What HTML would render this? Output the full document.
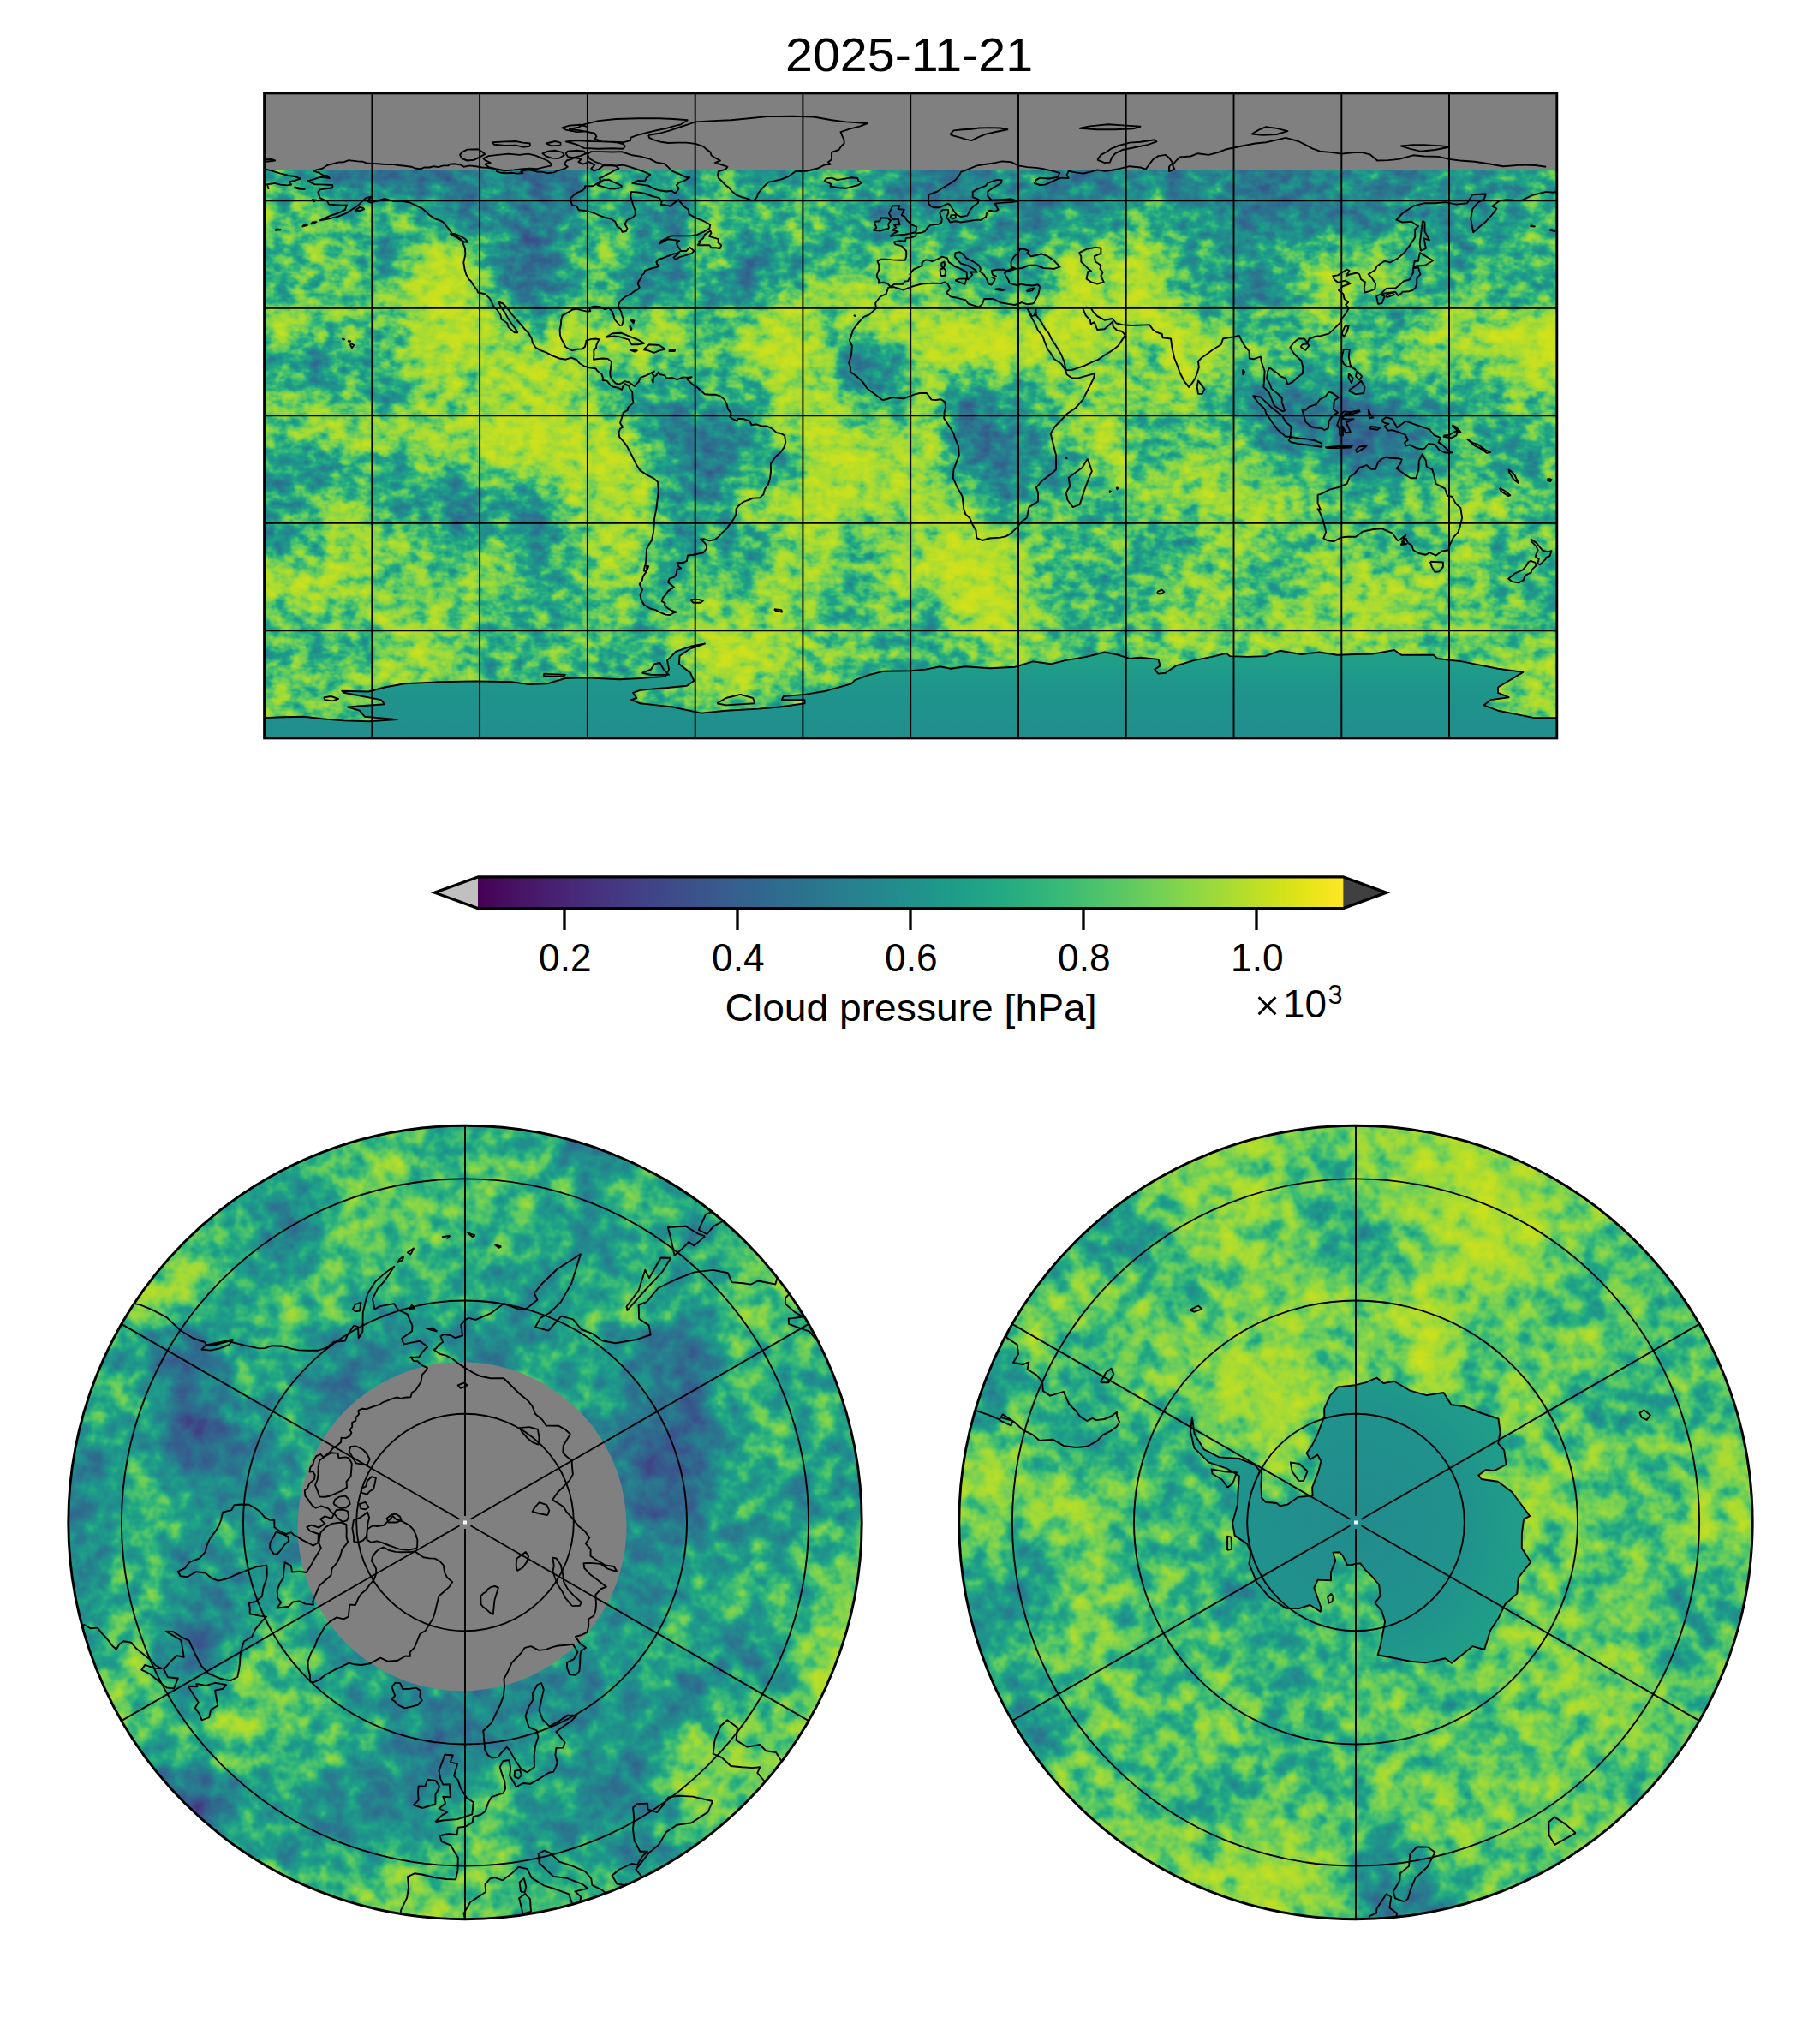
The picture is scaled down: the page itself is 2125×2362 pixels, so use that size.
<!DOCTYPE html>
<html><head><meta charset="utf-8"><title>Cloud pressure 2025-11-21</title>
<style>
html,body{margin:0;padding:0;background:#fff;}
body{width:2125px;height:2362px;overflow:hidden;}
svg{display:block;}
text{font-family:"Liberation Sans",sans-serif;fill:#000;}
</style></head><body>
<svg xmlns="http://www.w3.org/2000/svg" width="2125" height="2362" viewBox="0 0 2125 2362">
<defs><filter id="fr" x="-5%" y="-5%" width="110%" height="110%" color-interpolation-filters="sRGB">
<feGaussianBlur in="SourceGraphic" stdDeviation="6" result="b"/>
<feTurbulence type="fractalNoise" baseFrequency="0.05 0.07" numOctaves="3" seed="3" result="t"/>
<feColorMatrix in="t" type="matrix" values="1 0 0 0 0 1 0 0 0 0 1 0 0 0 0 0 0 0 0 1" result="t2"/>
<feComposite in="b" in2="t2" operator="arithmetic" k1="0" k2="1" k3="0.45" k4="-0.225" result="c"/>
<feColorMatrix in="c" type="matrix" values="1 0 0 0 0 1 0 0 0 0 1 0 0 0 0 0 0 0 0 1" result="g"/>
<feComponentTransfer in="g"><feFuncR type="table" tableValues="0.2803 0.2814 0.2819 0.2823 0.2829 0.2831 0.2832 0.2832 0.2831 0.2829 0.2823 0.2819 0.2814 0.2803 0.2796 0.2780 0.2771 0.2762 0.2741 0.2730 0.2706 0.2666 0.2637 0.2606 0.2556 0.2522 0.2486 0.2431 0.2393 0.2355 0.2297 0.2259 0.2220 0.2162 0.2124 0.2068 0.2031 0.1976 0.1941 0.1889 0.1856 0.1806 0.1774 0.1727 0.1696 0.1651 0.1621 0.1577 0.1534 0.1490 0.1433 0.1391 0.1337 0.1299 0.1254 0.1226 0.1201 0.1194 0.1214 0.1281 0.1402 0.1579 0.1807 0.2080 0.2394 0.2741 0.3119 0.3524 0.3952 0.4219 0.4494 0.4870 0.5160 0.5455 0.5756 0.6060 0.6369 0.6473 0.6576 0.6785 0.6889 0.6994 0.7204 0.7309 0.7414 0.7624 0.7729 0.7729 0.7833 0.7833 0.7938 0.7938 0.8042 0.8146 0.8146 0.8249"/><feFuncG type="table" tableValues="0.0734 0.0843 0.0897 0.0950 0.1054 0.1106 0.1157 0.1258 0.1309 0.1359 0.1459 0.1509 0.1558 0.1657 0.1706 0.1804 0.1852 0.1901 0.1997 0.2045 0.2141 0.2283 0.2376 0.2469 0.2607 0.2698 0.2788 0.2921 0.3009 0.3095 0.3224 0.3308 0.3392 0.3515 0.3597 0.3718 0.3797 0.3915 0.3993 0.4109 0.4186 0.4300 0.4375 0.4488 0.4563 0.4674 0.4748 0.4859 0.4970 0.5081 0.5228 0.5338 0.5485 0.5596 0.5743 0.5854 0.6001 0.6111 0.6295 0.6477 0.6659 0.6838 0.7014 0.7187 0.7356 0.7520 0.7678 0.7830 0.7975 0.8058 0.8138 0.8239 0.8312 0.8380 0.8446 0.8507 0.8565 0.8584 0.8602 0.8637 0.8654 0.8671 0.8703 0.8719 0.8734 0.8764 0.8779 0.8779 0.8793 0.8793 0.8807 0.8807 0.8820 0.8834 0.8834 0.8847"/><feFuncB type="table" tableValues="0.3972 0.4074 0.4124 0.4173 0.4269 0.4316 0.4361 0.4450 0.4492 0.4534 0.4615 0.4654 0.4692 0.4765 0.4800 0.4867 0.4899 0.4930 0.4989 0.5017 0.5071 0.5143 0.5188 0.5228 0.5283 0.5316 0.5346 0.5385 0.5408 0.5429 0.5457 0.5473 0.5488 0.5506 0.5517 0.5531 0.5539 0.5550 0.5556 0.5563 0.5568 0.5573 0.5576 0.5579 0.5580 0.5581 0.5581 0.5580 0.5577 0.5573 0.5563 0.5553 0.5535 0.5519 0.5491 0.5466 0.5425 0.5390 0.5320 0.5235 0.5134 0.5017 0.4882 0.4729 0.4557 0.4366 0.4156 0.3926 0.3678 0.3519 0.3354 0.3123 0.2943 0.2756 0.2564 0.2367 0.2166 0.2099 0.2031 0.1895 0.1827 0.1760 0.1626 0.1560 0.1496 0.1371 0.1311 0.1311 0.1254 0.1254 0.1200 0.1200 0.1150 0.1103 0.1103 0.1062"/></feComponentTransfer>
</filter>
<filter id="fp" x="-5%" y="-5%" width="110%" height="110%" color-interpolation-filters="sRGB">
<feGaussianBlur in="SourceGraphic" stdDeviation="6" result="b"/>
<feTurbulence type="fractalNoise" baseFrequency="0.04" numOctaves="3" seed="7" result="t"/>
<feColorMatrix in="t" type="matrix" values="1 0 0 0 0 1 0 0 0 0 1 0 0 0 0 0 0 0 0 1" result="t2"/>
<feComposite in="b" in2="t2" operator="arithmetic" k1="0" k2="1" k3="0.4" k4="-0.2" result="c"/>
<feColorMatrix in="c" type="matrix" values="1 0 0 0 0 1 0 0 0 0 1 0 0 0 0 0 0 0 0 1" result="g"/>
<feComponentTransfer in="g"><feFuncR type="table" tableValues="0.2803 0.2814 0.2819 0.2823 0.2829 0.2831 0.2832 0.2832 0.2831 0.2829 0.2823 0.2819 0.2814 0.2803 0.2796 0.2780 0.2771 0.2762 0.2741 0.2730 0.2706 0.2666 0.2637 0.2606 0.2556 0.2522 0.2486 0.2431 0.2393 0.2355 0.2297 0.2259 0.2220 0.2162 0.2124 0.2068 0.2031 0.1976 0.1941 0.1889 0.1856 0.1806 0.1774 0.1727 0.1696 0.1651 0.1621 0.1577 0.1534 0.1490 0.1433 0.1391 0.1337 0.1299 0.1254 0.1226 0.1201 0.1194 0.1214 0.1281 0.1402 0.1579 0.1807 0.2080 0.2394 0.2741 0.3119 0.3524 0.3952 0.4219 0.4494 0.4870 0.5160 0.5455 0.5756 0.6060 0.6369 0.6473 0.6576 0.6785 0.6889 0.6994 0.7204 0.7309 0.7414 0.7624 0.7729 0.7729 0.7833 0.7833 0.7938 0.7938 0.8042 0.8146 0.8146 0.8249"/><feFuncG type="table" tableValues="0.0734 0.0843 0.0897 0.0950 0.1054 0.1106 0.1157 0.1258 0.1309 0.1359 0.1459 0.1509 0.1558 0.1657 0.1706 0.1804 0.1852 0.1901 0.1997 0.2045 0.2141 0.2283 0.2376 0.2469 0.2607 0.2698 0.2788 0.2921 0.3009 0.3095 0.3224 0.3308 0.3392 0.3515 0.3597 0.3718 0.3797 0.3915 0.3993 0.4109 0.4186 0.4300 0.4375 0.4488 0.4563 0.4674 0.4748 0.4859 0.4970 0.5081 0.5228 0.5338 0.5485 0.5596 0.5743 0.5854 0.6001 0.6111 0.6295 0.6477 0.6659 0.6838 0.7014 0.7187 0.7356 0.7520 0.7678 0.7830 0.7975 0.8058 0.8138 0.8239 0.8312 0.8380 0.8446 0.8507 0.8565 0.8584 0.8602 0.8637 0.8654 0.8671 0.8703 0.8719 0.8734 0.8764 0.8779 0.8779 0.8793 0.8793 0.8807 0.8807 0.8820 0.8834 0.8834 0.8847"/><feFuncB type="table" tableValues="0.3972 0.4074 0.4124 0.4173 0.4269 0.4316 0.4361 0.4450 0.4492 0.4534 0.4615 0.4654 0.4692 0.4765 0.4800 0.4867 0.4899 0.4930 0.4989 0.5017 0.5071 0.5143 0.5188 0.5228 0.5283 0.5316 0.5346 0.5385 0.5408 0.5429 0.5457 0.5473 0.5488 0.5506 0.5517 0.5531 0.5539 0.5550 0.5556 0.5563 0.5568 0.5573 0.5576 0.5579 0.5580 0.5581 0.5581 0.5580 0.5577 0.5573 0.5563 0.5553 0.5535 0.5519 0.5491 0.5466 0.5425 0.5390 0.5320 0.5235 0.5134 0.5017 0.4882 0.4729 0.4557 0.4366 0.4156 0.3926 0.3678 0.3519 0.3354 0.3123 0.2943 0.2756 0.2564 0.2367 0.2166 0.2099 0.2031 0.1895 0.1827 0.1760 0.1626 0.1560 0.1496 0.1371 0.1311 0.1311 0.1254 0.1254 0.1200 0.1200 0.1150 0.1103 0.1103 0.1062"/></feComponentTransfer>
</filter>
<clipPath id="crect"><rect x="308.6" y="108.9" width="1509.2" height="753"/></clipPath>
<clipPath id="cnp"><circle cx="543.0" cy="1777.5" r="463.2"/></clipPath>
<clipPath id="csp"><circle cx="1583.0" cy="1777.5" r="463.2"/></clipPath></defs>
<text x="1061.6" y="83" font-size="55.5" text-anchor="middle" textLength="289" lengthAdjust="spacingAndGlyphs">2025-11-21</text>
<g clip-path="url(#crect)"><g filter="url(#fr)"><rect x="278.6" y="78.9" width="1569.2" height="51.4" fill="url(#r0)"/><rect x="278.6" y="129.8" width="1569.2" height="21.4" fill="url(#r1)"/><rect x="278.6" y="150.7" width="1569.2" height="21.4" fill="url(#r2)"/><rect x="278.6" y="171.7" width="1569.2" height="21.4" fill="url(#r3)"/><rect x="278.6" y="192.6" width="1569.2" height="21.4" fill="url(#r4)"/><rect x="278.6" y="213.5" width="1569.2" height="21.4" fill="url(#r5)"/><rect x="278.6" y="234.4" width="1569.2" height="21.4" fill="url(#r6)"/><rect x="278.6" y="255.3" width="1569.2" height="21.4" fill="url(#r7)"/><rect x="278.6" y="276.2" width="1569.2" height="21.4" fill="url(#r8)"/><rect x="278.6" y="297.1" width="1569.2" height="21.4" fill="url(#r9)"/><rect x="278.6" y="318.1" width="1569.2" height="21.4" fill="url(#r10)"/><rect x="278.6" y="339" width="1569.2" height="21.4" fill="url(#r11)"/><rect x="278.6" y="359.9" width="1569.2" height="21.4" fill="url(#r12)"/><rect x="278.6" y="380.8" width="1569.2" height="21.4" fill="url(#r13)"/><rect x="278.6" y="401.7" width="1569.2" height="21.4" fill="url(#r14)"/><rect x="278.6" y="422.6" width="1569.2" height="21.4" fill="url(#r15)"/><rect x="278.6" y="443.6" width="1569.2" height="21.4" fill="url(#r16)"/><rect x="278.6" y="464.5" width="1569.2" height="21.4" fill="url(#r17)"/><rect x="278.6" y="485.4" width="1569.2" height="21.4" fill="url(#r18)"/><rect x="278.6" y="506.3" width="1569.2" height="21.4" fill="url(#r19)"/><rect x="278.6" y="527.2" width="1569.2" height="21.4" fill="url(#r20)"/><rect x="278.6" y="548.1" width="1569.2" height="21.4" fill="url(#r21)"/><rect x="278.6" y="569.1" width="1569.2" height="21.4" fill="url(#r22)"/><rect x="278.6" y="590" width="1569.2" height="21.4" fill="url(#r23)"/><rect x="278.6" y="610.9" width="1569.2" height="21.4" fill="url(#r24)"/><rect x="278.6" y="631.8" width="1569.2" height="21.4" fill="url(#r25)"/><rect x="278.6" y="652.7" width="1569.2" height="21.4" fill="url(#r26)"/><rect x="278.6" y="673.6" width="1569.2" height="21.4" fill="url(#r27)"/><rect x="278.6" y="694.6" width="1569.2" height="21.4" fill="url(#r28)"/><rect x="278.6" y="715.5" width="1569.2" height="21.4" fill="url(#r29)"/><rect x="278.6" y="736.4" width="1569.2" height="21.4" fill="url(#r30)"/><rect x="278.6" y="757.3" width="1569.2" height="21.4" fill="url(#r31)"/><rect x="278.6" y="778.2" width="1569.2" height="21.4" fill="url(#r32)"/><rect x="278.6" y="799.1" width="1569.2" height="21.4" fill="url(#r33)"/><rect x="278.6" y="820.1" width="1569.2" height="21.4" fill="url(#r34)"/><rect x="278.6" y="841" width="1569.2" height="51.4" fill="url(#r35)"/></g>
<rect x="308.6" y="108.9" width="1509.2" height="89.8" fill="#808080"/></g>
<g clip-path="url(#cnp)"><g filter="url(#fp)"><rect x="59.8" y="1284.3" width="966.4" height="59.5" fill="url(#n0)"/><rect x="59.8" y="1343.2" width="966.4" height="29.5" fill="url(#n1)"/><rect x="59.8" y="1372.2" width="966.4" height="29.5" fill="url(#n2)"/><rect x="59.8" y="1401.1" width="966.4" height="29.5" fill="url(#n3)"/><rect x="59.8" y="1430.1" width="966.4" height="29.5" fill="url(#n4)"/><rect x="59.8" y="1459" width="966.4" height="29.5" fill="url(#n5)"/><rect x="59.8" y="1488" width="966.4" height="29.5" fill="url(#n6)"/><rect x="59.8" y="1516.9" width="966.4" height="29.5" fill="url(#n7)"/><rect x="59.8" y="1545.9" width="966.4" height="29.5" fill="url(#n8)"/><rect x="59.8" y="1574.8" width="966.4" height="29.5" fill="url(#n9)"/><rect x="59.8" y="1603.8" width="966.4" height="29.5" fill="url(#n10)"/><rect x="59.8" y="1632.8" width="966.4" height="29.5" fill="url(#n11)"/><rect x="59.8" y="1661.7" width="966.4" height="29.5" fill="url(#n12)"/><rect x="59.8" y="1690.6" width="966.4" height="29.5" fill="url(#n13)"/><rect x="59.8" y="1719.6" width="966.4" height="29.5" fill="url(#n14)"/><rect x="59.8" y="1748.5" width="966.4" height="29.5" fill="url(#n15)"/><rect x="59.8" y="1777.5" width="966.4" height="29.5" fill="url(#n16)"/><rect x="59.8" y="1806.4" width="966.4" height="29.5" fill="url(#n17)"/><rect x="59.8" y="1835.4" width="966.4" height="29.5" fill="url(#n18)"/><rect x="59.8" y="1864.3" width="966.4" height="29.5" fill="url(#n19)"/><rect x="59.8" y="1893.3" width="966.4" height="29.5" fill="url(#n20)"/><rect x="59.8" y="1922.2" width="966.4" height="29.5" fill="url(#n21)"/><rect x="59.8" y="1951.2" width="966.4" height="29.5" fill="url(#n22)"/><rect x="59.8" y="1980.1" width="966.4" height="29.5" fill="url(#n23)"/><rect x="59.8" y="2009.1" width="966.4" height="29.5" fill="url(#n24)"/><rect x="59.8" y="2038" width="966.4" height="29.4" fill="url(#n25)"/><rect x="59.8" y="2067" width="966.4" height="29.4" fill="url(#n26)"/><rect x="59.8" y="2095.9" width="966.4" height="29.4" fill="url(#n27)"/><rect x="59.8" y="2124.9" width="966.4" height="29.4" fill="url(#n28)"/><rect x="59.8" y="2153.8" width="966.4" height="29.4" fill="url(#n29)"/><rect x="59.8" y="2182.8" width="966.4" height="29.4" fill="url(#n30)"/><rect x="59.8" y="2211.8" width="966.4" height="59.4" fill="url(#n31)"/></g><circle cx="539.5" cy="1782.3" r="192" fill="#808080"/></g>
<g clip-path="url(#csp)"><g filter="url(#fp)"><rect x="1099.8" y="1284.3" width="966.4" height="59.5" fill="url(#s0)"/><rect x="1099.8" y="1343.2" width="966.4" height="29.5" fill="url(#s1)"/><rect x="1099.8" y="1372.2" width="966.4" height="29.5" fill="url(#s2)"/><rect x="1099.8" y="1401.1" width="966.4" height="29.5" fill="url(#s3)"/><rect x="1099.8" y="1430.1" width="966.4" height="29.5" fill="url(#s4)"/><rect x="1099.8" y="1459" width="966.4" height="29.5" fill="url(#s5)"/><rect x="1099.8" y="1488" width="966.4" height="29.5" fill="url(#s6)"/><rect x="1099.8" y="1516.9" width="966.4" height="29.5" fill="url(#s7)"/><rect x="1099.8" y="1545.9" width="966.4" height="29.5" fill="url(#s8)"/><rect x="1099.8" y="1574.8" width="966.4" height="29.5" fill="url(#s9)"/><rect x="1099.8" y="1603.8" width="966.4" height="29.5" fill="url(#s10)"/><rect x="1099.8" y="1632.8" width="966.4" height="29.5" fill="url(#s11)"/><rect x="1099.8" y="1661.7" width="966.4" height="29.5" fill="url(#s12)"/><rect x="1099.8" y="1690.6" width="966.4" height="29.5" fill="url(#s13)"/><rect x="1099.8" y="1719.6" width="966.4" height="29.5" fill="url(#s14)"/><rect x="1099.8" y="1748.5" width="966.4" height="29.5" fill="url(#s15)"/><rect x="1099.8" y="1777.5" width="966.4" height="29.5" fill="url(#s16)"/><rect x="1099.8" y="1806.4" width="966.4" height="29.5" fill="url(#s17)"/><rect x="1099.8" y="1835.4" width="966.4" height="29.5" fill="url(#s18)"/><rect x="1099.8" y="1864.3" width="966.4" height="29.5" fill="url(#s19)"/><rect x="1099.8" y="1893.3" width="966.4" height="29.5" fill="url(#s20)"/><rect x="1099.8" y="1922.2" width="966.4" height="29.5" fill="url(#s21)"/><rect x="1099.8" y="1951.2" width="966.4" height="29.5" fill="url(#s22)"/><rect x="1099.8" y="1980.1" width="966.4" height="29.5" fill="url(#s23)"/><rect x="1099.8" y="2009.1" width="966.4" height="29.5" fill="url(#s24)"/><rect x="1099.8" y="2038" width="966.4" height="29.4" fill="url(#s25)"/><rect x="1099.8" y="2067" width="966.4" height="29.4" fill="url(#s26)"/><rect x="1099.8" y="2095.9" width="966.4" height="29.4" fill="url(#s27)"/><rect x="1099.8" y="2124.9" width="966.4" height="29.4" fill="url(#s28)"/><rect x="1099.8" y="2153.8" width="966.4" height="29.4" fill="url(#s29)"/><rect x="1099.8" y="2182.8" width="966.4" height="29.4" fill="url(#s30)"/><rect x="1099.8" y="2211.8" width="966.4" height="59.4" fill="url(#s31)"/></g></g>
<g clip-path="url(#crect)"><path d="M308.6 838.1L330 837.2L355.1 836.8L376.1 839.3L401.2 841.4L430.2 842.2L463.7 840.1L426 836.8L419.7 829.7L405.9 825.5L449 822.2L444.8 817.1L401.2 808.8L399.2 806.7L430.2 807.5L449 802.5L472.1 798.3L513.6 796.2L555.5 795.4L597.4 796.2L618 799.1L638.9 798.3L659.9 792L685.1 791.2L722.8 793.3L747.5 792L776.9 789.9L781.1 781.6L779 771.1L789.4 760.7L806.2 754.8L823 751.5L806.2 757.3L793.6 765.7L792.8 775.3L806.2 785.8L810.4 795L802 800.8L776.9 803.3L747.5 805.8L739.1 808.8L743.3 815L737 817.1L747.5 821.3L785.3 825.5L818.8 832.6L847.7 829.7L885.4 827.6L910.6 825.5L939.5 821.3L939.5 817.1L912.7 817.1L914.8 813L939.5 810.9L964.7 806.7L994 798.3L998.2 794.1L1015 787.9L1031.8 783.7L1062.4 783.3L1080.8 781.6L1097.6 778.2L1110.2 780.7L1126.9 778.2L1155.8 780.3L1185.2 778.7L1206.2 772.4L1227.1 775.3L1243.9 771.1L1268.6 766.9L1289.6 761.5L1306.3 764.8L1318.9 769L1331.5 767.8L1352.5 769.9L1354.6 777.4L1348.3 781.6L1352.5 786.6L1360.8 785.8L1373 777.4L1394 771.1L1414.9 766.9L1431.7 762.8L1435.9 766.1L1456.8 766.9L1477.4 766.1L1494.2 759.8L1519.3 764L1540.3 761.5L1561.2 764.8L1581.8 764L1602.7 763.6L1627.9 759L1636.3 764.8L1674 764.8L1678.2 769L1707.1 772.4L1728.1 776.6L1749 780.7L1778.4 784.9L1770 789.9L1749 802.5L1749 808.8L1761.6 814.2L1740.7 817.1L1732.3 823.4L1749 829.7L1770 833.9L1791 838.1L1817.8 838.1L1822.8 866.9L303.6 866.9Z" fill="url(#antg)"/></g><g clip-path="url(#csp)"><path d="M1583 1825.7L1578.6 1827.2L1573.2 1827.3L1570.3 1821.4L1567.4 1815.9L1563.7 1812.3L1556.5 1812.6L1559.2 1822.3L1553.9 1835.8L1554 1845.2L1538.6 1844.6L1534.3 1854L1542.5 1877.3L1541.8 1881.7L1529.5 1874L1516.4 1878.1L1501.7 1877.9L1482.4 1865.3L1467.2 1847.4L1458.4 1825.6L1460.6 1813.1L1456.2 1802.6L1441.7 1792.9L1439.1 1778L1445.1 1756.2L1445.5 1741.4L1446.9 1723.3L1431.9 1714.3L1411.2 1707.4L1394.4 1690.7L1390 1671.8L1391.9 1654.8L1394.7 1674.4L1405.5 1692.1L1423.4 1701.4L1446.9 1703L1464.8 1710.1L1473.2 1719.8L1472.5 1733.5L1473 1748.6L1477.9 1753.8L1490.7 1755L1494.4 1758.3L1503.5 1756.6L1515.5 1747.9L1532.6 1746.4L1532.1 1736.8L1536.2 1726.2L1539.3 1718.2L1542.5 1706L1538.3 1698.6L1529.8 1704L1525.5 1696.6L1532 1687.4L1538.3 1674.7L1546.3 1653.6L1546.2 1644.7L1552.9 1629.7L1562.2 1619.4L1582.4 1617.2L1595 1614.1L1607.4 1608.5L1615.2 1615.1L1627.8 1612.7L1645.6 1623.3L1665.6 1629.1L1685.6 1626L1694.5 1640.2L1709.8 1642L1729.7 1650L1749.5 1656.5L1751.6 1672.2L1749.2 1685.4L1756.1 1693.1L1758.7 1710L1744.6 1717.1L1734.9 1716.1L1726.2 1722.5L1729.7 1727L1748.7 1729.7L1765.1 1741.8L1776.3 1756.8L1786.1 1770.1L1779.1 1773.7L1776.9 1790.7L1776.8 1807.5L1787.2 1823.9L1772.8 1842.1L1771.3 1860.6L1757.2 1873.3L1749.8 1888.8L1740.2 1903.4L1733.1 1926L1719.3 1922.2L1695 1941.7L1687.3 1936.3L1664.4 1941.4L1646.6 1939.7L1629.7 1936.3L1608.6 1932.2L1611.9 1921.1L1617.1 1893.2L1613.4 1880.9L1605.4 1871.5L1611.6 1863.6L1610.2 1850.5L1601.4 1840L1594.2 1833.1L1588.4 1825.4L1583 1825.7Z" fill="url(#antr)"/></g><g clip-path="url(#crect)"><path d="M358.9 211L367.3 215.2L379.9 215.6L388.3 216L388.3 219.3L373.6 221.4L371.5 224.4L373.6 231.1L382 234.8L384.1 238.6L398.7 239.8L405 239.4L402.9 244.9L394.5 249L386.2 251.6L377.8 255.3L373.6 257.4L384.1 255.3L394.5 252.8L405 248.6L411.3 244.4L417.6 240.3L421.8 236.1L426.8 231.5L434.4 229.4L428.9 234.8L432.3 236.5L442.8 234L449 231.9L459.5 234.8L470 234.8L478.4 236.5L486.8 240.3L493.1 243.6L497.2 246.9L501.4 251.1L507.7 255.3L514 257.4L517.4 259.5L520.3 262.8L524.5 267.9L527.4 272.1L528.7 274.1L537.1 278.3L541.3 282.5L540.4 283.8L542.9 289.6L543.4 297.1L541.3 306.4L542.5 313.9L544.2 320.2L547.6 326.4L549.7 328.1L552.2 332.3L557.2 339L558 341.5L566.4 343.2L571.9 348.6L574.4 353.6L576.9 358.6L580.3 361.6L584.4 367.8L585.3 372.5L592.4 377.5L593.7 382.1L600.8 388.3L604.2 388.3L602.1 384.2L597.9 378.7L592.4 370.4L589.5 364.9L585.3 359.1L581.9 352.4L587.4 354.5L592.4 359.9L597.9 367.4L604.2 374.5L608.3 379.1L612.5 384.2L616.7 388.3L620.9 395.5L621.8 400.1L625.5 405.9L630.6 408.8L637.3 411.4L644.4 415.1L653.2 418.5L660.7 419.7L667 417.6L673.3 420.1L676.7 424.3L681.7 427.3L688 429.3L695.5 430.2L697.2 432.7L702.7 437.3L703.9 441.1L703.5 444L707.3 444.4L709 445.2L712.7 449.8L715.7 451.5L721.5 452.8L726.1 454.9L727 451.9L729.5 448.2L734.1 450.7L735.4 454L738.3 457.8L738.7 466.6L739.6 470.3L733.7 475.4L732.4 479.1L727.8 481.6L726.1 487.5L724 493.8L727 498.8L724 500.5L722.4 505.1L723.2 510.1L729.1 516.8L732.9 522.6L737.9 532.3L743.3 543.1L747.5 549.4L755.1 554.4L763.5 558.6L768.1 562.8L768.9 573.2L767.6 583.7L766.4 593.3L763.9 606.7L763.5 615.1L762.6 623.4L760.9 631L758 635.2L755.1 641L754.7 648.5L754.2 654.8L753.4 660.3L757.2 661.1L754.7 667.4L750.9 672.8L749.6 677.8L746.7 682L750 688.3L747.5 694.6L748.8 700.8L752.1 706.3L759.3 710.5L765.6 712.1L771.8 715.5L777.3 717.6L782.3 718L786.5 715.5L789.9 714.6L784.4 713L779.4 710L776 706.3L776.5 704.2L772.7 702.1L773.9 697.9L776.9 695L779.8 690.4L786.9 685.4L780.2 679.9L781.5 675.7L787.4 673.6L789.9 669.5L790.7 664.4L795.3 663.6L792.4 661.5L790.7 656.9L797 657.3L802 654.8L802.9 648.5L809.6 647.7L821.3 645.2L825.1 640.2L825.1 637.3L822.6 633.5L818 629.7L822.1 629.3L828.4 631.4L834.7 630.1L839.3 626.4L843.9 621.4L848.6 617.2L852.8 610.9L856.9 605.5L859.5 600.4L859.5 594.2L862 590.8L868.3 585.8L874.5 583.7L878.7 581.6L887.1 581.2L891.3 577.4L893 571.2L896.8 565.7L898.9 559.4L900.1 550.2L899.7 541.9L901.8 538.5L906 532.7L911 528.5L915.6 522.2L917.3 515.9L916.1 508.4L912.3 506.3L906.8 505.1L901.4 500.5L895.5 497.5L889.2 497.5L882.9 495.4L877.5 496.3L875.4 491.7L868.3 489.2L862 488.7L859.9 491.3L855.7 489.2L852.3 486.7L853.6 482.1L850.2 477.9L848.1 470.8L846 466.6L841 462.4L834.7 460.7L828.4 460.7L823 460.3L818.8 456.5L813.8 451.9L809.2 449.4L805.4 445.7L802 442.3L803.3 440.6L797 440.6L790.7 443.1L785.3 441.1L778.1 441.5L776 438.1L770.6 437.3L768.9 434.4L766.4 438.1L763 440.2L762.6 446.9L761.4 444L763.9 439.4L761.8 436.5L763.9 433.5L760.1 435.6L755.1 438.1L751.7 439.4L747.5 441.1L745.8 445.7L743.3 448.2L740.8 451.1L738.7 449.4L734.9 446.5L729.5 445.2L725.7 447.3L722 448.6L718.6 447.3L715.7 444.4L712.7 439.8L712.3 435.2L713.1 428.9L714 422.6L709.8 418.9L703.5 418.5L696.4 419.3L693 419.7L693.4 415.1L693.4 408.8L696 406.3L696.4 402.6L699.3 396.3L695.5 395.5L690.5 395.9L684.6 397.6L683.8 401.3L683 404.7L679.6 407.6L674.2 407.6L668.3 409.3L663.7 407.2L659.9 404.7L658.2 400.5L655.3 395.5L654 391.3L653.6 385L654.9 378.7L655.3 373.3L656.6 368.3L662.8 364.9L668.3 361.6L673.3 360.7L679.6 362.4L685.1 363.7L689.3 363.2L688 359.1L694.3 357.8L700.6 358.2L706 361.2L711.1 359.9L714.4 363.2L716.5 368.3L717.3 372.5L720.3 376.2L723.6 380L726.1 379.6L727.4 375.8L727.8 372.5L725.7 367L725.3 364.1L722.8 359.9L722 355.7L724.5 351.1L729.9 346.5L736.2 343.6L740.4 340.2L744.6 338.1L746.7 335.6L744.6 331L745.8 328.1L748.4 325.2L749.2 321.4L752.1 319.3L753 316L757.2 314.7L761.8 313L766.8 311.8L769.7 310.5L767.2 308.4L766.4 305.9L768.9 302.6L773.9 301.3L778.1 299.7L782.3 298L785.7 296.7L789.9 295.9L793.6 293.8L791.5 296.7L786.5 300.5L788.6 303L793.6 300.1L797.8 298.8L803.3 297.1L807.5 295.9L810.4 293L807.5 290.5L805.4 288.8L801.2 293L794.9 293L791.5 287.5L789.9 284.2L793.2 281.3L786.5 280L780.2 279.2L776 281.3L769.7 284.6L771.8 281.3L778.1 278.3L783.2 275.4L794.9 275.4L805.4 275.4L813.8 274.1L822.1 270.4L828.4 266.6L829.3 262.4L824.2 259.5L820.1 257.4L814.6 255.3L809.6 252.8L804.5 249.9L804.1 244.9L799.1 241.5L794.5 236.1L792.4 233.1L788.6 236.1L782.3 240.7L776.9 239.4L771.8 239L772.7 235.2L769.7 231.1L761.4 229L753 226L746.7 224.8L737 223.9L736.2 229.4L737.9 234.8L739.6 240.7L741.7 246.1L741.7 251.1L738.3 254.1L732 257L729.5 261.6L732.4 266.6L730.8 270L726.6 270.8L724.9 267L720.3 264.1L718.2 258.7L713.1 255.3L706.9 254.1L700.6 252L694.3 249L689.3 247.4L683.8 246.1L675.8 245.3L673.3 240.7L667.9 239.4L666.6 235.2L666.2 231.5L669.6 228.1L673.3 225.2L679.6 222.7L683 219.8L683 217.2L692.2 217.2L697.2 214.3L701.4 211L699.7 208L703.5 206.8L707.3 204.3L711.9 202.2L717.8 198.8L722.4 196.8L719 193.8L713.1 193.4L704.8 193L699.3 197.6L693 199.3L690.1 196.8L694.3 192.6L688 189.2L680.5 191.7L675.4 189.2L678.8 185.5L671.2 184.2L667 185.9L661.6 187.5L658.7 191.7L662.8 194.7L659.5 196.8L654.5 198.4L650.3 199.7L646.5 201.4L638.9 202.2L633.9 200.9L627.2 200.5L618.8 198.4L612.5 198.8L608.3 200.5L610.4 202.2L604.2 202.6L597.9 201.8L591.6 202.2L585.3 201.8L579.8 200.1L582.4 198L575.2 196.8L569.8 195.9L563.1 195.5L555.9 194.2L548.4 193.4L541.7 194.7L538.3 192.6L530.8 191.3L525.3 191.7L523.2 193.4L517.4 193.4L511.9 195.1L506.1 194.2L501.9 195.5L495.2 195.5L491.8 197.2L485.9 196.8L480.1 194.7L472.5 193.8L465.8 193L459.5 192.1L452.8 192.1L446.9 191.7L441.1 191.3L434.4 190.9L428.1 190.5L423.9 188.8L417.6 188.4L407.1 187.1L401.7 189.2L394.5 189.6L388.3 191.3L382 193L376.5 196.8L369.4 198.4L366 199.7L373.6 202.2L377.4 204.7L382.8 205.5L384.9 208L379.9 207.2L373.6 206.8L367.7 208.9L361.8 210.6L358.9 211M757.2 157.8L769.7 155.8L782.3 152.4L790.7 149.5L803.3 145.3L811.7 142.4L832.6 141.1L853.6 140.3L874.5 138.2L895.5 136.1L924.9 135.7L950 136.5L971 140.3L987.7 142.4L1012.9 144L1004.5 147.4L991.9 150.7L981.5 154.1L983.5 159.1L985.6 163.3L985.6 167.5L981.5 171.7L979.4 175L971 177.9L971 182.1L971 186.3L966.8 189.6L969.7 191.7L962.6 192.6L954.2 196.8L941.6 199.7L929 200.1L920.7 206L912.3 209.3L903.9 211.4L897.2 212.6L893.4 216.4L889.2 220.6L885 226L883.8 230.2L880.8 233.6L877.9 234.4L872.5 231.9L866.2 230.2L859.9 227.7L854.8 223.5L851.5 219.3L847.3 216.4L843.1 211.8L838.9 208L838.1 204.3L838.9 200.1L847.3 197.6L849.4 194.7L843.1 192.6L834.7 190.1L841 187.5L834.7 184.2L830.5 181.3L829.3 177.5L825.1 174.6L820.9 170.8L811.7 167.9L801.2 166.6L790.7 166.6L780.2 167L771.8 165.8L763.5 163.3L758 160.8L757.2 157.8M788.6 226L784.4 222.7L778.1 223.5L769.7 222.3L762.6 219.8L757.2 216.8L748.8 215.6L738.3 213.9L744.6 211L753 211.4L755.1 207.2L759.3 203.9L753 200.9L744.6 198L736.2 195.1L727.8 192.6L719.4 193.4L711.1 192.6L702.7 191.7L694.3 188.8L688 185L685.9 180L690.1 177.1L702.7 177.1L715.2 177.5L725.7 177.1L738.3 181.3L748.8 182.9L759.3 185.9L766.4 189.6L776 191.3L780.2 195.1L784.4 199.7L792.8 203L801.2 206.8L805.4 207.2L799.1 211L792.8 213.1L789.9 216.4L792.8 219.8L788.6 226M803.3 140.3L786.5 139L769.7 138.2L744.6 138.2L719.4 139L698.5 141.1L681.7 145.3L675.4 148.6L664.9 150.7L677.5 152.4L694.3 155.8L696.4 159.5L694.3 162L702.7 165.4L715.2 165.8L727.8 166.2L736.2 164.1L736.2 160.8L742.5 158.3L748.8 156.6L757.2 154.5L767.6 152L778.1 149.9L786.5 147.4L794.9 145.3L803.3 140.3M685.9 153.2L673.3 154.1L660.7 151.6L656.6 149.1L664.9 146.6L677.5 145.7L685.9 148.2L685.9 153.2M727.8 173.7L715.2 173.3L698.5 173.7L681.7 172.9L675.4 169.6L669.1 167.5L660.7 165.4L673.3 164.1L690.1 165L706.9 165.4L719.4 166.2L727.8 168.3L729.9 170.8L727.8 173.7M644 193.4L635.6 195.1L627.2 197.2L618.8 196.8L610.4 197.2L600 198.4L589.5 199.3L579 197.2L570.6 195.1L566.4 191.7L572.7 190.1L566.4 187.1L564.3 185L570.6 182.1L581.1 180.9L593.7 179.6L606.2 180.9L616.7 179.6L625.1 181.7L633.5 185L639.8 188L642.7 190.5L644 193.4M539.2 185L545.5 187.5L553.8 186.7L560.1 183.4L566.4 180L562.2 176.7L558 174.2L545.5 174.6L539.2 177.9L537.1 180.9L539.2 185M652.4 185L644 184.6L637.7 182.5L633.5 179.2L639.8 176.7L648.2 175.8L656.6 177.9L658.7 181.3L652.4 185M669.1 184.2L662.8 182.9L660.7 179.2L662.8 176.7L673.3 175.8L681.7 176.7L684.6 179.2L677.5 182.1L669.1 184.2M618.8 170.8L610.4 171.7L602.1 169.6L589.5 170L576.9 168.7L574.8 166.2L589.5 165.4L602.1 165L610.4 166.6L618.8 167.5L618.8 170.8M654.5 169.6L644 170.4L637.7 167.5L648.2 165L654.5 166.6L654.5 169.6M725.7 218.9L717.3 220.6L711.1 220.2L702.7 217.7L697.6 216.4L700.6 213.5L704.8 210.1L711.1 209.7L715.2 212.2L721.5 214.7L725.7 216.8L725.7 218.9M968.9 217.7L971 215.2L962.6 211.4L964.7 208.5L971 207.6L977.3 210.1L985.6 208.9L994 207.2L1001.2 208L1002.4 211.4L1006.2 213.1L1002.4 216L996.1 217.7L987.7 219.8L979.4 219.3L973.1 218.1L968.9 217.7M1109.3 157L1113.5 152.4L1124 151.2L1134.5 150.7L1142.9 149.5L1155.4 149.1L1168 149.5L1176.4 151.2L1163.8 153.7L1151.2 156.6L1142.9 159.9L1134.5 164.1L1128.2 162.9L1121.9 160.8L1113.5 158.7L1109.3 157M1281.2 186.7L1285.4 180.9L1291.7 177.5L1298 173.3L1306.3 170L1318.9 166.6L1331.5 165.8L1348.3 163.3L1350.4 165.4L1339.9 169.1L1323.1 172.5L1310.5 175L1302.2 179.2L1298 184.2L1295.9 189.6L1289.6 190.1L1281.2 186.7M1461.5 156.6L1469.8 151.6L1478.2 148.2L1490.8 149.9L1503.4 153.2L1490.8 157L1474 157.8L1461.5 156.6M1635.4 170.4L1650.1 169.1L1662.7 169.1L1683.6 170.4L1692 171.7L1675.3 175L1658.5 176.7L1645.9 173.7L1635.4 170.4M310.7 186.3L317 185.9L321.2 187.5L310.7 188.8M351.8 208.9L344.2 206L335.8 204.7L327.5 202.6L317 199.3L308.6 197.2M1805.2 194.7L1792.6 193L1775.9 192.6L1754.9 194.2L1738.1 191.3L1721.4 188.8L1704.6 187.5L1692 185.9L1679.5 182.9L1662.7 182.5L1650.1 181.3L1633.3 185.9L1620.8 187.1L1608.2 187.5L1599.8 180.4L1589.3 177.9L1578.8 178.3L1566.3 179.6L1553.7 177.9L1541.1 176.7L1532.7 173.7L1524.3 169.1L1516 165L1501.3 160.8L1490.8 163.3L1478.2 166.2L1465.7 167.5L1448.9 170.8L1432.1 174.2L1423.7 177.5L1411.2 180.9L1398.6 179.2L1390.2 182.5L1377.6 183.4L1373.4 187.5L1369.2 192.6L1371.3 197.6L1365 200.1L1365 194.7L1369.2 190.1L1365 184.2L1360.8 180.9L1352.5 182.1L1346.2 186.3L1342 191.7L1337.8 197.6L1331.5 195.5L1318.9 194.2L1306.3 197.2L1298 198.8L1289.6 199.7L1281.2 198.4L1272.8 200.9L1264.4 202.6L1256 201.4L1247.7 199.7L1245.6 204.3L1247.7 208L1239.3 207.6L1235.1 208.9L1228.8 211.8L1220.4 215.6L1214.1 216L1207.8 213.9L1209.9 210.1L1214.1 207.6L1224.6 208.5L1235.1 206.8L1237.2 201.8L1228.8 199.7L1218.3 197.2L1209.9 195.9L1199.4 195.1L1189 193.4L1180.6 189.2L1170.1 188.4L1161.7 190.1L1151.2 191.7L1140.8 193.4L1130.3 197.6L1121.9 200.9L1119.8 205.1L1115.6 210.1L1109.3 214.3L1100.9 219.3L1094.6 223.5L1084.2 227.3L1084.2 232.3L1084.2 237.7L1086.7 240.7L1090.4 242.3L1096.7 242.3L1100.9 240.3L1107.2 237.7L1109.3 239.4L1111.4 242.8L1113.5 246.1L1116.9 250.7L1121.9 253.2L1129.4 251.6L1132.4 245.7L1136.6 240.7L1142 236.9L1142.9 233.1L1135.7 230.2L1135.7 223.9L1142.9 219.8L1151.2 216.8L1153.3 213.5L1163.8 210.1L1169.7 210.1L1168.8 213.9L1159.6 219.3L1153.3 223.5L1153.3 229L1157.5 233.6L1168 233.1L1180.6 232.3L1189 234.8L1180.6 236.1L1168 236.9L1161.7 237.7L1163.8 241.5L1165.5 244.9L1161.7 246.9L1155.4 245.7L1152.1 249L1151.2 253.2L1147.9 255.3L1144.9 257L1140.8 256.6L1130.3 258.2L1121.9 259.5L1115.6 258.2L1109.3 259.5L1107.2 256.2L1105.1 253.2L1107.2 249L1107.2 244.9L1100.9 244.9L1097.2 247.8L1098.4 252.4L1099.7 255.3L1099.3 259.5L1096.7 261.6L1092.5 262L1086.3 262.8L1082.9 265.8L1080 270L1075.8 271.6L1069.9 272.5L1069.1 275.4L1063.2 277.5L1057.8 277.9L1056.9 281.7L1050.6 281.3L1043.9 282.5L1045.6 285.4L1052.7 287.1L1055.7 290.5L1058.2 293L1058.2 299.2L1056.9 303.8L1050.6 303.8L1042.2 303.4L1033.9 302.6L1028.8 302.6L1024.6 304.7L1026.3 309.7L1026.3 314.7L1023.8 321L1024.2 324.3L1026.3 327.3L1025.9 330.6L1031.8 329.8L1036.8 331.5L1039.7 334.8L1044.3 331.9L1054 331.9L1056.5 328.5L1060.3 328.1L1061.9 324.3L1063.2 322.7L1062.4 320.2L1066.6 314.7L1076.6 310.1L1076.6 306.4L1080 303.8L1083.3 303.4L1088.4 305.1L1095.5 302.2L1100.1 299.7L1106 301.3L1107.6 305.9L1114.8 311L1119.8 313L1128.6 317.6L1129 323.9L1130.3 326.4L1132.8 323.9L1135.3 320.6L1132.8 317.2L1140.8 317.6L1138.7 315.1L1130.3 310.1L1121.9 307.6L1114.8 299.7L1115.6 295.1L1120.2 294.2L1124 296.3L1128.2 301.3L1136.6 305.5L1142.9 309.7L1144.9 313.9L1144.1 316.8L1149.1 321L1151.7 325.2L1154.2 331.5L1157.5 332.7L1160.5 328.5L1161.7 325.6L1158.4 323.9L1163 322.7L1158.8 320.6L1157.9 316L1163.8 314.7L1172.2 314.7L1175.1 316.4L1180.6 313.9L1184.8 313L1180.6 311.4L1180.6 305.5L1183.5 300.1L1187.7 295.9L1191.1 290.9L1195.3 290.5L1201.5 293L1199.4 295.5L1203.6 299.2L1209.9 298L1216.2 296.3L1222.5 298.8L1229.6 303.4L1237.6 311.4L1230.9 313.9L1218.3 313L1209.9 309.7L1201.5 309.7L1193.2 313L1185.6 313.9L1173 318.1L1174.3 322.2L1177.6 327.3L1178.5 330.6L1182.7 331.9L1189 333.5L1191.5 331.5L1197.4 332.7L1205.7 333.5L1212 332.3L1214.1 334.8L1213.3 339.8L1212 344.4L1209.9 348.2L1207.8 353.2L1205.7 354.5L1199.4 355.3L1193.2 353.2L1189 354.5L1184.8 356.1L1168 353.2L1159.6 349L1149.1 349L1147 354.9L1142.9 358.6L1130.3 354.5L1127.3 350.3L1117.7 347.8L1110.2 346.5L1105.1 341.9L1109.3 336.9L1106.4 331.5L1103 329.4L1098.8 331L1088.4 330.6L1075.8 331.5L1063.2 335.2L1054.8 338.6L1043.5 335.2L1037.2 335.6L1034.7 343.2L1027.6 346.5L1022.1 354L1023 359.9L1015 367.4L1008.7 369.9L1002.4 376.6L996.1 385L991.9 397.6L994.9 403.8L994 414.3L991.1 423.9L993.2 428.9L992.8 433.9L1000.3 439.4L1007.4 446.1L1012.9 454L1017.1 457L1029.7 466.6L1031.8 467L1042.2 464.1L1054.8 465.3L1067.4 460.7L1073.7 459L1082.1 459L1087.5 466.6L1092.5 467L1098.8 466.2L1103 469.1L1104.3 474.9L1102.6 481.2L1102.2 488.3L1109.3 499.2L1113.5 506.3L1114.8 510.9L1119 521L1119.8 531.4L1113.5 548.1L1112.7 557.8L1117.7 569.1L1123.6 579.5L1125.2 594.2L1127.3 600.4L1132.4 605L1135.7 613L1139.5 619.3L1140.3 628.1L1144.9 630.1L1147 631L1155.4 628.5L1168 627.6L1174.3 626.4L1180.6 622.6L1186.9 616.3L1193.2 608.8L1199 604.6L1201.1 594.2L1201.5 592.1L1212 585.4L1212 575.3L1209.9 569.1L1217.5 560.7L1228.8 552.3L1233 548.1L1233 531.4L1228.8 514.7L1226.7 506.3L1231.7 498L1237.2 492.5L1245.6 483.3L1256 476.2L1264.4 466.6L1270.7 454L1277 441.5L1278.3 436L1270.7 438.1L1260.2 441.1L1251.8 441.5L1245.6 437.3L1244.3 432.7L1239.3 424.7L1230.9 419.3L1226.7 412.2L1223.3 408L1219.2 397.6L1217.5 392.5L1212 385.8L1207.8 376.6L1203.6 369.1L1199.9 360.3L1204.9 369.1L1207.4 368.3L1209.5 362L1209.9 368.3L1216.2 376.6L1220.4 384.2L1224.6 389.2L1227.5 395.5L1233 403.8L1239.3 414.3L1242.6 422.6L1244.7 432.3L1251.8 431.9L1266.5 426.8L1277 421.8L1282 420.1L1289.6 414.7L1295.9 410.9L1301.3 407.2L1305.5 403.8L1308.4 399.6L1313.9 391.3L1309.7 386.7L1304.3 385.8L1299.6 381.2L1299.2 375.4L1295.9 378.7L1289.6 384.2L1281.2 385L1279.1 379.6L1277.8 376.2L1273.6 378.3L1272.8 373.7L1267.8 368.3L1264.4 360.3L1268.6 358.6L1273.6 359.5L1277 364.9L1281.2 369.1L1289.6 373.7L1298.8 372L1303.4 377.5L1310.5 379.1L1321 380L1331.5 379.6L1342 379.1L1346.2 385L1350.4 387.9L1356.7 390L1357.5 394.2L1367.1 395.5L1368.4 405.9L1371.3 418.5L1375.5 428.9L1377.6 435.2L1383.1 445.7L1388.1 451.9L1391 448.6L1395.2 442.3L1397.7 436L1399.8 428.9L1399 421.8L1403.6 417.2L1408.2 414.3L1415.3 408.8L1425.8 402.2L1427.9 395.5L1434.2 394.2L1440.5 393.4L1446.8 391.7L1449.7 397.6L1453.1 403.8L1458.5 410.1L1458.9 418.5L1463.6 419.3L1471.9 416.4L1472.8 422.6L1476.6 433.1L1476.1 443.6L1475.3 451.9L1481.6 458.2L1484.1 464.5L1487.9 473.7L1497.1 480L1500 479.5L1496.7 469.5L1496.7 464.5L1491.6 459.5L1484.5 454L1482.4 447.8L1479.1 442.3L1480.3 433.1L1482.4 428.9L1486.2 432.3L1490.8 435.2L1495 439.4L1501.3 441.9L1503.4 449L1509.7 445.7L1513.9 441.5L1521 436L1521.4 428.9L1519.3 421L1510.9 413L1506.3 405.9L1510.1 400.5L1516 395.5L1523.1 395.5L1526.4 400.5L1528.5 395.5L1536.9 392.5L1542 392.1L1551.6 389.6L1558.7 382.9L1564.2 377.5L1566.3 372.5L1571.3 366.2L1574.7 359.9L1571.3 355.7L1574.2 352.8L1569.6 349L1568.4 343.2L1562.9 339L1567.5 334.4L1576.7 331L1570.5 327.7L1562.1 329.8L1557.9 326.4L1556.2 322.2L1562.1 321.4L1568.4 317.2L1572.6 314.7L1575.5 316L1571.7 322.2L1576.7 320.2L1584.3 318.5L1587.2 320.2L1588.9 326L1593.9 329.4L1592.7 336.9L1593.5 341.5L1599 340.2L1605.3 337.7L1606.1 331.5L1602.3 325.2L1597.7 320.2L1606.1 314.7L1607.4 311L1611.1 308.4L1616.6 304.7L1622.9 306.4L1631.2 302.2L1639.6 295.1L1645.9 286.7L1652.2 277.1L1652.2 267.9L1656 264.1L1648 258.7L1637.5 259.5L1630.4 256.6L1637.5 249L1650.1 240.7L1662.7 237.3L1675.3 237.3L1687.8 236.1L1700.4 238.6L1713 237.3L1719.3 227.3L1734.8 226.5L1733.1 231.9L1725.6 236.5L1719.3 244L1717.2 255.3L1720.1 271.2L1727.7 264.5L1734 259.5L1742.3 250.3L1747.4 243.6L1742.3 240.7L1750.7 234.4L1759.1 233.1L1775.9 234.4L1788.5 228.1L1805.2 223.9L1813.6 224.8L1817.8 223.5M313.6 221L312 215.2L321.2 213.9L327.5 215.6L335.8 216.4L340 215.6L337.9 212.2L344.2 211L348.4 209.3L351.8 208.9M1039.3 275.8L1046.4 274.6L1056.9 273.7L1069.1 271.2L1070.3 264.9L1064.5 262.4L1063.2 261.2L1059 257.4L1056.5 253.2L1052.7 251.1L1055.7 244.9L1048.5 244L1050.6 240.3L1042.2 240.3L1040.1 244.9L1038 249L1040.1 253.2L1043.1 256.2L1048.9 255.7L1049.8 259.5L1050.6 262.4L1043.9 262.4L1046.4 265.8L1041.4 268.7L1048.5 270.4L1044.3 272.1L1039.3 275.8M1038 267L1037.2 261.6L1040.1 257.4L1036 254.5L1028.4 254.5L1027.1 258.2L1021.3 258.7L1021.7 262L1023.4 265.8L1020 268.7L1027.6 269.5L1036.4 267L1038 267M1606.9 345.3L1609 354.9L1613.6 354L1616.6 346.1L1612.4 343.6L1606.9 345.3M1612 343.2L1618.7 336.9L1630 336.1L1633.3 333.5L1638.8 328.5L1645.9 326.4L1650.1 318.1L1650.1 313L1656 312.2L1658.5 320.2L1654.3 325.2L1654.3 331.5L1652.6 336.1L1649.3 339L1645.1 340.2L1637.5 340.7L1636.7 341.9L1632.5 345.3L1629.1 340.7L1620.8 341.9L1612.4 343.2L1612 343.2M1618.7 347.4L1627.9 344L1625.8 341.9L1619.5 343.2L1618.7 347.4M1650.1 311.8L1654.3 310.5L1663.9 309.7L1673.2 304.3L1666.9 300.5L1658.1 295.1L1656.8 299.2L1656 304.7L1651.8 304.7L1650.1 311.8M1658.9 293L1664.8 290L1662.7 278.3L1669 280.4L1663.5 270L1663.5 259.5L1661 258.2L1659.3 272.1L1657.7 284.6L1658.9 293M1566.7 389.2L1569.2 393.4L1572.6 387.1L1574.7 380.8L1570.5 380.8L1566.7 389.2M1518.5 405.1L1524.3 408.8L1528.5 403.4L1526.4 401.3L1520.6 402.2L1518.5 405.1M1397.7 451.9L1399 444.4L1406.5 454.4L1403.6 459.9L1399 459.9L1397.7 451.9M1566.3 418.5L1568.8 408L1575.9 408L1574.7 416.4L1576.7 426.8L1583 431.9L1578.8 428.9L1572.6 427.7L1568.8 424.7L1566.3 418.5M1574.7 456.1L1583 460.3L1592.3 459L1593.5 451.9L1589.3 444.8L1582.2 450.7L1574.7 456.1M1584.3 433.1L1590.2 439.4L1587.2 443.6L1583 439.4L1584.3 433.1M1574.7 436L1579.7 441.5L1578 447.3L1574.7 441.5L1574.7 436M1520.2 477.9L1524.3 478.7L1528.5 474.9L1536.9 472L1541.1 466.2L1547.4 463.2L1551.6 457.4L1555.8 459L1562.9 464.1L1557.9 467.4L1557 477.9L1562.1 481.6L1555.8 485.4L1551.6 491.7L1550.8 500L1546.1 502.1L1543.2 500L1534.8 499.2L1530.6 498L1524.3 492.5L1522.2 484.6L1520.2 477.9M1462.7 462L1471.9 463.6L1483.7 474.9L1497.1 485.4L1501.3 492.9L1507.6 498L1506.7 509.7L1501.3 509.7L1492.1 502.1L1485.8 493.8L1478.2 482.5L1477 477.9L1469.8 470.8L1462.7 462M1504.2 513.8L1507.6 510.1L1517.2 511.8L1526.4 512.6L1535.2 514.3L1543.2 517.6L1543.2 521.8L1528.5 519.7L1516 518L1507.6 516.4L1504.2 513.8M1547.4 522.2L1562.1 521L1570.5 520.5L1578.8 520.1L1576.7 522.6L1562.1 523.1L1549.5 523.1L1547.4 522.2M1583 525.1L1587.2 521.4L1595.6 520.5L1591.4 523.9L1584.3 528.1L1583 525.1M1564.2 508.4L1563.8 500L1561.2 496.3L1565.4 484.1L1569.2 480.4L1576.7 481.2L1586.8 479.1L1587.6 480.4L1578.8 483.3L1570.5 483.3L1567.1 488.7L1573 489.6L1580.5 489.2L1571.7 493.3L1576.7 504.2L1571.3 505.5L1567.9 498L1567.9 508.4L1564.2 508.4M1597.7 477.9L1599.8 483.3L1603.2 487.5L1599 488.3L1597.7 477.9M1599.8 498L1611.5 499.2L1608.2 501.7L1599.8 500.5L1599.8 498M1612.4 491.3L1618.7 487.1L1625.4 489.2L1631.2 499.2L1641.3 491.7L1654.3 496.3L1669 501.3L1674.4 508L1682 510.9L1679.5 516.4L1683.6 518.9L1690.8 525.6L1695.4 528.5L1687.8 528.5L1680.7 525.6L1675.3 518.9L1667.7 518L1663.5 523.5L1660.6 524.3L1654.3 523.5L1645.9 519.3L1641.7 520.5L1640 516.8L1643.8 513.8L1640.9 507.6L1631.2 503.8L1625 502.1L1620.8 502.6L1616.6 497.5L1621.6 494.6L1616.6 493.8L1612.4 491.3M1685.7 508.4L1692 508L1698.3 504.2L1701.7 503L1700.4 508.4L1694.1 511.3L1685.7 509.7L1685.7 508.4M1713 512.6L1719.3 516.8L1725.6 518.9L1734 525.1L1740.2 528.1L1736.1 528.9L1729.8 524.3L1721.4 520.1L1713 512.6M1761.2 548.1L1764.1 550.2L1768.3 554.4L1772.9 564L1767.5 559.9L1762.5 552.3L1761.2 548.1M1750.7 569.9L1757 573.2L1763.3 578.3L1761.2 579.1L1752.8 573.7L1750.7 569.9M1807.3 558.6L1811.5 559.9L1810.3 562L1806.9 561.1L1807.3 558.6M1538.6 577.4L1541.1 577.4L1552.4 571.6L1562.1 569.1L1572.6 564.9L1575.9 556.5L1581.4 553.2L1587.2 546.1L1595.6 543.1L1601.1 547.7L1606.1 547.7L1609 539.8L1612.4 536.4L1618.7 533.5L1622.9 534.8L1632.9 535.2L1636.7 536.4L1635.4 541L1630.8 546.9L1639.6 553.6L1647.2 558.2L1653.5 558.2L1656.4 548.1L1656.8 538.1L1660.6 530.2L1664.8 537.7L1665.6 544.8L1672.3 548.1L1675.3 558.6L1676.5 564.9L1687 570.3L1689.9 578.7L1695.4 579.9L1699.6 587.9L1705.4 593.3L1707.1 604.6L1704.6 615.1L1702.5 621.4L1697.1 627.2L1692 638.1L1691.6 642.3L1683.6 643.5L1676.5 648.5L1669 645.2L1664.8 647.7L1656.4 646L1650.1 642.3L1648.4 636.8L1643.8 633.9L1641.7 628.9L1639.6 633.1L1637.1 632.7L1641.3 624.7L1633.3 631L1631.7 631L1625.8 622.6L1613.2 617.2L1603.6 618L1591.4 620.5L1583 626.8L1572.6 626.8L1565.4 627.6L1557.5 632.2L1549.5 631L1545.3 628.5L1548.2 621.4L1545.3 608.8L1541.1 598.4L1538.6 594.2L1542 595.4L1538.6 587.9L1538.6 577.4M1669.8 655.7L1684.9 656.5L1684.9 661.9L1680.3 667.4L1675.3 667.8L1671.9 661.9L1669.8 655.7M1787.2 629.3L1793.9 633.9L1798.9 640.2L1801 642.7L1807.3 644.4L1811.5 643.1L1809.4 649.4L1805.2 650.6L1804.8 652.7L1798.1 659.4L1795.2 657.8L1796.8 652.7L1792.6 649.8L1795.6 642.3L1793.9 638.1L1788.5 632.7L1787.2 629.3M1787.2 654.8L1792.6 656.9L1793.5 660.3L1788.5 665.3L1787.6 668.6L1780.9 671.6L1778.8 677.4L1772.9 680.3L1765.4 679.1L1761.2 675.7L1768.8 669.5L1778 665.3L1782.2 660.3L1784.7 656.1L1787.2 654.8M1269.9 535.6L1274.9 550.2L1272 556.5L1266.5 571.2L1260.7 589.1L1252.7 592.1L1246.4 583.7L1244.7 575.3L1249.3 567.8L1247.7 557.8L1256 551.5L1263.6 546.1L1269.9 535.6M707.3 393.8L715.2 389.2L725.7 388.8L738.3 394.2L745.8 397.1L752.1 400.9L744.6 402.2L737.5 402.2L734.1 396.7L723.6 393.4L717.3 392.5L707.3 393.8M751.3 408.4L758 402.2L769.7 403L776.5 407.6L769.7 409.3L763.5 411.8L757.2 409.3L751.3 408.4M734.9 408.4L743.8 409.3L741.2 410.5L734.9 408.4M781.5 408.4L788.2 408.4L787.8 410.1L781.5 410.1L781.5 408.4M409.6 400.9L413.4 403L410.9 406.3L409.2 403L409.6 400.9M406.3 397.6L409.2 398.4L407.5 399.2L406.3 397.6M399.6 395L402.1 396.3L400.4 396.3L399.6 395M806.2 700L815.9 700L820.9 701.3L818 703.8L809.6 703.8L806.2 700M903.9 711.3L912.3 712.1L913.1 714.6L906 713.4L903.9 711.3M1268.6 290.9L1279.1 288.8L1285.4 289.6L1285.4 295.9L1277.8 299.2L1279.1 305.5L1285.4 309.7L1284.5 313.9L1287.5 318.1L1285.4 322.2L1288.7 329.4L1281.2 331.5L1274.1 329.4L1268.6 325.6L1270.3 317.2L1274.1 316.4L1270.7 313.9L1266.5 309.7L1262.3 305.5L1262.3 299.2L1260.2 295.1L1268.6 290.9M308.6 838.1L330 837.2L355.1 836.8L376.1 839.3L401.2 841.4L430.2 842.2L463.7 840.1L426 836.8L419.7 829.7L405.9 825.5L449 822.2L444.8 817.1L401.2 808.8L399.2 806.7L430.2 807.5L449 802.5L472.1 798.3L513.6 796.2L555.5 795.4L597.4 796.2L618 799.1L638.9 798.3L659.9 792L685.1 791.2L722.8 793.3L747.5 792L776.9 789.9L781.1 781.6L779 771.1L789.4 760.7L806.2 754.8L823 751.5L806.2 757.3L793.6 765.7L792.8 775.3L806.2 785.8L810.4 795L802 800.8L776.9 803.3L747.5 805.8L739.1 808.8L743.3 815L737 817.1L747.5 821.3L785.3 825.5L818.8 832.6L847.7 829.7L885.4 827.6L910.6 825.5L939.5 821.3L939.5 817.1L912.7 817.1L914.8 813L939.5 810.9L964.7 806.7L994 798.3L998.2 794.1L1015 787.9L1031.8 783.7L1062.4 783.3L1080.8 781.6L1097.6 778.2L1110.2 780.7L1126.9 778.2L1155.8 780.3L1185.2 778.7L1206.2 772.4L1227.1 775.3L1243.9 771.1L1268.6 766.9L1289.6 761.5L1306.3 764.8L1318.9 769L1331.5 767.8L1352.5 769.9L1354.6 777.4L1348.3 781.6L1352.5 786.6L1360.8 785.8L1373 777.4L1394 771.1L1414.9 766.9L1431.7 762.8L1435.9 766.1L1456.8 766.9L1477.4 766.1L1494.2 759.8L1519.3 764L1540.3 761.5L1561.2 764.8L1581.8 764L1602.7 763.6L1627.9 759L1636.3 764.8L1674 764.8L1678.2 769L1707.1 772.4L1728.1 776.6L1749 780.7L1778.4 784.9L1770 789.9L1749 802.5L1749 808.8L1761.6 814.2L1740.7 817.1L1732.3 823.4L1749 829.7L1770 833.9L1791 838.1L1817.8 838.1M378.2 814.2L386.6 813L395 815.9L388.7 818.4L379.4 817.1L378.2 814.2M749.6 785.8L760.1 781.6L764.3 775.3L770.6 774L774.8 781.6L781.1 787.9L760.1 787.9L749.6 785.8M837.2 821.3L847.7 815L864.5 810.9L879.2 815L881.3 821.3L847.7 823.4L837.2 821.3M634.8 786.6L659.9 787.9L657.8 789.9L634.8 789.1L634.8 786.6M814.2 286.3L818 282.5L815.9 282.1L820.9 278.3L823 273.7L829.3 269.5L830.5 272.1L828 275.8L830.5 276.7L834.7 277.9L838.9 279.2L838.5 283.3L842.3 286.3L840.6 290L836 289.2L830.5 289.2L828.4 286.3L818 286.3L814.2 286.3M525.3 272.9L530.8 275.8L537.1 279.6L542.1 282.5L546.3 282.9L543.4 279.2L537.9 275.8L530.8 272.9L525.3 272.9M414.7 245.7L420.5 246.1L425.1 244.4L423.9 242.8L419.7 241.9L414.7 245.7M363.1 261.6L367.3 260.3L369.4 259.1L364.8 259.5L363.1 261.6M352.6 264.5L358.9 262.8L356.8 261.6L352.6 264.5M321.2 268.7L327.5 268.3L323.3 267.4L321.2 268.7M1809.4 268.7L1815.7 270L1811.5 267.9L1809.4 268.7M1786.4 264.1L1791.8 264.5L1788.5 263.3L1786.4 264.1M343.4 218.5L350.5 219.8L355.6 221L348.4 220.6L343.4 218.5M363.9 233.1L369.4 233.6L366.5 235.2L363.9 233.1M1115.2 327.3L1119.8 325.6L1128.6 325.2L1126.5 331.9L1121.9 330.2L1115.2 327.3M1098.4 322.2L1097.6 314.7L1101.8 313L1104.3 316L1103.4 321.8L1098.4 322.2M1099.3 311.8L1099.3 307.2L1102.6 305.5L1103 309.7L1101.8 312.2L1099.3 311.8M1161.7 337.7L1165.9 337.3L1173.5 338.1L1170.1 339L1163.8 338.1L1161.7 337.7M1198.6 340.2L1201.5 337.7L1207.8 336.5L1205.3 339.4L1198.6 340.2M1109.3 254.1L1110.6 251.1L1115.6 251.1L1116 254.1L1112.7 255.3L1109.3 254.1M1260.2 149.9L1272.8 147.4L1293.8 145.3L1314.7 146.6L1331.5 147.8L1323.1 150.3L1302.2 151.2L1281.2 151.2L1260.2 149.9M1351.2 690.8L1356.7 688.7L1359.2 691.2L1355.8 693.3L1352 693.3L1351.2 690.8M803.7 443.1L807.5 440.2L803.7 440.6L803.7 443.1M736.2 373.3L740.4 374.5L739.6 377.5L736.2 373.3M735.4 380L737.5 384.2L736.2 385.8L735.4 380M753 660.3L755.1 660.7L755.1 666.5L751.7 666.5L753 660.3M1635.9 634.7L1640 634.3L1642.1 635.2L1635.9 636L1635.9 634.7M1695.4 496.3L1700.4 498.8L1705.4 504.6L1702.9 504.2L1695.4 496.3M1565.4 520.5L1572.6 520.5L1578.8 519.7L1578 521.8L1565.4 522.2L1565.4 520.5M998.2 367.8L998.6 369.1L997.4 368.7L998.2 367.8M1303.4 569.1L1305.5 569.9L1304.3 571.2L1303.4 569.1M1295 573.2L1297.1 573.7L1295.9 574.9L1295 573.2M1244.7 533.1L1245.6 535.2L1244.3 534.8L1244.7 533.1M1451.8 431.4L1453.1 435.2L1451.4 437.3L1451 433.1L1451.8 431.4" fill="none" stroke="#000" stroke-width="1.9" stroke-linejoin="round"/></g>
<g clip-path="url(#cnp)"><path d="M499.5 1572.7L490.2 1565.7L478.9 1567.9L471.4 1569.5L469.1 1562.7L481.1 1554.3L481.4 1547.7L475.6 1534.4L464.7 1529.2L460 1522.1L443.6 1525.1L437.4 1528.6L435 1516.7L440.9 1504.5L448.8 1495.9L456.3 1484.7L460.2 1478.8L448.6 1487.1L438 1496.7L429.5 1510.1L426.3 1521.5L423.7 1532.8L423.6 1543.1L423.4 1554.4L418.7 1562.2L418 1549.1L413 1547.7L406 1558.2L402.8 1565.6L389.9 1566.8L380.9 1573.7L371.5 1576.7L359.1 1576.8L348.8 1576.4L340.2 1574.7L330 1571.8L317.9 1571.2L309 1574.1L302.7 1574.4L294.4 1572.6L282 1569.9L272 1567.3L267.2 1565.8L252.1 1570L240.6 1569.7L239 1567L225.5 1562.5L210.5 1553.2L194.3 1537.9L178 1529.4L163.5 1523.4L146.9 1520.3L141.1 1521.5L129.5 1520.1L109.5 1520.1L103.1 1518.4L90.5 1531.8L72.4 1535.7L58.1 1534.7L43.5 1533.9L33 1537.5L13.3 1539.4L0.9 1536.1L-19 1547M-27.4 1558.5L-0.7 1554.5L15.8 1553.7L34.3 1551L53.7 1551.4L43.6 1560.4L25.7 1565.3L1.9 1569.8L-21.9 1577.5L-37.6 1583.2M-62.9 1698.8L-47.9 1701.8L-34.5 1706.6L-27.1 1722.6L-19.1 1736.2L-17.6 1748.1L-22.7 1762.7L-26.3 1775.5L-25.1 1785.4L-13.8 1782.4L-10.1 1796.8L-10.6 1811.4L-17.5 1824.6L-13 1835.9L-21.2 1844.8L-34.2 1851.4L-45.4 1855L-54.8 1863.6L-64 1873.6L-61.8 1879.8L-50.8 1881.1L-41.4 1880.5L-27.5 1873L-19.8 1870.7L-9.5 1863L1.3 1859.4L14.2 1863.1L28.2 1872.9L38.3 1884.8L48.7 1891.6L55.9 1898.9L63.2 1901.6L73.5 1894.6L81.3 1895.2L89.6 1898.1L99 1897.3L105.5 1901.3L113.9 1900.6L119 1907.1L125.5 1914L131.3 1921.7L135.9 1925.7L139.2 1919.7L144.4 1916.3L153.4 1917.8L159.2 1924.8L165.6 1930L171.9 1935L176.9 1939L181.6 1944.5L188.7 1948L180.9 1947.9L169.3 1943.9L165.3 1949.6L175.3 1954.5L181.1 1959.5L188.8 1965.8L194.8 1970.5L203.1 1971.4L205.9 1964.3L207.8 1959.5L195.9 1958.2L191.3 1949L200.5 1938.7L206.4 1933L214.7 1934.8L213.1 1924.4L211.2 1915L204.3 1910.9L193.7 1904.6L202.1 1905L211.8 1911.3L220.8 1915.6L227.9 1931.2L234.9 1944.8L243.4 1954L257 1959.7L268.9 1962.4L277.3 1958L279.1 1948.9L280.1 1941.8L280.5 1933.4L282.1 1925.1L284.8 1916.5L294.2 1910.9L298 1902.3L306.3 1892.4L311.1 1887.6L303.6 1886.6L291.6 1884.2L291.8 1877.5L290.6 1871.9L298.6 1869.9L306 1863.8L307.4 1854.1L310.9 1844.1L311.8 1837.3L311.4 1827.6L299.8 1829.2L288.7 1833.4L276.7 1838L265.6 1843.1L254.9 1845.6L247.6 1843L239.6 1836.5L228.9 1835.1L218.6 1841.2L210.7 1840.3L207.8 1834.8L215.8 1831.1L221.4 1823.8L233 1819.4L239.6 1812.1L241.6 1803.9L245.6 1795.7L251.7 1787.7L255.3 1781.5L258 1775L260.1 1765.6L270.3 1763.2L273.4 1757.2L282.5 1756.5L290.7 1756.8L297.6 1760.8L303.7 1765L308.8 1771.4L315 1774.7L320.3 1774.8L320.4 1783.3L326.8 1787.7L334.1 1791L340.1 1789.2L343 1792.2L348.5 1794.9L353.2 1798.1L360.8 1801.8L365.6 1804.6L371.3 1801.3L371.6 1797L371.9 1791L362.1 1787.6L358.3 1783L363.5 1780.6L372.3 1783.5L379.2 1778.9L374 1773.7L379.4 1770.4L387.1 1772.9L389.9 1768.1L386.6 1765.2L383.5 1761.3L375.1 1758.4L368.7 1760.7L364.6 1757.8L361.6 1753.6L359.4 1750.1L356.4 1746.6L355.8 1740.4L359.2 1737.1L361.2 1732.2L367.1 1727.1L367.7 1722.2L365.3 1718L361.5 1718.5L362.3 1713.5L365.6 1709.4L366.7 1704.5L369.4 1700.2L374.4 1697.8L377.6 1701.4L382.2 1697.7L385.6 1694.9L388.8 1690.9L393.6 1687.8L398 1684.1L398.5 1678.6L403.5 1679.1L408.7 1676.3L410.4 1672.7L408.6 1669.4L411.2 1666.2L411.2 1660.9L415.4 1658.9L415.6 1654.9L419 1651.4L418.4 1647.1L422.2 1644.7L428.3 1645.1L433.7 1643L438.5 1641.3L443.1 1640.1L447 1637.3L450.9 1635.8L454.9 1634.3L459.4 1632.6L463.6 1631.3L467.8 1633L472 1631.8L479.4 1631.3L481.1 1625.8L485.3 1623.3L488.3 1618.5L491.4 1613.8L492.9 1605.1L497.2 1600.3L499 1597.2L492 1593.6L487.6 1589.3L482.8 1589L479.5 1584.5L484.1 1584.9L489.4 1584.2L493.1 1578.7L497.2 1574.1L499.5 1572.7M448.1 1806.5L453.8 1810L461.9 1811.9L468.5 1812.2L478 1812.1L484.4 1811.4L489.6 1814.9L494.4 1818.3L501.1 1819.4L507.7 1819.6L513.5 1822.9L517.7 1827.3L519.2 1836.4L522.1 1841.9L528.2 1847.1L524.2 1853.1L518.2 1858.5L512.4 1863.8L509.9 1873.7L508 1882.1L505.3 1890.3L500.4 1897.7L497 1903.8L490.4 1907.7L487.2 1915.7L483.9 1923.7L478.7 1929.1L478.9 1933.9L473.5 1933.5L464.3 1938.8L453 1939.8L444.2 1935.6L431.8 1942.3L422 1944L413.6 1943.2L407.3 1941.6L399.5 1945.5L390.7 1949.6L379.9 1955.5L372.8 1961.3L365.6 1964.4L362.1 1963.5L361.8 1955.6L359.8 1948.3L359.5 1939.9L363 1930.2L367.7 1922L370.1 1915L375.5 1906L379.7 1898.4L385.6 1893.1L393.1 1888.4L401.2 1890.3L406.9 1887.7L407.5 1881.4L408.2 1873.6L415 1874L418.1 1866.6L421.6 1860.9L427.6 1855.9L431.3 1850.6L436.6 1844.5L439.3 1837.4L439.1 1831.6L436.8 1827L433.9 1822.7L434.8 1817.9L438.4 1812.5L442.5 1808.6L448.1 1806.5M323.3 1877.6L328.2 1870.9L324.1 1865.9L323.7 1857.3L326.5 1849.1L330.9 1842.3L331.3 1834.2L332.5 1824.2L339.8 1828.2L340.9 1835.5L349.9 1834.7L357.6 1836L362.1 1829.4L366.3 1821.6L370.9 1814.1L374.8 1807.2L372.2 1801.5L373.2 1795.3L374.4 1789.3L380.2 1783.2L387.9 1778.9L398.3 1777.5L404.3 1779.9L404.7 1787.2L404.5 1794.5L406.2 1800.4L399.2 1809.4L397.4 1816.5L393.4 1824.7L387.5 1831.7L386.6 1839.1L380.4 1844.8L372.8 1851.5L369.1 1860.4L365.1 1870.1L366 1873.6L356.4 1872.6L350 1869.5L342.5 1870.2L337.2 1875.7L323.3 1877.6M487 1807.3L487.3 1802.3L487.3 1797.8L485.5 1791.8L482.7 1786L477.9 1780.9L469.3 1776.2L462.6 1774L458.6 1770.1L454.9 1774.4L448.1 1780.8L440.5 1782L435.3 1781.3L428.7 1785.5L428.4 1791.6L428.4 1797.7L433.4 1800.8L440.1 1799.4L445.7 1800.9L449.6 1802.5L454.6 1804.5L460.7 1806.6L466 1808.6L471.8 1809.2L476.8 1809.8L487 1807.3M453.2 1777.5L451.6 1772.7L457 1768.5L462.3 1767.6L467.1 1770.9L468.5 1774.9L463.4 1777.5L453.2 1777.5M413.2 1800.4L413 1793.5L411.4 1784.4L412.9 1775.2L419.9 1772.1L424.4 1769.2L429 1765.5L431.1 1771.6L429.3 1779.5L428.8 1787.5L427.8 1793.7L424.2 1798.4L419.3 1800.4L413.2 1800.4M373.1 1747.5L370.9 1740.9L368 1733.9L370.5 1728L371.5 1721.8L371.6 1713.4L373 1705.3L380.2 1699.9L386.9 1696.2L394.5 1696.9L395.5 1702.4L402.9 1701.4L407.3 1702.3L410.8 1708.7L410.3 1715.6L409.6 1723.6L404.5 1729.8L405.1 1736.6L399.5 1740.4L391.6 1743.9L384.8 1746.7L379.3 1747.7L373.1 1747.5M415.9 1688.5L409.3 1689L407.8 1694.6L411.7 1701.7L415.8 1708.4L423 1709.6L428.7 1710.2L431.7 1703.8L428 1697L423.8 1692.5L415.9 1688.5M389.4 1755.9L391.1 1750.7L396.1 1747.6L403.4 1746.5L407.7 1751.2L408.6 1756.2L403.6 1760.4L396.6 1760.8L389.4 1755.9M390 1766.8L392.9 1763L400.8 1762.6L405.8 1764.3L407.1 1770.4L405.2 1775.1L400 1776.8L394 1772.3L390 1766.8M422.1 1742.8L421.7 1738.1L427.2 1735.4L428.8 1729L433.8 1724.2L438.9 1725.6L437.5 1732.7L436.1 1738.6L431.5 1741.3L428.7 1744.7L422.1 1742.8M420.9 1761.4L420 1755.8L426.5 1753.8L430.6 1759.7L426.8 1762.2L420.9 1761.4M319.9 1814.8L315.2 1807.5L315.3 1801.4L320 1793.1L322.4 1788.3L328.7 1790.6L336 1793.8L337.4 1799.1L332.5 1803.3L328 1809.6L324.2 1814.1L319.9 1814.8M457.4 1984.1L461.2 1979.8L457.5 1969.6L461.6 1964.6L467.2 1965.1L470.3 1972L478 1971.9L485.8 1970.6L491.1 1974L490.4 1981.1L492.7 1985.3L487.9 1990.5L481.4 1992.4L472.5 1994.4L465.3 1990.9L460.7 1986.3L457.4 1984.1M561.6 1873.2L561.3 1863.7L564.4 1860.3L567.8 1858.5L569.8 1855.2L573.5 1852.9L577.7 1852L581.9 1853.7L579.9 1860.3L577.6 1867.7L576.7 1875.4L575.8 1884.7L572.3 1883L568.5 1879.6L564 1876.2L561.6 1873.2M668 1875.1L660 1865.6L656.6 1858.5L651.5 1850.7L648.2 1843.2L645.5 1834.3L646.8 1828.1L645.3 1818.8L649.6 1819.5L654.8 1827.3L657.1 1838.2L658.2 1846.7L662.9 1855.4L670.2 1863.3L678.7 1870.8L676.9 1874.8L668 1875.1M639.3 1769.1L628.8 1767L621.6 1765L624.2 1760.2L629.8 1754.2L638.4 1757.2L641.3 1763.7L639.3 1769.1M629 1686.9L621.6 1683.8L616.6 1679.8L609.2 1671.6L606.7 1667.1L618.1 1666.1L627.9 1668.9L629.5 1678L629 1686.9M541.6 1619.8L537.5 1620.7L534.6 1617.4L541.6 1614.6L545.8 1617.2L541.6 1619.8M506.4 1575.8L513.6 1580.9L520.8 1582.6L528 1586.3L536.6 1592.9L543 1597.1L552.2 1602.6L560.9 1606.8L572.7 1609.3L588.1 1609.2L597.7 1618.5L606.7 1627.5L615.8 1634.7L621.4 1641.7L625.1 1651L633.2 1657.8L637.7 1664.6L652 1664.7L659.6 1668.8L665.8 1674.4L657.7 1687.9L657.3 1696L661.5 1700.6L667.6 1705.6L668.1 1713.8L668.9 1721.4L665.2 1728.1L658 1735.7L651.2 1742.3L644.9 1751.2L650.9 1754.6L657.9 1759.3L661.3 1765.1L668.7 1773.1L675.6 1782.1L682.2 1787.2L688.4 1795.3L683.8 1802.3L689.6 1808.7L689.5 1816.7L697.1 1821.7L706.3 1827.4L716.8 1829L720.4 1835.1L709.5 1831.6L701.3 1825.9L688.9 1824.9L681.5 1825.2L682.2 1830.9L688.7 1837.9L698 1844.9L707.9 1852.7L702 1855L695.4 1862L696 1873.1L695.4 1880.3L693.2 1886.6L687.2 1890.2L687.2 1898.5L685.5 1905.8L679 1908.9L671.9 1911L677.4 1919.1L684.1 1923.7L678.4 1927.8L677.5 1932.2L677.3 1940.4L676.4 1951.3L672.3 1955.5L665.1 1955.2L662.1 1947.6L661.9 1941.2L670 1937.2L674.6 1928.9L668.9 1919.8L661.1 1920.7L651.5 1921.5L644.9 1923.1L637.6 1925.9L629.2 1926.9L619.9 1922.1L612.8 1923.8L609 1929.3L603.6 1935.3L597.7 1941.1L593 1951.7L588.5 1960.1L589 1969.1L587.9 1980.2L584.3 1990L578.5 2001.8L573.8 2011.6L564.3 2020.7L565.2 2031.5L566.2 2043.2L569.7 2049.3L574.3 2052.5L581.5 2051.6L585.6 2046.4L591.6 2039.8L594.6 2042.9L598.4 2049.6L602.3 2056.3L608.4 2065.3L615.7 2069.3L623.9 2063.3L623.7 2049.9L625.1 2038L628.4 2028.3L626.6 2020.3L617.5 2016.6L613.5 2003.7L617.2 1993.1L622.5 1984.6L621.7 1977.3L627.4 1967.2L632 1965L634.8 1972.6L631.7 1986.6L629.5 1997.1L633.8 2008L641.6 2015.6L651.5 2010.2L662.7 2002.6L673.2 2003L666.5 2009.8L655 2017.6L649.4 2022.1L654.8 2028.7L659.6 2034.6L657.4 2040.6L649.4 2040.9L648.4 2049.2L650.8 2058.2L648.4 2064.1L646.2 2068.8L640.8 2069.7L629 2077.3L619.1 2082.8L610.5 2082L603 2086.4L599 2079.6L595.2 2073.6L596.1 2064.1L594.4 2055L587.2 2056.3L583.7 2063.3L586.7 2073.1L589.2 2079.3L590.1 2088.6L587.4 2093.7L582 2095.4L573.9 2098.2L569.9 2105.1L566.6 2114.9L560.9 2119L552.6 2121.2L551.6 2128L543 2132.8L534.9 2133.7L533.4 2142.3L523.9 2141L513.6 2143.2L515.6 2150.2L526.5 2154.7L530.9 2162.7L534.8 2168.7L534.5 2183.5L532.1 2194.4L521.2 2194L506.7 2192L492.5 2188.5L483.9 2187.3L476 2191.2L477 2203.6L475.2 2215.6L468.1 2230.1L467.5 2238.5L470.4 2246.3L468.3 2254.5L480.3 2254.1L489.8 2259.5L494.9 2268.6L504.9 2262L524.3 2263.1L529.7 2254.9L537.2 2254L540.6 2244.6L543 2240.4L541.4 2234.2L549.2 2220.8L567.1 2209L566.6 2199.9L572.1 2193.5L577.8 2192.1L586.9 2195.3L598.3 2186.8L605.3 2179.8L615.8 2182.1L620.6 2192.4L635.5 2201.7L645.5 2204.6L664.2 2211.4L669.1 2226.2L673.2 2231.5L676.1 2224.1L678.4 2214.8L671.4 2208.3L686 2204.8L680.3 2200.1L662.1 2192.9L646.1 2190.9L629.7 2175.2L628.7 2164.3L635.7 2160.7L642.9 2163.9L652.9 2173.6L669.6 2179.1L683.4 2185.2L690.3 2193.5L691.2 2200.8L703.7 2207.2L711.9 2215.2L722.3 2228.1L729.8 2228.5L731.1 2216.4L730.5 2208.7L722.9 2207.5L729.8 2201.1L720.4 2199.5L714.6 2189.7L723.3 2182.5L737.4 2176L744.1 2177.3L750.2 2167.2L756 2161.7L747.3 2161.8L740.7 2149.3L739 2135.4L740.3 2123.4L739.1 2110.4L744.4 2106.1L756.1 2105.6L756.4 2112.5L767.1 2116.1L774.2 2107.7L780.4 2098.4L792.4 2096.7L808.8 2097.6L832 2103L826.7 2115.6L807.4 2128.3L790.3 2130.7L777.8 2139.1L769.2 2154L758.3 2162.7L742.4 2182.7L749.1 2190.9L760.6 2199.1L765.9 2205.8L774.9 2204.6L788.1 2202.1L789.9 2194.9L801.7 2191.4L817.1 2183.9L825.8 2174L833 2176.7L839.1 2188.1L843.9 2199.3L845.8 2210L849.6 2223.5L847.5 2229L836.8 2238.6L821.7 2241.4L815.3 2249.1L809.2 2257.7L771.7 2268L750.2 2265.5L728.7 2274.1L729.6 2290.3L723.9 2303L693.1 2301L683.8 2292.1L661.5 2290.9L644.7 2291.1L631.8 2281.4L638.2 2267.1L629.7 2254.6L622.2 2250.6L614.5 2256.1L593.5 2257.7L568.4 2261.8L543 2272L525.4 2280.2L502.5 2270.3L489.5 2270.2L482 2288.8L465.6 2295.4L450.5 2313L449.8 2328.8L427.5 2345.4L411.1 2349L391.5 2363.3M885.7 2276.2L865.4 2264.6L844.8 2249.5L868 2262.9L871.7 2257.6L866.1 2240.7L876.7 2254.1L902.9 2263.9M1043.5 2111.3L1046.6 2123.6M1023 2159.3L1013.7 2155.9L1011.5 2167.9L1000.3 2161.2L980.8 2160.8L959.3 2152.4L962.4 2142.1L971.7 2134.7L988.1 2137.9L1003.3 2137.2L1025.9 2128.4L1035.2 2107L1054.2 2105.7L1067.8 2092.8L1083.1 2070.7L1094.3 2046.4L1104.4 2021.6M1071.7 1478.4L1056.9 1480.8L1035.8 1479L1017.1 1481.2L1011.6 1493.7L1001.5 1492.1L998.4 1506L986.7 1516.2L983.1 1531.6L968.1 1529.1L951.1 1517.5L950.6 1532.6L963.4 1544.4L960 1555.8L952.3 1563.5L945.2 1554.6L930.3 1549.4L921 1545.8L920.8 1539.6L937.7 1537.5L928.2 1532.1L916.9 1522.4L917.1 1515.5L927.1 1504.5L928.1 1491.5L945 1482.2L953.4 1473.8L943.9 1466.5L930.6 1460.2L917.2 1469L909.7 1484.8L905.3 1499.5L885.1 1495.5L876.6 1499.6L867.6 1498.3L854.4 1497.1L849.9 1486.3L832.5 1482.9L810.7 1485.4L790.1 1493.3L768.4 1504L755.1 1520.2L745.7 1523.5L746.1 1539.7L757.6 1547.4L759.7 1558.5L741.8 1564.3L718.6 1568.3L703 1565.2L691.7 1557.1L678.5 1552L669.1 1540.4L655.3 1536.6L640.4 1553.6L625.1 1549.5L630.7 1539.1L641.9 1532.7L654.8 1520.3L667.2 1498.6L677.9 1464.3L662.4 1474.3L650.6 1481.8L633.9 1497.7L623.8 1509.9L627.4 1517.8L614.5 1528.1L605.1 1528.4L588.1 1522L573 1533.4L555.4 1540.9L547.2 1538.8L543 1541.4L538.2 1546.8L540 1559.3L531.7 1562.2L525.8 1559L518 1558L514.4 1560.2L517.2 1567L512.1 1570.4L509 1574.5L506.4 1575.8M508.1 2127.3L518.7 2125.3L533.9 2124.1L551.3 2118.4L552.7 2104.2L544.7 2098.7L543 2095.9L537.6 2087.4L534.6 2078.1L530.1 2073.3L534.1 2059.6L525.9 2057.4L528.8 2049.3L519.3 2048.7L515.9 2058.5L512.5 2067.4L514.2 2076.8L517.3 2083.6L524.8 2083.2L525.4 2091.7L526.2 2098.3L517.2 2097.7L520.1 2105.4L512.6 2111.5L522.3 2116L516.1 2119.4L508.1 2127.3M508.3 2107.2L508.5 2095L513.3 2086.1L508.6 2079L499.2 2077.8L496.4 2085.8L488.7 2085.5L487.9 2093L488.7 2101.7L483 2107.4L493.2 2111L506 2107L508.3 2107.2M943.3 1445.1L959.8 1425.3L951.3 1418.8L931.3 1427.9L932.4 1439L943.3 1445.1M932.2 1440.4L910.7 1440.5L892.9 1425.1L883.5 1424.9L866.9 1426.5L852.9 1421L833.3 1431.6L825.4 1441L815.8 1435.8L824.2 1417.6L838.3 1412.9L848.2 1400.6L858.2 1393.7L868.4 1392.5L877.2 1395.8L889.7 1405.7L893.3 1404.5L905.8 1404.5L902.5 1418L917.2 1428.5L931.6 1439.7L932.2 1440.4M930.7 1422.3L910.5 1413.8L909.8 1420.8L921.4 1428.3L930.7 1422.3M823.4 1443.3L815.6 1440.9L800.7 1431.8L779.8 1433L783.4 1446.6L787.5 1465.7L795.2 1459.3L804.4 1450L810.1 1454.6L823.4 1443.3M783.3 1468.8L771.6 1468.5L758 1492.2L753.3 1482.7L745.6 1506.7L731.5 1525.5L732.4 1529.8L753.2 1506.5L772.9 1485.4L783.3 1468.8M834.6 2031L841.5 2015L849.2 2008.2L861 2017.1L859.5 2032L872.5 2039.6L887.3 2037L894.5 2044.3L906 2046.1L911.9 2055.5L930.1 2060.8L925.1 2076.1L912.1 2083.9L897.9 2086L884.3 2070L887.3 2063.3L878.6 2064.1L865.9 2063.2L853.4 2062L842.4 2051.8L832.7 2047.7L834.6 2031M219.7 1968.7L230.2 1969.2L229.3 1966L240.7 1967.9L251.2 1964.8L264.1 1967.1L260.4 1971.7L251.2 1973.6L251.7 1977.7L252.9 1984.4L254.3 1991.2L246.1 1996.4L244.2 2005.1L235.6 2008.3L232.8 2001.2L227.8 1994.1L231.6 1987.5L222.7 1973.8L219.7 1968.7M272.4 1563.8L262.3 1566L249.8 1568.4L239.9 1570.7L235.5 1575.5L245.2 1576.6L256.1 1574.4L267.6 1570L272.4 1563.8M421.6 1520.7L414.9 1522.9L411.8 1528.6L414.8 1531.2L419.9 1530.6L421.6 1520.7M471.2 1466.4L466.4 1470.4L464.5 1473.8L470.1 1471.4L471.2 1466.4M483.6 1457.1L476 1462.4L479.3 1464.6L483.6 1457.1M525.4 1442.6L516.8 1444.1L522.7 1445.6L525.4 1442.6M554.7 1442.4L546 1439.3L551.7 1444.2L554.7 1442.4M585.4 1455.3L578.2 1453.5L582.4 1456.8L585.4 1455.3M510.5 1554.5L503.4 1552.9L498.2 1551.2L505.1 1550.8L510.5 1554.5M484.4 1527.5L478.5 1528L480.7 1523.7L484.4 1527.5M644.9 2240.8L652.8 2234.7L669.2 2229.4L669.6 2246.7L659.6 2245L644.9 2240.8M610.5 2234.4L606.2 2216.3L613.2 2211.1L619 2217.4L619.9 2231.9L610.5 2234.4M608.2 2208.8L606.6 2197.8L611.8 2192.9L614.2 2202.7L612.9 2209.1L608.2 2208.8M742.7 2236.9L750.3 2232.3L765.4 2227.5L760 2232.5L747.2 2236.1L742.7 2236.9M814.1 2206.3L815.8 2197.6L824.9 2187.7L824.8 2196.8L814.1 2206.3M600.7 2074.5L601 2067.8L607.1 2066.6L609 2072.8L605.4 2076.4L600.7 2074.5M603.7 1834.1L602.7 1827.6L603.3 1819.8L609 1815.6L613.8 1812L617.1 1816.9L614.8 1824.1L610.4 1830.2L603.7 1834.1M-39.7 1901.4L-40.9 1912.3L-49.4 1912.1L-39.7 1901.4M387.8 2337.1L387.9 2340.7L385.2 2338.8L387.8 2337.1" fill="none" stroke="#000" stroke-width="1.9" stroke-linejoin="round"/></g>
<g clip-path="url(#csp)"><path d="M1009.3 1577.7L1042.4 1595.6L1063.4 1603.7L1083.8 1612.4L1101.2 1621.9L1109.6 1631L1122.1 1641L1139.9 1647.1L1154.5 1652.2L1166.8 1657.4L1170.7 1651.4L1183.9 1660L1194.6 1669.8L1205.4 1674.9L1213.7 1682L1229.1 1680.7L1242.1 1688.1L1256.3 1690L1269.4 1688.8L1281.1 1682.3L1287.3 1675.7L1297 1670.6L1303.8 1665.8L1307.1 1660.4L1304.1 1653.3L1304.1 1648.6L1297.9 1653.5L1289.3 1657L1279.8 1658.1L1275.6 1655.8L1269.3 1659L1261.1 1653.9L1256.4 1647.5L1248.2 1639.5L1241.9 1624.9L1226.1 1629.6L1217.8 1624L1217.1 1613.1L1209.8 1605.1L1199.6 1598.7L1201.3 1590.5L1194.4 1593L1183 1591L1189 1581L1187.7 1570L1174.8 1561.4L1179.2 1549L1185.5 1526.2L1179 1513.1L1172.8 1509.1L1161.9 1508.2L1148.6 1511.3L1152.4 1503.2L1164.2 1495L1169.1 1482.3L1167 1468.6L1162.6 1452.6L1160.3 1437.7L1153.4 1419.6L1148.6 1402.5L1142.2 1388.9L1129.1 1377.3L1126.3 1366.3M1737.6 1192.5L1738.1 1210.7L1746.3 1226.2L1747.6 1249.1L1750.7 1267.6L1745.2 1289.9L1752.7 1298.2L1756.2 1301.8L1775.1 1302.1L1800.6 1310.8L1814.2 1313.8L1830.9 1311.3L1851.2 1303.5L1873.9 1293.4L1891.7 1291.1L1911.7 1269.4L1915.8 1265.1M1856.9 2319.7L1839.2 2293.6L1831.7 2265.7L1828.3 2248.8L1831.6 2229.7L1827.1 2200.2L1822.5 2190.7L1834.4 2179.8L1839.3 2161.8L1856.1 2160.3L1859 2150.5L1874.4 2143.9L1890 2143.3L1901.4 2151.6L1913.5 2151L1925.4 2157.7L1921.4 2146.8L1926 2144L1933.3 2165.2L1934.7 2141.7L1937.2 2139.2L1961.5 2145.6L1991.1 2134.7L2003.3 2116.7L2014.6 2091.1L2011.7 2066.6L2023.9 2047.7L2029.8 2033.4L2027.6 2012.9L2038 1999.4L2047.7 1994.2L2061.7 2007.9L2094.8 2016.2L2125.1 2018.9L2138.4 2017.8L2131.7 2024.1M1839.8 2140.2L1815.4 2153.9L1808.5 2142.6L1808.4 2127.2L1815.1 2121.6L1827.9 2129.9L1839.8 2140.2M1647.9 2283.9L1632.5 2273.8L1620.9 2258.8L1616.2 2252.9L1603.6 2249.4L1595.4 2252.8L1599 2237.1L1606.9 2233.6L1607.4 2228.4L1618.7 2211.3L1624.3 2214.8L1622.4 2227.4L1631 2233.8L1627.1 2253L1631.5 2263.2L1644.2 2275.7L1647.9 2283.9M1639.7 2220.3L1629.1 2216.4L1626.8 2208.5L1634.3 2195.4L1634.8 2187.3L1645.1 2178.8L1646.4 2164.6L1654.6 2156.2L1667 2156.6L1675.5 2162.7L1666.4 2180L1652.5 2192.8L1647 2205.9L1643.9 2216.7L1639.7 2220.3M1284.7 1614.2L1291.5 1602.3L1297.6 1597.8L1300.3 1604.3L1294.4 1614.2L1284.7 1614.2M1389.3 1529.6L1399.1 1524.5L1403.3 1528.3L1394.3 1531.6L1389.3 1529.6M1583 1825.7L1578.6 1827.2L1573.2 1827.3L1570.3 1821.4L1567.4 1815.9L1563.7 1812.3L1556.5 1812.6L1559.2 1822.3L1553.9 1835.8L1554 1845.2L1538.6 1844.6L1534.3 1854L1542.5 1877.3L1541.8 1881.7L1529.5 1874L1516.4 1878.1L1501.7 1877.9L1482.4 1865.3L1467.2 1847.4L1458.4 1825.6L1460.6 1813.1L1456.2 1802.6L1441.7 1792.9L1439.1 1778L1445.1 1756.2L1445.5 1741.4L1446.9 1723.3L1431.9 1714.3L1411.2 1707.4L1394.4 1690.7L1390 1671.8L1391.9 1654.8L1394.7 1674.4L1405.5 1692.1L1423.4 1701.4L1446.9 1703L1464.8 1710.1L1473.2 1719.8L1472.5 1733.5L1473 1748.6L1477.9 1753.8L1490.7 1755L1494.4 1758.3L1503.5 1756.6L1515.5 1747.9L1532.6 1746.4L1532.1 1736.8L1536.2 1726.2L1539.3 1718.2L1542.5 1706L1538.3 1698.6L1529.8 1704L1525.5 1696.6L1532 1687.4L1538.3 1674.7L1546.3 1653.6L1546.2 1644.7L1552.9 1629.7L1562.2 1619.4L1582.4 1617.2L1595 1614.1L1607.4 1608.5L1615.2 1615.1L1627.8 1612.7L1645.6 1623.3L1665.6 1629.1L1685.6 1626L1694.5 1640.2L1709.8 1642L1729.7 1650L1749.5 1656.5L1751.6 1672.2L1749.2 1685.4L1756.1 1693.1L1758.7 1710L1744.6 1717.1L1734.9 1716.1L1726.2 1722.5L1729.7 1727L1748.7 1729.7L1765.1 1741.8L1776.3 1756.8L1786.1 1770.1L1779.1 1773.7L1776.9 1790.7L1776.8 1807.5L1787.2 1823.9L1772.8 1842.1L1771.3 1860.6L1757.2 1873.3L1749.8 1888.8L1740.2 1903.4L1733.1 1926L1719.3 1922.2L1695 1941.7L1687.3 1936.3L1664.4 1941.4L1646.6 1939.7L1629.7 1936.3L1608.6 1932.2L1611.9 1921.1L1617.1 1893.2L1613.4 1880.9L1605.4 1871.5L1611.6 1863.6L1610.2 1850.5L1601.4 1840L1594.2 1833.1L1588.4 1825.4L1583 1825.7M1555.4 1870.1L1551.4 1871.5L1550.2 1864.8L1554.2 1860.8L1556.6 1864.3L1555.4 1870.1M1433.3 1736.8L1427 1727.7L1415.5 1720.8L1414.6 1715.5L1430.3 1718.3L1443.9 1719.3L1439.4 1731.7L1433.3 1736.8M1516.6 1729.1L1508.8 1718.3L1506.8 1707.4L1517.2 1709.1L1526.5 1717.8L1522.1 1728.9L1516.6 1729.1M1433.1 1809.9L1433.1 1793.8L1437.5 1794.6L1438.2 1808.8L1433.1 1809.9M1919.4 1646.3L1926.9 1652.3L1922.7 1657.9L1916.5 1654.8L1914.5 1649.6L1919.4 1646.3M1166.6 1658.1L1168.6 1654.8L1182.2 1658.8L1180.5 1664.4L1166.6 1658.1M1924.2 2138.3L1918.6 2145L1913.9 2146.3L1922 2136L1924.2 2138.3" fill="none" stroke="#000" stroke-width="1.9" stroke-linejoin="round"/></g>
<path d="M434.4 108.9V861.9M560.1 108.9V861.9M685.9 108.9V861.9M811.7 108.9V861.9M937.4 108.9V861.9M1063.2 108.9V861.9M1189 108.9V861.9M1314.7 108.9V861.9M1440.5 108.9V861.9M1566.3 108.9V861.9M1692 108.9V861.9M308.6 736.4H1817.8M308.6 610.9H1817.8M308.6 485.4H1817.8M308.6 359.9H1817.8M308.6 234.4H1817.8" stroke="#000" stroke-width="1.9" fill="none"/>
<rect x="308.6" y="108.9" width="1509.2" height="753" fill="none" stroke="#000" stroke-width="2.9"/>
<g clip-path="url(#cnp)"><circle cx="543.0" cy="1777.5" r="126.8" fill="none" stroke="#000" stroke-width="1.9"/><circle cx="543.0" cy="1777.5" r="259.0" fill="none" stroke="#000" stroke-width="1.9"/><circle cx="543.0" cy="1777.5" r="401.1" fill="none" stroke="#000" stroke-width="1.9"/><path d="M543 1770L543 1309.3M543 1785L543 2245.7M549.5 1773.8L948.5 1543.4M536.5 1781.2L137.5 2011.6M549.5 1781.2L948.5 2011.6M536.5 1773.8L137.5 1543.4" stroke="#000" stroke-width="1.9" fill="none"/><rect x="541.0" y="1775.5" width="4" height="4" fill="#fff"/></g><circle cx="543.0" cy="1777.5" r="463.2" fill="none" stroke="#000" stroke-width="2.9"/>
<g clip-path="url(#csp)"><circle cx="1583.0" cy="1777.5" r="126.8" fill="none" stroke="#000" stroke-width="1.9"/><circle cx="1583.0" cy="1777.5" r="259.0" fill="none" stroke="#000" stroke-width="1.9"/><circle cx="1583.0" cy="1777.5" r="401.1" fill="none" stroke="#000" stroke-width="1.9"/><path d="M1583 1770L1583 1309.3M1583 1785L1583 2245.7M1589.5 1773.8L1988.5 1543.4M1576.5 1781.2L1177.5 2011.6M1589.5 1781.2L1988.5 2011.6M1576.5 1773.8L1177.5 1543.4" stroke="#000" stroke-width="1.9" fill="none"/><rect x="1581.0" y="1775.5" width="4" height="4" fill="#fff"/></g><circle cx="1583.0" cy="1777.5" r="463.2" fill="none" stroke="#000" stroke-width="2.9"/>
<defs><linearGradient id="cbg" x1="0" y1="0" x2="1" y2="0"><stop offset="0.0000" stop-color="#440154"/><stop offset="0.0156" stop-color="#46075a"/><stop offset="0.0312" stop-color="#470d60"/><stop offset="0.0469" stop-color="#471365"/><stop offset="0.0625" stop-color="#48186a"/><stop offset="0.0781" stop-color="#481d6f"/><stop offset="0.0938" stop-color="#482374"/><stop offset="0.1094" stop-color="#482878"/><stop offset="0.1250" stop-color="#472d7b"/><stop offset="0.1406" stop-color="#46327e"/><stop offset="0.1562" stop-color="#453781"/><stop offset="0.1719" stop-color="#443b84"/><stop offset="0.1875" stop-color="#424086"/><stop offset="0.2031" stop-color="#404588"/><stop offset="0.2188" stop-color="#3e4989"/><stop offset="0.2344" stop-color="#3d4e8a"/><stop offset="0.2500" stop-color="#3b528b"/><stop offset="0.2656" stop-color="#39568c"/><stop offset="0.2812" stop-color="#375b8d"/><stop offset="0.2969" stop-color="#355f8d"/><stop offset="0.3125" stop-color="#33638d"/><stop offset="0.3281" stop-color="#31678e"/><stop offset="0.3438" stop-color="#2f6b8e"/><stop offset="0.3594" stop-color="#2e6f8e"/><stop offset="0.3750" stop-color="#2c728e"/><stop offset="0.3906" stop-color="#2a768e"/><stop offset="0.4062" stop-color="#297a8e"/><stop offset="0.4219" stop-color="#277e8e"/><stop offset="0.4375" stop-color="#26828e"/><stop offset="0.4531" stop-color="#25858e"/><stop offset="0.4688" stop-color="#23898e"/><stop offset="0.4844" stop-color="#228d8d"/><stop offset="0.5000" stop-color="#21918c"/><stop offset="0.5156" stop-color="#1f948c"/><stop offset="0.5312" stop-color="#1f988b"/><stop offset="0.5469" stop-color="#1e9c89"/><stop offset="0.5625" stop-color="#1fa088"/><stop offset="0.5781" stop-color="#20a386"/><stop offset="0.5938" stop-color="#22a785"/><stop offset="0.6094" stop-color="#25ab82"/><stop offset="0.6250" stop-color="#28ae80"/><stop offset="0.6406" stop-color="#2db27d"/><stop offset="0.6562" stop-color="#32b67a"/><stop offset="0.6719" stop-color="#38b977"/><stop offset="0.6875" stop-color="#3fbc73"/><stop offset="0.7031" stop-color="#46c06f"/><stop offset="0.7188" stop-color="#4ec36b"/><stop offset="0.7344" stop-color="#56c667"/><stop offset="0.7500" stop-color="#5ec962"/><stop offset="0.7656" stop-color="#67cc5c"/><stop offset="0.7812" stop-color="#70cf57"/><stop offset="0.7969" stop-color="#7ad151"/><stop offset="0.8125" stop-color="#84d44b"/><stop offset="0.8281" stop-color="#8ed645"/><stop offset="0.8438" stop-color="#98d83e"/><stop offset="0.8594" stop-color="#a2da37"/><stop offset="0.8750" stop-color="#addc30"/><stop offset="0.8906" stop-color="#b8de29"/><stop offset="0.9062" stop-color="#c2df23"/><stop offset="0.9219" stop-color="#cde11d"/><stop offset="0.9375" stop-color="#d8e219"/><stop offset="0.9531" stop-color="#e2e418"/><stop offset="0.9688" stop-color="#ece51b"/><stop offset="0.9844" stop-color="#f6e620"/><stop offset="1.0000" stop-color="#fde725"/></linearGradient></defs><rect x="558.0" y="1023.9" width="1010.3" height="36.7" fill="url(#cbg)"/><path d="M558.0 1023.9L507.5 1042.2L558.0 1060.6Z" fill="#c0c0c0"/><path d="M1568.3 1023.9L1618.8 1042.2L1568.3 1060.6Z" fill="#404040"/><path d="M558.0 1023.9L507.5 1042.2L558.0 1060.6H1568.3L1618.8 1042.2L1568.3 1023.9Z" fill="none" stroke="#000" stroke-width="3.2" stroke-linejoin="miter"/><text x="659.8" y="1133.7" font-size="45.5" text-anchor="middle" textLength="61.5" lengthAdjust="spacingAndGlyphs">0.2</text><text x="861.8" y="1133.7" font-size="45.5" text-anchor="middle" textLength="61.5" lengthAdjust="spacingAndGlyphs">0.4</text><text x="1063.8" y="1133.7" font-size="45.5" text-anchor="middle" textLength="61.5" lengthAdjust="spacingAndGlyphs">0.6</text><text x="1265.8" y="1133.7" font-size="45.5" text-anchor="middle" textLength="61.5" lengthAdjust="spacingAndGlyphs">0.8</text><text x="1467.8" y="1133.7" font-size="45.5" text-anchor="middle" textLength="61.5" lengthAdjust="spacingAndGlyphs">1.0</text><path d="M659.0 1060.6V1086M861.0 1060.6V1086M1063.0 1060.6V1086M1265.0 1060.6V1086M1467.0 1060.6V1086" stroke="#000" stroke-width="3.3"/><text x="1063.5" y="1192" font-size="45" text-anchor="middle" textLength="434" lengthAdjust="spacingAndGlyphs">Cloud pressure [hPa]</text><path d="M1469.6 1164.2L1489.4 1184.3M1489.4 1164.2L1469.6 1184.3" stroke="#000" stroke-width="2.9"/><text x="1498" y="1187.8" font-size="45.5" textLength="51" lengthAdjust="spacingAndGlyphs">10</text><text x="1550.6" y="1172.3" font-size="31" textLength="17" lengthAdjust="spacingAndGlyphs">3</text><defs><linearGradient id="r0" gradientUnits="userSpaceOnUse" x1="308.6" y1="0" x2="1817.8" y2="0"><stop offset="0.0139" stop-color="#a7a7a7"/><stop offset="0.0417" stop-color="#939393"/><stop offset="0.0694" stop-color="#757575"/><stop offset="0.0972" stop-color="#757575"/><stop offset="0.1250" stop-color="#757575"/><stop offset="0.1528" stop-color="#757575"/><stop offset="0.1806" stop-color="#939393"/><stop offset="0.2083" stop-color="#757575"/><stop offset="0.2361" stop-color="#757575"/><stop offset="0.2639" stop-color="#a7a7a7"/><stop offset="0.2917" stop-color="#a7a7a7"/><stop offset="0.3194" stop-color="#939393"/><stop offset="0.3472" stop-color="#a7a7a7"/><stop offset="0.3750" stop-color="#939393"/><stop offset="0.4028" stop-color="#939393"/><stop offset="0.4306" stop-color="#a7a7a7"/><stop offset="0.4583" stop-color="#a7a7a7"/><stop offset="0.4861" stop-color="#939393"/><stop offset="0.5139" stop-color="#757575"/><stop offset="0.5417" stop-color="#757575"/><stop offset="0.5694" stop-color="#939393"/><stop offset="0.5972" stop-color="#939393"/><stop offset="0.6250" stop-color="#757575"/><stop offset="0.6528" stop-color="#757575"/><stop offset="0.6806" stop-color="#939393"/><stop offset="0.7083" stop-color="#757575"/><stop offset="0.7361" stop-color="#939393"/><stop offset="0.7639" stop-color="#757575"/><stop offset="0.7917" stop-color="#757575"/><stop offset="0.8194" stop-color="#939393"/><stop offset="0.8472" stop-color="#939393"/><stop offset="0.8750" stop-color="#757575"/><stop offset="0.9028" stop-color="#939393"/><stop offset="0.9306" stop-color="#939393"/><stop offset="0.9583" stop-color="#939393"/><stop offset="0.9861" stop-color="#a7a7a7"/></linearGradient><linearGradient id="r1" gradientUnits="userSpaceOnUse" x1="308.6" y1="0" x2="1817.8" y2="0"><stop offset="0.0139" stop-color="#a7a7a7"/><stop offset="0.0417" stop-color="#939393"/><stop offset="0.0694" stop-color="#757575"/><stop offset="0.0972" stop-color="#757575"/><stop offset="0.1250" stop-color="#757575"/><stop offset="0.1528" stop-color="#757575"/><stop offset="0.1806" stop-color="#939393"/><stop offset="0.2083" stop-color="#757575"/><stop offset="0.2361" stop-color="#757575"/><stop offset="0.2639" stop-color="#a7a7a7"/><stop offset="0.2917" stop-color="#a7a7a7"/><stop offset="0.3194" stop-color="#939393"/><stop offset="0.3472" stop-color="#a7a7a7"/><stop offset="0.3750" stop-color="#939393"/><stop offset="0.4028" stop-color="#939393"/><stop offset="0.4306" stop-color="#a7a7a7"/><stop offset="0.4583" stop-color="#a7a7a7"/><stop offset="0.4861" stop-color="#939393"/><stop offset="0.5139" stop-color="#757575"/><stop offset="0.5417" stop-color="#757575"/><stop offset="0.5694" stop-color="#939393"/><stop offset="0.5972" stop-color="#939393"/><stop offset="0.6250" stop-color="#757575"/><stop offset="0.6528" stop-color="#757575"/><stop offset="0.6806" stop-color="#939393"/><stop offset="0.7083" stop-color="#757575"/><stop offset="0.7361" stop-color="#939393"/><stop offset="0.7639" stop-color="#757575"/><stop offset="0.7917" stop-color="#757575"/><stop offset="0.8194" stop-color="#939393"/><stop offset="0.8472" stop-color="#939393"/><stop offset="0.8750" stop-color="#757575"/><stop offset="0.9028" stop-color="#939393"/><stop offset="0.9306" stop-color="#939393"/><stop offset="0.9583" stop-color="#939393"/><stop offset="0.9861" stop-color="#a7a7a7"/></linearGradient><linearGradient id="r2" gradientUnits="userSpaceOnUse" x1="308.6" y1="0" x2="1817.8" y2="0"><stop offset="0.0139" stop-color="#a7a7a7"/><stop offset="0.0417" stop-color="#939393"/><stop offset="0.0694" stop-color="#757575"/><stop offset="0.0972" stop-color="#757575"/><stop offset="0.1250" stop-color="#757575"/><stop offset="0.1528" stop-color="#757575"/><stop offset="0.1806" stop-color="#939393"/><stop offset="0.2083" stop-color="#757575"/><stop offset="0.2361" stop-color="#757575"/><stop offset="0.2639" stop-color="#a7a7a7"/><stop offset="0.2917" stop-color="#a7a7a7"/><stop offset="0.3194" stop-color="#939393"/><stop offset="0.3472" stop-color="#a7a7a7"/><stop offset="0.3750" stop-color="#939393"/><stop offset="0.4028" stop-color="#939393"/><stop offset="0.4306" stop-color="#a7a7a7"/><stop offset="0.4583" stop-color="#a7a7a7"/><stop offset="0.4861" stop-color="#939393"/><stop offset="0.5139" stop-color="#757575"/><stop offset="0.5417" stop-color="#757575"/><stop offset="0.5694" stop-color="#939393"/><stop offset="0.5972" stop-color="#939393"/><stop offset="0.6250" stop-color="#757575"/><stop offset="0.6528" stop-color="#757575"/><stop offset="0.6806" stop-color="#939393"/><stop offset="0.7083" stop-color="#757575"/><stop offset="0.7361" stop-color="#939393"/><stop offset="0.7639" stop-color="#757575"/><stop offset="0.7917" stop-color="#757575"/><stop offset="0.8194" stop-color="#939393"/><stop offset="0.8472" stop-color="#939393"/><stop offset="0.8750" stop-color="#757575"/><stop offset="0.9028" stop-color="#939393"/><stop offset="0.9306" stop-color="#939393"/><stop offset="0.9583" stop-color="#939393"/><stop offset="0.9861" stop-color="#a7a7a7"/></linearGradient><linearGradient id="r3" gradientUnits="userSpaceOnUse" x1="308.6" y1="0" x2="1817.8" y2="0"><stop offset="0.0139" stop-color="#a7a7a7"/><stop offset="0.0417" stop-color="#939393"/><stop offset="0.0694" stop-color="#757575"/><stop offset="0.0972" stop-color="#757575"/><stop offset="0.1250" stop-color="#757575"/><stop offset="0.1528" stop-color="#757575"/><stop offset="0.1806" stop-color="#939393"/><stop offset="0.2083" stop-color="#757575"/><stop offset="0.2361" stop-color="#757575"/><stop offset="0.2639" stop-color="#a7a7a7"/><stop offset="0.2917" stop-color="#a7a7a7"/><stop offset="0.3194" stop-color="#939393"/><stop offset="0.3472" stop-color="#a7a7a7"/><stop offset="0.3750" stop-color="#939393"/><stop offset="0.4028" stop-color="#939393"/><stop offset="0.4306" stop-color="#a7a7a7"/><stop offset="0.4583" stop-color="#a7a7a7"/><stop offset="0.4861" stop-color="#939393"/><stop offset="0.5139" stop-color="#757575"/><stop offset="0.5417" stop-color="#757575"/><stop offset="0.5694" stop-color="#939393"/><stop offset="0.5972" stop-color="#939393"/><stop offset="0.6250" stop-color="#757575"/><stop offset="0.6528" stop-color="#757575"/><stop offset="0.6806" stop-color="#939393"/><stop offset="0.7083" stop-color="#757575"/><stop offset="0.7361" stop-color="#939393"/><stop offset="0.7639" stop-color="#757575"/><stop offset="0.7917" stop-color="#757575"/><stop offset="0.8194" stop-color="#939393"/><stop offset="0.8472" stop-color="#939393"/><stop offset="0.8750" stop-color="#757575"/><stop offset="0.9028" stop-color="#939393"/><stop offset="0.9306" stop-color="#939393"/><stop offset="0.9583" stop-color="#939393"/><stop offset="0.9861" stop-color="#a7a7a7"/></linearGradient><linearGradient id="r4" gradientUnits="userSpaceOnUse" x1="308.6" y1="0" x2="1817.8" y2="0"><stop offset="0.0139" stop-color="#a7a7a7"/><stop offset="0.0417" stop-color="#939393"/><stop offset="0.0694" stop-color="#757575"/><stop offset="0.0972" stop-color="#757575"/><stop offset="0.1250" stop-color="#757575"/><stop offset="0.1528" stop-color="#757575"/><stop offset="0.1806" stop-color="#939393"/><stop offset="0.2083" stop-color="#757575"/><stop offset="0.2361" stop-color="#757575"/><stop offset="0.2639" stop-color="#a7a7a7"/><stop offset="0.2917" stop-color="#a7a7a7"/><stop offset="0.3194" stop-color="#939393"/><stop offset="0.3472" stop-color="#a7a7a7"/><stop offset="0.3750" stop-color="#939393"/><stop offset="0.4028" stop-color="#939393"/><stop offset="0.4306" stop-color="#a7a7a7"/><stop offset="0.4583" stop-color="#a7a7a7"/><stop offset="0.4861" stop-color="#939393"/><stop offset="0.5139" stop-color="#757575"/><stop offset="0.5417" stop-color="#757575"/><stop offset="0.5694" stop-color="#939393"/><stop offset="0.5972" stop-color="#939393"/><stop offset="0.6250" stop-color="#757575"/><stop offset="0.6528" stop-color="#757575"/><stop offset="0.6806" stop-color="#939393"/><stop offset="0.7083" stop-color="#757575"/><stop offset="0.7361" stop-color="#939393"/><stop offset="0.7639" stop-color="#757575"/><stop offset="0.7917" stop-color="#757575"/><stop offset="0.8194" stop-color="#939393"/><stop offset="0.8472" stop-color="#939393"/><stop offset="0.8750" stop-color="#757575"/><stop offset="0.9028" stop-color="#939393"/><stop offset="0.9306" stop-color="#939393"/><stop offset="0.9583" stop-color="#939393"/><stop offset="0.9861" stop-color="#a7a7a7"/></linearGradient><linearGradient id="r5" gradientUnits="userSpaceOnUse" x1="308.6" y1="0" x2="1817.8" y2="0"><stop offset="0.0139" stop-color="#ababab"/><stop offset="0.0417" stop-color="#9e9e9e"/><stop offset="0.0694" stop-color="#858585"/><stop offset="0.0972" stop-color="#8f8f8f"/><stop offset="0.1250" stop-color="#858585"/><stop offset="0.1528" stop-color="#757575"/><stop offset="0.1806" stop-color="#939393"/><stop offset="0.2083" stop-color="#757575"/><stop offset="0.2361" stop-color="#7e7e7e"/><stop offset="0.2639" stop-color="#a7a7a7"/><stop offset="0.2917" stop-color="#a2a2a2"/><stop offset="0.3194" stop-color="#8c8c8c"/><stop offset="0.3472" stop-color="#aeaeae"/><stop offset="0.3750" stop-color="#999999"/><stop offset="0.4028" stop-color="#9e9e9e"/><stop offset="0.4306" stop-color="#ababab"/><stop offset="0.4583" stop-color="#a2a2a2"/><stop offset="0.4861" stop-color="#8c8c8c"/><stop offset="0.5139" stop-color="#7e7e7e"/><stop offset="0.5417" stop-color="#858585"/><stop offset="0.5694" stop-color="#939393"/><stop offset="0.5972" stop-color="#8c8c8c"/><stop offset="0.6250" stop-color="#7e7e7e"/><stop offset="0.6528" stop-color="#7e7e7e"/><stop offset="0.6806" stop-color="#9e9e9e"/><stop offset="0.7083" stop-color="#7e7e7e"/><stop offset="0.7361" stop-color="#939393"/><stop offset="0.7639" stop-color="#757575"/><stop offset="0.7917" stop-color="#757575"/><stop offset="0.8194" stop-color="#8c8c8c"/><stop offset="0.8472" stop-color="#8c8c8c"/><stop offset="0.8750" stop-color="#7e7e7e"/><stop offset="0.9028" stop-color="#939393"/><stop offset="0.9306" stop-color="#939393"/><stop offset="0.9583" stop-color="#939393"/><stop offset="0.9861" stop-color="#a7a7a7"/></linearGradient><linearGradient id="r6" gradientUnits="userSpaceOnUse" x1="308.6" y1="0" x2="1817.8" y2="0"><stop offset="0.0139" stop-color="#b3b3b3"/><stop offset="0.0417" stop-color="#afafaf"/><stop offset="0.0694" stop-color="#9e9e9e"/><stop offset="0.0972" stop-color="#b3b3b3"/><stop offset="0.1250" stop-color="#9e9e9e"/><stop offset="0.1528" stop-color="#757575"/><stop offset="0.1806" stop-color="#939393"/><stop offset="0.2083" stop-color="#757575"/><stop offset="0.2361" stop-color="#8c8c8c"/><stop offset="0.2639" stop-color="#a7a7a7"/><stop offset="0.2917" stop-color="#999999"/><stop offset="0.3194" stop-color="#7e7e7e"/><stop offset="0.3472" stop-color="#c0c0c0"/><stop offset="0.3750" stop-color="#a2a2a2"/><stop offset="0.4028" stop-color="#afafaf"/><stop offset="0.4306" stop-color="#b3b3b3"/><stop offset="0.4583" stop-color="#999999"/><stop offset="0.4861" stop-color="#7e7e7e"/><stop offset="0.5139" stop-color="#8c8c8c"/><stop offset="0.5417" stop-color="#9e9e9e"/><stop offset="0.5694" stop-color="#939393"/><stop offset="0.5972" stop-color="#7e7e7e"/><stop offset="0.6250" stop-color="#8c8c8c"/><stop offset="0.6528" stop-color="#8c8c8c"/><stop offset="0.6806" stop-color="#afafaf"/><stop offset="0.7083" stop-color="#8c8c8c"/><stop offset="0.7361" stop-color="#939393"/><stop offset="0.7639" stop-color="#757575"/><stop offset="0.7917" stop-color="#757575"/><stop offset="0.8194" stop-color="#7e7e7e"/><stop offset="0.8472" stop-color="#7e7e7e"/><stop offset="0.8750" stop-color="#8c8c8c"/><stop offset="0.9028" stop-color="#939393"/><stop offset="0.9306" stop-color="#939393"/><stop offset="0.9583" stop-color="#939393"/><stop offset="0.9861" stop-color="#a7a7a7"/></linearGradient><linearGradient id="r7" gradientUnits="userSpaceOnUse" x1="308.6" y1="0" x2="1817.8" y2="0"><stop offset="0.0139" stop-color="#b3b3b3"/><stop offset="0.0417" stop-color="#bdbdbd"/><stop offset="0.0694" stop-color="#a7a7a7"/><stop offset="0.0972" stop-color="#b3b3b3"/><stop offset="0.1250" stop-color="#aeaeae"/><stop offset="0.1528" stop-color="#929292"/><stop offset="0.1806" stop-color="#939393"/><stop offset="0.2083" stop-color="#6d6d6d"/><stop offset="0.2361" stop-color="#999999"/><stop offset="0.2639" stop-color="#aeaeae"/><stop offset="0.2917" stop-color="#939393"/><stop offset="0.3194" stop-color="#7e7e7e"/><stop offset="0.3472" stop-color="#cccccc"/><stop offset="0.3750" stop-color="#9e9e9e"/><stop offset="0.4028" stop-color="#afafaf"/><stop offset="0.4306" stop-color="#afafaf"/><stop offset="0.4583" stop-color="#999999"/><stop offset="0.4861" stop-color="#8f8f8f"/><stop offset="0.5139" stop-color="#9e9e9e"/><stop offset="0.5417" stop-color="#a2a2a2"/><stop offset="0.5694" stop-color="#939393"/><stop offset="0.5972" stop-color="#858585"/><stop offset="0.6250" stop-color="#a1a1a1"/><stop offset="0.6528" stop-color="#a1a1a1"/><stop offset="0.6806" stop-color="#bdbdbd"/><stop offset="0.7083" stop-color="#999999"/><stop offset="0.7361" stop-color="#999999"/><stop offset="0.7639" stop-color="#7e7e7e"/><stop offset="0.7917" stop-color="#8b8b8b"/><stop offset="0.8194" stop-color="#8b8b8b"/><stop offset="0.8472" stop-color="#8b8b8b"/><stop offset="0.8750" stop-color="#9e9e9e"/><stop offset="0.9028" stop-color="#999999"/><stop offset="0.9306" stop-color="#939393"/><stop offset="0.9583" stop-color="#9e9e9e"/><stop offset="0.9861" stop-color="#a7a7a7"/></linearGradient><linearGradient id="r8" gradientUnits="userSpaceOnUse" x1="308.6" y1="0" x2="1817.8" y2="0"><stop offset="0.0139" stop-color="#ababab"/><stop offset="0.0417" stop-color="#c7c7c7"/><stop offset="0.0694" stop-color="#a7a7a7"/><stop offset="0.0972" stop-color="#8f8f8f"/><stop offset="0.1250" stop-color="#c0c0c0"/><stop offset="0.1528" stop-color="#b9b9b9"/><stop offset="0.1806" stop-color="#939393"/><stop offset="0.2083" stop-color="#5e5e5e"/><stop offset="0.2361" stop-color="#a2a2a2"/><stop offset="0.2639" stop-color="#c0c0c0"/><stop offset="0.2917" stop-color="#939393"/><stop offset="0.3194" stop-color="#8c8c8c"/><stop offset="0.3472" stop-color="#cccccc"/><stop offset="0.3750" stop-color="#858585"/><stop offset="0.4028" stop-color="#9e9e9e"/><stop offset="0.4306" stop-color="#9e9e9e"/><stop offset="0.4583" stop-color="#a2a2a2"/><stop offset="0.4861" stop-color="#b3b3b3"/><stop offset="0.5139" stop-color="#afafaf"/><stop offset="0.5417" stop-color="#999999"/><stop offset="0.5694" stop-color="#939393"/><stop offset="0.5972" stop-color="#9e9e9e"/><stop offset="0.6250" stop-color="#b9b9b9"/><stop offset="0.6528" stop-color="#b9b9b9"/><stop offset="0.6806" stop-color="#c7c7c7"/><stop offset="0.7083" stop-color="#a2a2a2"/><stop offset="0.7361" stop-color="#a2a2a2"/><stop offset="0.7639" stop-color="#8c8c8c"/><stop offset="0.7917" stop-color="#aaaaaa"/><stop offset="0.8194" stop-color="#aaaaaa"/><stop offset="0.8472" stop-color="#aaaaaa"/><stop offset="0.8750" stop-color="#afafaf"/><stop offset="0.9028" stop-color="#a2a2a2"/><stop offset="0.9306" stop-color="#939393"/><stop offset="0.9583" stop-color="#afafaf"/><stop offset="0.9861" stop-color="#a7a7a7"/></linearGradient><linearGradient id="r9" gradientUnits="userSpaceOnUse" x1="308.6" y1="0" x2="1817.8" y2="0"><stop offset="0.0139" stop-color="#a7a7a7"/><stop offset="0.0417" stop-color="#c0c0c0"/><stop offset="0.0694" stop-color="#ababab"/><stop offset="0.0972" stop-color="#8f8f8f"/><stop offset="0.1250" stop-color="#d2d2d2"/><stop offset="0.1528" stop-color="#e6e6e6"/><stop offset="0.1806" stop-color="#939393"/><stop offset="0.2083" stop-color="#5e5e5e"/><stop offset="0.2361" stop-color="#a2a2a2"/><stop offset="0.2639" stop-color="#c0c0c0"/><stop offset="0.2917" stop-color="#8c8c8c"/><stop offset="0.3194" stop-color="#939393"/><stop offset="0.3472" stop-color="#b9b9b9"/><stop offset="0.3750" stop-color="#757575"/><stop offset="0.4028" stop-color="#9e9e9e"/><stop offset="0.4306" stop-color="#a1a1a1"/><stop offset="0.4583" stop-color="#aeaeae"/><stop offset="0.4861" stop-color="#c7c7c7"/><stop offset="0.5139" stop-color="#b8b8b8"/><stop offset="0.5417" stop-color="#999999"/><stop offset="0.5694" stop-color="#999999"/><stop offset="0.5972" stop-color="#a2a2a2"/><stop offset="0.6250" stop-color="#d2d2d2"/><stop offset="0.6528" stop-color="#cccccc"/><stop offset="0.6806" stop-color="#d2d2d2"/><stop offset="0.7083" stop-color="#a7a7a7"/><stop offset="0.7361" stop-color="#a2a2a2"/><stop offset="0.7639" stop-color="#8c8c8c"/><stop offset="0.7917" stop-color="#afafaf"/><stop offset="0.8194" stop-color="#bdbdbd"/><stop offset="0.8472" stop-color="#bdbdbd"/><stop offset="0.8750" stop-color="#b8b8b8"/><stop offset="0.9028" stop-color="#a2a2a2"/><stop offset="0.9306" stop-color="#9e9e9e"/><stop offset="0.9583" stop-color="#afafaf"/><stop offset="0.9861" stop-color="#a7a7a7"/></linearGradient><linearGradient id="r10" gradientUnits="userSpaceOnUse" x1="308.6" y1="0" x2="1817.8" y2="0"><stop offset="0.0139" stop-color="#a7a7a7"/><stop offset="0.0417" stop-color="#aeaeae"/><stop offset="0.0694" stop-color="#b3b3b3"/><stop offset="0.0972" stop-color="#b3b3b3"/><stop offset="0.1250" stop-color="#dfdfdf"/><stop offset="0.1528" stop-color="#e6e6e6"/><stop offset="0.1806" stop-color="#939393"/><stop offset="0.2083" stop-color="#6d6d6d"/><stop offset="0.2361" stop-color="#999999"/><stop offset="0.2639" stop-color="#aeaeae"/><stop offset="0.2917" stop-color="#7e7e7e"/><stop offset="0.3194" stop-color="#939393"/><stop offset="0.3472" stop-color="#a1a1a1"/><stop offset="0.3750" stop-color="#757575"/><stop offset="0.4028" stop-color="#afafaf"/><stop offset="0.4306" stop-color="#b9b9b9"/><stop offset="0.4583" stop-color="#c0c0c0"/><stop offset="0.4861" stop-color="#bdbdbd"/><stop offset="0.5139" stop-color="#b8b8b8"/><stop offset="0.5417" stop-color="#a2a2a2"/><stop offset="0.5694" stop-color="#a2a2a2"/><stop offset="0.5972" stop-color="#999999"/><stop offset="0.6250" stop-color="#dfdfdf"/><stop offset="0.6528" stop-color="#cccccc"/><stop offset="0.6806" stop-color="#dfdfdf"/><stop offset="0.7083" stop-color="#a7a7a7"/><stop offset="0.7361" stop-color="#999999"/><stop offset="0.7639" stop-color="#7e7e7e"/><stop offset="0.7917" stop-color="#9e9e9e"/><stop offset="0.8194" stop-color="#c7c7c7"/><stop offset="0.8472" stop-color="#c7c7c7"/><stop offset="0.8750" stop-color="#b8b8b8"/><stop offset="0.9028" stop-color="#999999"/><stop offset="0.9306" stop-color="#afafaf"/><stop offset="0.9583" stop-color="#9e9e9e"/><stop offset="0.9861" stop-color="#a7a7a7"/></linearGradient><linearGradient id="r11" gradientUnits="userSpaceOnUse" x1="308.6" y1="0" x2="1817.8" y2="0"><stop offset="0.0139" stop-color="#b0b0b0"/><stop offset="0.0417" stop-color="#aeaeae"/><stop offset="0.0694" stop-color="#b8b8b8"/><stop offset="0.0972" stop-color="#c0c0c0"/><stop offset="0.1250" stop-color="#dfdfdf"/><stop offset="0.1528" stop-color="#e6e6e6"/><stop offset="0.1806" stop-color="#a1a1a1"/><stop offset="0.2083" stop-color="#858585"/><stop offset="0.2361" stop-color="#a2a2a2"/><stop offset="0.2639" stop-color="#aeaeae"/><stop offset="0.2917" stop-color="#8f8f8f"/><stop offset="0.3194" stop-color="#a1a1a1"/><stop offset="0.3472" stop-color="#999999"/><stop offset="0.3750" stop-color="#8f8f8f"/><stop offset="0.4028" stop-color="#c0c0c0"/><stop offset="0.4306" stop-color="#c7c7c7"/><stop offset="0.4583" stop-color="#cccccc"/><stop offset="0.4861" stop-color="#c0c0c0"/><stop offset="0.5139" stop-color="#c0c0c0"/><stop offset="0.5417" stop-color="#b0b0b0"/><stop offset="0.5694" stop-color="#b0b0b0"/><stop offset="0.5972" stop-color="#a2a2a2"/><stop offset="0.6250" stop-color="#e6e6e6"/><stop offset="0.6528" stop-color="#cccccc"/><stop offset="0.6806" stop-color="#e6e6e6"/><stop offset="0.7083" stop-color="#b0b0b0"/><stop offset="0.7361" stop-color="#9e9e9e"/><stop offset="0.7639" stop-color="#8b8b8b"/><stop offset="0.7917" stop-color="#999999"/><stop offset="0.8194" stop-color="#cccccc"/><stop offset="0.8472" stop-color="#b9b9b9"/><stop offset="0.8750" stop-color="#afafaf"/><stop offset="0.9028" stop-color="#a1a1a1"/><stop offset="0.9306" stop-color="#bdbdbd"/><stop offset="0.9583" stop-color="#a2a2a2"/><stop offset="0.9861" stop-color="#b0b0b0"/></linearGradient><linearGradient id="r12" gradientUnits="userSpaceOnUse" x1="308.6" y1="0" x2="1817.8" y2="0"><stop offset="0.0139" stop-color="#c9c9c9"/><stop offset="0.0417" stop-color="#c0c0c0"/><stop offset="0.0694" stop-color="#b8b8b8"/><stop offset="0.0972" stop-color="#aeaeae"/><stop offset="0.1250" stop-color="#d2d2d2"/><stop offset="0.1528" stop-color="#e6e6e6"/><stop offset="0.1806" stop-color="#b9b9b9"/><stop offset="0.2083" stop-color="#9e9e9e"/><stop offset="0.2361" stop-color="#c1c1c1"/><stop offset="0.2639" stop-color="#c0c0c0"/><stop offset="0.2917" stop-color="#b3b3b3"/><stop offset="0.3194" stop-color="#b9b9b9"/><stop offset="0.3472" stop-color="#a2a2a2"/><stop offset="0.3750" stop-color="#b3b3b3"/><stop offset="0.4028" stop-color="#d4d4d4"/><stop offset="0.4306" stop-color="#bdbdbd"/><stop offset="0.4583" stop-color="#cccccc"/><stop offset="0.4861" stop-color="#d4d4d4"/><stop offset="0.5139" stop-color="#d4d4d4"/><stop offset="0.5417" stop-color="#c9c9c9"/><stop offset="0.5694" stop-color="#c9c9c9"/><stop offset="0.5972" stop-color="#c1c1c1"/><stop offset="0.6250" stop-color="#e6e6e6"/><stop offset="0.6528" stop-color="#cccccc"/><stop offset="0.6806" stop-color="#e6e6e6"/><stop offset="0.7083" stop-color="#c9c9c9"/><stop offset="0.7361" stop-color="#afafaf"/><stop offset="0.7639" stop-color="#aaaaaa"/><stop offset="0.7917" stop-color="#a2a2a2"/><stop offset="0.8194" stop-color="#cccccc"/><stop offset="0.8472" stop-color="#a1a1a1"/><stop offset="0.8750" stop-color="#9e9e9e"/><stop offset="0.9028" stop-color="#b9b9b9"/><stop offset="0.9306" stop-color="#c7c7c7"/><stop offset="0.9583" stop-color="#c1c1c1"/><stop offset="0.9861" stop-color="#c9c9c9"/></linearGradient><linearGradient id="r13" gradientUnits="userSpaceOnUse" x1="308.6" y1="0" x2="1817.8" y2="0"><stop offset="0.0139" stop-color="#c1c1c1"/><stop offset="0.0417" stop-color="#b3b3b3"/><stop offset="0.0694" stop-color="#b3b3b3"/><stop offset="0.0972" stop-color="#a7a7a7"/><stop offset="0.1250" stop-color="#d2d2d2"/><stop offset="0.1528" stop-color="#dfdfdf"/><stop offset="0.1806" stop-color="#cccccc"/><stop offset="0.2083" stop-color="#b0b0b0"/><stop offset="0.2361" stop-color="#dfdfdf"/><stop offset="0.2639" stop-color="#c7c7c7"/><stop offset="0.2917" stop-color="#cccccc"/><stop offset="0.3194" stop-color="#c7c7c7"/><stop offset="0.3472" stop-color="#a7a7a7"/><stop offset="0.3750" stop-color="#cccccc"/><stop offset="0.4028" stop-color="#e6e6e6"/><stop offset="0.4306" stop-color="#bdbdbd"/><stop offset="0.4583" stop-color="#b0b0b0"/><stop offset="0.4861" stop-color="#c1c1c1"/><stop offset="0.5139" stop-color="#dfdfdf"/><stop offset="0.5417" stop-color="#e6e6e6"/><stop offset="0.5694" stop-color="#e6e6e6"/><stop offset="0.5972" stop-color="#dfdfdf"/><stop offset="0.6250" stop-color="#dfdfdf"/><stop offset="0.6528" stop-color="#cccccc"/><stop offset="0.6806" stop-color="#c9c9c9"/><stop offset="0.7083" stop-color="#e6e6e6"/><stop offset="0.7361" stop-color="#bdbdbd"/><stop offset="0.7639" stop-color="#b8b8b8"/><stop offset="0.7917" stop-color="#ababab"/><stop offset="0.8194" stop-color="#b9b9b9"/><stop offset="0.8472" stop-color="#a1a1a1"/><stop offset="0.8750" stop-color="#a1a1a1"/><stop offset="0.9028" stop-color="#cccccc"/><stop offset="0.9306" stop-color="#c7c7c7"/><stop offset="0.9583" stop-color="#dfdfdf"/><stop offset="0.9861" stop-color="#e6e6e6"/></linearGradient><linearGradient id="r14" gradientUnits="userSpaceOnUse" x1="308.6" y1="0" x2="1817.8" y2="0"><stop offset="0.0139" stop-color="#a2a2a2"/><stop offset="0.0417" stop-color="#8f8f8f"/><stop offset="0.0694" stop-color="#ababab"/><stop offset="0.0972" stop-color="#a7a7a7"/><stop offset="0.1250" stop-color="#dfdfdf"/><stop offset="0.1528" stop-color="#d2d2d2"/><stop offset="0.1806" stop-color="#cccccc"/><stop offset="0.2083" stop-color="#c9c9c9"/><stop offset="0.2361" stop-color="#d2d2d2"/><stop offset="0.2639" stop-color="#bdbdbd"/><stop offset="0.2917" stop-color="#cccccc"/><stop offset="0.3194" stop-color="#bdbdbd"/><stop offset="0.3472" stop-color="#a7a7a7"/><stop offset="0.3750" stop-color="#cccccc"/><stop offset="0.4028" stop-color="#e6e6e6"/><stop offset="0.4306" stop-color="#c7c7c7"/><stop offset="0.4583" stop-color="#7f7f7f"/><stop offset="0.4861" stop-color="#a2a2a2"/><stop offset="0.5139" stop-color="#d2d2d2"/><stop offset="0.5417" stop-color="#e6e6e6"/><stop offset="0.5694" stop-color="#e6e6e6"/><stop offset="0.5972" stop-color="#d2d2d2"/><stop offset="0.6250" stop-color="#d2d2d2"/><stop offset="0.6528" stop-color="#cccccc"/><stop offset="0.6806" stop-color="#b0b0b0"/><stop offset="0.7083" stop-color="#e6e6e6"/><stop offset="0.7361" stop-color="#c7c7c7"/><stop offset="0.7639" stop-color="#b8b8b8"/><stop offset="0.7917" stop-color="#b3b3b3"/><stop offset="0.8194" stop-color="#a1a1a1"/><stop offset="0.8472" stop-color="#b9b9b9"/><stop offset="0.8750" stop-color="#b9b9b9"/><stop offset="0.9028" stop-color="#cccccc"/><stop offset="0.9306" stop-color="#bdbdbd"/><stop offset="0.9583" stop-color="#d2d2d2"/><stop offset="0.9861" stop-color="#e6e6e6"/></linearGradient><linearGradient id="r15" gradientUnits="userSpaceOnUse" x1="308.6" y1="0" x2="1817.8" y2="0"><stop offset="0.0139" stop-color="#9e9e9e"/><stop offset="0.0417" stop-color="#8b8b8b"/><stop offset="0.0694" stop-color="#a7a7a7"/><stop offset="0.0972" stop-color="#a2a2a2"/><stop offset="0.1250" stop-color="#d4d4d4"/><stop offset="0.1528" stop-color="#c7c7c7"/><stop offset="0.1806" stop-color="#cccccc"/><stop offset="0.2083" stop-color="#dfdfdf"/><stop offset="0.2361" stop-color="#cccccc"/><stop offset="0.2639" stop-color="#b3b3b3"/><stop offset="0.2917" stop-color="#b9b9b9"/><stop offset="0.3194" stop-color="#afafaf"/><stop offset="0.3472" stop-color="#a7a7a7"/><stop offset="0.3750" stop-color="#b9b9b9"/><stop offset="0.4028" stop-color="#dfdfdf"/><stop offset="0.4306" stop-color="#cccccc"/><stop offset="0.4583" stop-color="#707070"/><stop offset="0.4861" stop-color="#939393"/><stop offset="0.5139" stop-color="#cccccc"/><stop offset="0.5417" stop-color="#b9b9b9"/><stop offset="0.5694" stop-color="#c1c1c1"/><stop offset="0.5972" stop-color="#c0c0c0"/><stop offset="0.6250" stop-color="#c7c7c7"/><stop offset="0.6528" stop-color="#c7c7c7"/><stop offset="0.6806" stop-color="#aeaeae"/><stop offset="0.7083" stop-color="#dfdfdf"/><stop offset="0.7361" stop-color="#c0c0c0"/><stop offset="0.7639" stop-color="#aaaaaa"/><stop offset="0.7917" stop-color="#aaaaaa"/><stop offset="0.8194" stop-color="#939393"/><stop offset="0.8472" stop-color="#b3b3b3"/><stop offset="0.8750" stop-color="#b9b9b9"/><stop offset="0.9028" stop-color="#b9b9b9"/><stop offset="0.9306" stop-color="#afafaf"/><stop offset="0.9583" stop-color="#c7c7c7"/><stop offset="0.9861" stop-color="#d4d4d4"/></linearGradient><linearGradient id="r16" gradientUnits="userSpaceOnUse" x1="308.6" y1="0" x2="1817.8" y2="0"><stop offset="0.0139" stop-color="#afafaf"/><stop offset="0.0417" stop-color="#aaaaaa"/><stop offset="0.0694" stop-color="#a7a7a7"/><stop offset="0.0972" stop-color="#999999"/><stop offset="0.1250" stop-color="#c0c0c0"/><stop offset="0.1528" stop-color="#bdbdbd"/><stop offset="0.1806" stop-color="#cccccc"/><stop offset="0.2083" stop-color="#d2d2d2"/><stop offset="0.2361" stop-color="#cccccc"/><stop offset="0.2639" stop-color="#ababab"/><stop offset="0.2917" stop-color="#a1a1a1"/><stop offset="0.3194" stop-color="#9e9e9e"/><stop offset="0.3472" stop-color="#a7a7a7"/><stop offset="0.3750" stop-color="#a1a1a1"/><stop offset="0.4028" stop-color="#d2d2d2"/><stop offset="0.4306" stop-color="#cccccc"/><stop offset="0.4583" stop-color="#9a9a9a"/><stop offset="0.4861" stop-color="#939393"/><stop offset="0.5139" stop-color="#cccccc"/><stop offset="0.5417" stop-color="#929292"/><stop offset="0.5694" stop-color="#a2a2a2"/><stop offset="0.5972" stop-color="#aeaeae"/><stop offset="0.6250" stop-color="#bdbdbd"/><stop offset="0.6528" stop-color="#bdbdbd"/><stop offset="0.6806" stop-color="#c0c0c0"/><stop offset="0.7083" stop-color="#d2d2d2"/><stop offset="0.7361" stop-color="#aeaeae"/><stop offset="0.7639" stop-color="#8b8b8b"/><stop offset="0.7917" stop-color="#8b8b8b"/><stop offset="0.8194" stop-color="#939393"/><stop offset="0.8472" stop-color="#8f8f8f"/><stop offset="0.8750" stop-color="#a1a1a1"/><stop offset="0.9028" stop-color="#a1a1a1"/><stop offset="0.9306" stop-color="#9e9e9e"/><stop offset="0.9583" stop-color="#bdbdbd"/><stop offset="0.9861" stop-color="#c0c0c0"/></linearGradient><linearGradient id="r17" gradientUnits="userSpaceOnUse" x1="308.6" y1="0" x2="1817.8" y2="0"><stop offset="0.0139" stop-color="#b8b8b8"/><stop offset="0.0417" stop-color="#bdbdbd"/><stop offset="0.0694" stop-color="#b0b0b0"/><stop offset="0.0972" stop-color="#a2a2a2"/><stop offset="0.1250" stop-color="#bdbdbd"/><stop offset="0.1528" stop-color="#c0c0c0"/><stop offset="0.1806" stop-color="#d2d2d2"/><stop offset="0.2083" stop-color="#d2d2d2"/><stop offset="0.2361" stop-color="#d2d2d2"/><stop offset="0.2639" stop-color="#b0b0b0"/><stop offset="0.2917" stop-color="#999999"/><stop offset="0.3194" stop-color="#8c8c8c"/><stop offset="0.3472" stop-color="#9e9e9e"/><stop offset="0.3750" stop-color="#939393"/><stop offset="0.4028" stop-color="#cccccc"/><stop offset="0.4306" stop-color="#d2d2d2"/><stop offset="0.4583" stop-color="#aeaeae"/><stop offset="0.4861" stop-color="#a1a1a1"/><stop offset="0.5139" stop-color="#cccccc"/><stop offset="0.5417" stop-color="#757575"/><stop offset="0.5694" stop-color="#8c8c8c"/><stop offset="0.5972" stop-color="#a2a2a2"/><stop offset="0.6250" stop-color="#bdbdbd"/><stop offset="0.6528" stop-color="#c0c0c0"/><stop offset="0.6806" stop-color="#b9b9b9"/><stop offset="0.7083" stop-color="#c0c0c0"/><stop offset="0.7361" stop-color="#ababab"/><stop offset="0.7639" stop-color="#858585"/><stop offset="0.7917" stop-color="#757575"/><stop offset="0.8194" stop-color="#8c8c8c"/><stop offset="0.8472" stop-color="#6d6d6d"/><stop offset="0.8750" stop-color="#8c8c8c"/><stop offset="0.9028" stop-color="#939393"/><stop offset="0.9306" stop-color="#9e9e9e"/><stop offset="0.9583" stop-color="#afafaf"/><stop offset="0.9861" stop-color="#b3b3b3"/></linearGradient><linearGradient id="r18" gradientUnits="userSpaceOnUse" x1="308.6" y1="0" x2="1817.8" y2="0"><stop offset="0.0139" stop-color="#b8b8b8"/><stop offset="0.0417" stop-color="#c7c7c7"/><stop offset="0.0694" stop-color="#c9c9c9"/><stop offset="0.0972" stop-color="#c1c1c1"/><stop offset="0.1250" stop-color="#c7c7c7"/><stop offset="0.1528" stop-color="#d4d4d4"/><stop offset="0.1806" stop-color="#dfdfdf"/><stop offset="0.2083" stop-color="#dfdfdf"/><stop offset="0.2361" stop-color="#dfdfdf"/><stop offset="0.2639" stop-color="#c9c9c9"/><stop offset="0.2917" stop-color="#a2a2a2"/><stop offset="0.3194" stop-color="#7e7e7e"/><stop offset="0.3472" stop-color="#858585"/><stop offset="0.3750" stop-color="#939393"/><stop offset="0.4028" stop-color="#cccccc"/><stop offset="0.4306" stop-color="#dfdfdf"/><stop offset="0.4583" stop-color="#c0c0c0"/><stop offset="0.4861" stop-color="#b9b9b9"/><stop offset="0.5139" stop-color="#cccccc"/><stop offset="0.5417" stop-color="#757575"/><stop offset="0.5694" stop-color="#7e7e7e"/><stop offset="0.5972" stop-color="#999999"/><stop offset="0.6250" stop-color="#c7c7c7"/><stop offset="0.6528" stop-color="#d4d4d4"/><stop offset="0.6806" stop-color="#a1a1a1"/><stop offset="0.7083" stop-color="#aeaeae"/><stop offset="0.7361" stop-color="#b3b3b3"/><stop offset="0.7639" stop-color="#9e9e9e"/><stop offset="0.7917" stop-color="#757575"/><stop offset="0.8194" stop-color="#7e7e7e"/><stop offset="0.8472" stop-color="#5e5e5e"/><stop offset="0.8750" stop-color="#7e7e7e"/><stop offset="0.9028" stop-color="#939393"/><stop offset="0.9306" stop-color="#afafaf"/><stop offset="0.9583" stop-color="#9e9e9e"/><stop offset="0.9861" stop-color="#ababab"/></linearGradient><linearGradient id="r19" gradientUnits="userSpaceOnUse" x1="308.6" y1="0" x2="1817.8" y2="0"><stop offset="0.0139" stop-color="#afafaf"/><stop offset="0.0417" stop-color="#b3b3b3"/><stop offset="0.0694" stop-color="#c9c9c9"/><stop offset="0.0972" stop-color="#c1c1c1"/><stop offset="0.1250" stop-color="#c7c7c7"/><stop offset="0.1528" stop-color="#c9c9c9"/><stop offset="0.1806" stop-color="#dfdfdf"/><stop offset="0.2083" stop-color="#dfdfdf"/><stop offset="0.2361" stop-color="#dfdfdf"/><stop offset="0.2639" stop-color="#e6e6e6"/><stop offset="0.2917" stop-color="#aeaeae"/><stop offset="0.3194" stop-color="#7e7e7e"/><stop offset="0.3472" stop-color="#757575"/><stop offset="0.3750" stop-color="#999999"/><stop offset="0.4028" stop-color="#b9b9b9"/><stop offset="0.4306" stop-color="#dfdfdf"/><stop offset="0.4583" stop-color="#d2d2d2"/><stop offset="0.4861" stop-color="#cccccc"/><stop offset="0.5139" stop-color="#cccccc"/><stop offset="0.5417" stop-color="#7e7e7e"/><stop offset="0.5694" stop-color="#757575"/><stop offset="0.5972" stop-color="#939393"/><stop offset="0.6250" stop-color="#b9b9b9"/><stop offset="0.6528" stop-color="#dfdfdf"/><stop offset="0.6806" stop-color="#9e9e9e"/><stop offset="0.7083" stop-color="#aeaeae"/><stop offset="0.7361" stop-color="#bdbdbd"/><stop offset="0.7639" stop-color="#ababab"/><stop offset="0.7917" stop-color="#858585"/><stop offset="0.8194" stop-color="#8b8b8b"/><stop offset="0.8472" stop-color="#5e5e5e"/><stop offset="0.8750" stop-color="#7e7e7e"/><stop offset="0.9028" stop-color="#939393"/><stop offset="0.9306" stop-color="#b8b8b8"/><stop offset="0.9583" stop-color="#939393"/><stop offset="0.9861" stop-color="#a7a7a7"/></linearGradient><linearGradient id="r20" gradientUnits="userSpaceOnUse" x1="308.6" y1="0" x2="1817.8" y2="0"><stop offset="0.0139" stop-color="#9e9e9e"/><stop offset="0.0417" stop-color="#8f8f8f"/><stop offset="0.0694" stop-color="#b0b0b0"/><stop offset="0.0972" stop-color="#a2a2a2"/><stop offset="0.1250" stop-color="#bdbdbd"/><stop offset="0.1528" stop-color="#b0b0b0"/><stop offset="0.1806" stop-color="#d2d2d2"/><stop offset="0.2083" stop-color="#d2d2d2"/><stop offset="0.2361" stop-color="#d2d2d2"/><stop offset="0.2639" stop-color="#e6e6e6"/><stop offset="0.2917" stop-color="#c0c0c0"/><stop offset="0.3194" stop-color="#8c8c8c"/><stop offset="0.3472" stop-color="#757575"/><stop offset="0.3750" stop-color="#a2a2a2"/><stop offset="0.4028" stop-color="#a1a1a1"/><stop offset="0.4306" stop-color="#d2d2d2"/><stop offset="0.4583" stop-color="#dfdfdf"/><stop offset="0.4861" stop-color="#cccccc"/><stop offset="0.5139" stop-color="#cccccc"/><stop offset="0.5417" stop-color="#8c8c8c"/><stop offset="0.5694" stop-color="#757575"/><stop offset="0.5972" stop-color="#939393"/><stop offset="0.6250" stop-color="#a1a1a1"/><stop offset="0.6528" stop-color="#d2d2d2"/><stop offset="0.6806" stop-color="#afafaf"/><stop offset="0.7083" stop-color="#c0c0c0"/><stop offset="0.7361" stop-color="#c7c7c7"/><stop offset="0.7639" stop-color="#b3b3b3"/><stop offset="0.7917" stop-color="#9e9e9e"/><stop offset="0.8194" stop-color="#aaaaaa"/><stop offset="0.8472" stop-color="#6d6d6d"/><stop offset="0.8750" stop-color="#8c8c8c"/><stop offset="0.9028" stop-color="#939393"/><stop offset="0.9306" stop-color="#b8b8b8"/><stop offset="0.9583" stop-color="#939393"/><stop offset="0.9861" stop-color="#a7a7a7"/></linearGradient><linearGradient id="r21" gradientUnits="userSpaceOnUse" x1="308.6" y1="0" x2="1817.8" y2="0"><stop offset="0.0139" stop-color="#939393"/><stop offset="0.0417" stop-color="#8f8f8f"/><stop offset="0.0694" stop-color="#aeaeae"/><stop offset="0.0972" stop-color="#939393"/><stop offset="0.1250" stop-color="#afafaf"/><stop offset="0.1528" stop-color="#9e9e9e"/><stop offset="0.1806" stop-color="#b9b9b9"/><stop offset="0.2083" stop-color="#b3b3b3"/><stop offset="0.2361" stop-color="#cccccc"/><stop offset="0.2639" stop-color="#dfdfdf"/><stop offset="0.2917" stop-color="#cccccc"/><stop offset="0.3194" stop-color="#939393"/><stop offset="0.3472" stop-color="#7e7e7e"/><stop offset="0.3750" stop-color="#aeaeae"/><stop offset="0.4028" stop-color="#a2a2a2"/><stop offset="0.4306" stop-color="#d2d2d2"/><stop offset="0.4583" stop-color="#dfdfdf"/><stop offset="0.4861" stop-color="#cccccc"/><stop offset="0.5139" stop-color="#cccccc"/><stop offset="0.5417" stop-color="#a1a1a1"/><stop offset="0.5694" stop-color="#7e7e7e"/><stop offset="0.5972" stop-color="#999999"/><stop offset="0.6250" stop-color="#9e9e9e"/><stop offset="0.6528" stop-color="#b9b9b9"/><stop offset="0.6806" stop-color="#bdbdbd"/><stop offset="0.7083" stop-color="#c7c7c7"/><stop offset="0.7361" stop-color="#cccccc"/><stop offset="0.7639" stop-color="#bdbdbd"/><stop offset="0.7917" stop-color="#aeaeae"/><stop offset="0.8194" stop-color="#b8b8b8"/><stop offset="0.8472" stop-color="#858585"/><stop offset="0.8750" stop-color="#9e9e9e"/><stop offset="0.9028" stop-color="#a1a1a1"/><stop offset="0.9306" stop-color="#bdbdbd"/><stop offset="0.9583" stop-color="#a1a1a1"/><stop offset="0.9861" stop-color="#a7a7a7"/></linearGradient><linearGradient id="r22" gradientUnits="userSpaceOnUse" x1="308.6" y1="0" x2="1817.8" y2="0"><stop offset="0.0139" stop-color="#939393"/><stop offset="0.0417" stop-color="#b3b3b3"/><stop offset="0.0694" stop-color="#c0c0c0"/><stop offset="0.0972" stop-color="#939393"/><stop offset="0.1250" stop-color="#9e9e9e"/><stop offset="0.1528" stop-color="#858585"/><stop offset="0.1806" stop-color="#a1a1a1"/><stop offset="0.2083" stop-color="#8f8f8f"/><stop offset="0.2361" stop-color="#cccccc"/><stop offset="0.2639" stop-color="#d2d2d2"/><stop offset="0.2917" stop-color="#cccccc"/><stop offset="0.3194" stop-color="#939393"/><stop offset="0.3472" stop-color="#8c8c8c"/><stop offset="0.3750" stop-color="#c0c0c0"/><stop offset="0.4028" stop-color="#c1c1c1"/><stop offset="0.4306" stop-color="#dfdfdf"/><stop offset="0.4583" stop-color="#d2d2d2"/><stop offset="0.4861" stop-color="#cccccc"/><stop offset="0.5139" stop-color="#cccccc"/><stop offset="0.5417" stop-color="#b9b9b9"/><stop offset="0.5694" stop-color="#8c8c8c"/><stop offset="0.5972" stop-color="#a2a2a2"/><stop offset="0.6250" stop-color="#afafaf"/><stop offset="0.6528" stop-color="#a1a1a1"/><stop offset="0.6806" stop-color="#c7c7c7"/><stop offset="0.7083" stop-color="#bdbdbd"/><stop offset="0.7361" stop-color="#cccccc"/><stop offset="0.7639" stop-color="#c7c7c7"/><stop offset="0.7917" stop-color="#c0c0c0"/><stop offset="0.8194" stop-color="#b8b8b8"/><stop offset="0.8472" stop-color="#9e9e9e"/><stop offset="0.8750" stop-color="#afafaf"/><stop offset="0.9028" stop-color="#b9b9b9"/><stop offset="0.9306" stop-color="#c7c7c7"/><stop offset="0.9583" stop-color="#b9b9b9"/><stop offset="0.9861" stop-color="#a7a7a7"/></linearGradient><linearGradient id="r23" gradientUnits="userSpaceOnUse" x1="308.6" y1="0" x2="1817.8" y2="0"><stop offset="0.0139" stop-color="#939393"/><stop offset="0.0417" stop-color="#c0c0c0"/><stop offset="0.0694" stop-color="#cccccc"/><stop offset="0.0972" stop-color="#a1a1a1"/><stop offset="0.1250" stop-color="#9e9e9e"/><stop offset="0.1528" stop-color="#7e7e7e"/><stop offset="0.1806" stop-color="#9e9e9e"/><stop offset="0.2083" stop-color="#7e7e7e"/><stop offset="0.2361" stop-color="#c0c0c0"/><stop offset="0.2639" stop-color="#cccccc"/><stop offset="0.2917" stop-color="#cccccc"/><stop offset="0.3194" stop-color="#939393"/><stop offset="0.3472" stop-color="#999999"/><stop offset="0.3750" stop-color="#b9b9b9"/><stop offset="0.4028" stop-color="#d4d4d4"/><stop offset="0.4306" stop-color="#dfdfdf"/><stop offset="0.4583" stop-color="#c0c0c0"/><stop offset="0.4861" stop-color="#c7c7c7"/><stop offset="0.5139" stop-color="#cccccc"/><stop offset="0.5417" stop-color="#d2d2d2"/><stop offset="0.5694" stop-color="#a1a1a1"/><stop offset="0.5972" stop-color="#ababab"/><stop offset="0.6250" stop-color="#b3b3b3"/><stop offset="0.6528" stop-color="#9e9e9e"/><stop offset="0.6806" stop-color="#c0c0c0"/><stop offset="0.7083" stop-color="#afafaf"/><stop offset="0.7361" stop-color="#c7c7c7"/><stop offset="0.7639" stop-color="#cccccc"/><stop offset="0.7917" stop-color="#c0c0c0"/><stop offset="0.8194" stop-color="#b8b8b8"/><stop offset="0.8472" stop-color="#ababab"/><stop offset="0.8750" stop-color="#afafaf"/><stop offset="0.9028" stop-color="#c0c0c0"/><stop offset="0.9306" stop-color="#cccccc"/><stop offset="0.9583" stop-color="#c0c0c0"/><stop offset="0.9861" stop-color="#ababab"/></linearGradient><linearGradient id="r24" gradientUnits="userSpaceOnUse" x1="308.6" y1="0" x2="1817.8" y2="0"><stop offset="0.0139" stop-color="#939393"/><stop offset="0.0417" stop-color="#aeaeae"/><stop offset="0.0694" stop-color="#cccccc"/><stop offset="0.0972" stop-color="#b9b9b9"/><stop offset="0.1250" stop-color="#afafaf"/><stop offset="0.1528" stop-color="#8c8c8c"/><stop offset="0.1806" stop-color="#afafaf"/><stop offset="0.2083" stop-color="#8c8c8c"/><stop offset="0.2361" stop-color="#aeaeae"/><stop offset="0.2639" stop-color="#cccccc"/><stop offset="0.2917" stop-color="#cccccc"/><stop offset="0.3194" stop-color="#939393"/><stop offset="0.3472" stop-color="#a2a2a2"/><stop offset="0.3750" stop-color="#a1a1a1"/><stop offset="0.4028" stop-color="#c0c0c0"/><stop offset="0.4306" stop-color="#d2d2d2"/><stop offset="0.4583" stop-color="#aeaeae"/><stop offset="0.4861" stop-color="#bdbdbd"/><stop offset="0.5139" stop-color="#cccccc"/><stop offset="0.5417" stop-color="#dfdfdf"/><stop offset="0.5694" stop-color="#b9b9b9"/><stop offset="0.5972" stop-color="#b3b3b3"/><stop offset="0.6250" stop-color="#ababab"/><stop offset="0.6528" stop-color="#afafaf"/><stop offset="0.6806" stop-color="#aeaeae"/><stop offset="0.7083" stop-color="#9e9e9e"/><stop offset="0.7361" stop-color="#bdbdbd"/><stop offset="0.7639" stop-color="#cccccc"/><stop offset="0.7917" stop-color="#aeaeae"/><stop offset="0.8194" stop-color="#b8b8b8"/><stop offset="0.8472" stop-color="#b3b3b3"/><stop offset="0.8750" stop-color="#9e9e9e"/><stop offset="0.9028" stop-color="#aeaeae"/><stop offset="0.9306" stop-color="#cccccc"/><stop offset="0.9583" stop-color="#aeaeae"/><stop offset="0.9861" stop-color="#b3b3b3"/></linearGradient><linearGradient id="r25" gradientUnits="userSpaceOnUse" x1="308.6" y1="0" x2="1817.8" y2="0"><stop offset="0.0139" stop-color="#a2a2a2"/><stop offset="0.0417" stop-color="#b0b0b0"/><stop offset="0.0694" stop-color="#cccccc"/><stop offset="0.0972" stop-color="#c0c0c0"/><stop offset="0.1250" stop-color="#b8b8b8"/><stop offset="0.1528" stop-color="#9e9e9e"/><stop offset="0.1806" stop-color="#bdbdbd"/><stop offset="0.2083" stop-color="#939393"/><stop offset="0.2361" stop-color="#a7a7a7"/><stop offset="0.2639" stop-color="#cccccc"/><stop offset="0.2917" stop-color="#c7c7c7"/><stop offset="0.3194" stop-color="#939393"/><stop offset="0.3472" stop-color="#ababab"/><stop offset="0.3750" stop-color="#999999"/><stop offset="0.4028" stop-color="#bdbdbd"/><stop offset="0.4306" stop-color="#cccccc"/><stop offset="0.4583" stop-color="#a7a7a7"/><stop offset="0.4861" stop-color="#bdbdbd"/><stop offset="0.5139" stop-color="#d2d2d2"/><stop offset="0.5417" stop-color="#e6e6e6"/><stop offset="0.5694" stop-color="#d2d2d2"/><stop offset="0.5972" stop-color="#b8b8b8"/><stop offset="0.6250" stop-color="#a7a7a7"/><stop offset="0.6528" stop-color="#b3b3b3"/><stop offset="0.6806" stop-color="#a7a7a7"/><stop offset="0.7083" stop-color="#9e9e9e"/><stop offset="0.7361" stop-color="#bdbdbd"/><stop offset="0.7639" stop-color="#c0c0c0"/><stop offset="0.7917" stop-color="#a7a7a7"/><stop offset="0.8194" stop-color="#bdbdbd"/><stop offset="0.8472" stop-color="#bdbdbd"/><stop offset="0.8750" stop-color="#a1a1a1"/><stop offset="0.9028" stop-color="#aeaeae"/><stop offset="0.9306" stop-color="#c7c7c7"/><stop offset="0.9583" stop-color="#a7a7a7"/><stop offset="0.9861" stop-color="#b3b3b3"/></linearGradient><linearGradient id="r26" gradientUnits="userSpaceOnUse" x1="308.6" y1="0" x2="1817.8" y2="0"><stop offset="0.0139" stop-color="#c1c1c1"/><stop offset="0.0417" stop-color="#c9c9c9"/><stop offset="0.0694" stop-color="#cccccc"/><stop offset="0.0972" stop-color="#aeaeae"/><stop offset="0.1250" stop-color="#b8b8b8"/><stop offset="0.1528" stop-color="#afafaf"/><stop offset="0.1806" stop-color="#c7c7c7"/><stop offset="0.2083" stop-color="#939393"/><stop offset="0.2361" stop-color="#a7a7a7"/><stop offset="0.2639" stop-color="#cccccc"/><stop offset="0.2917" stop-color="#bdbdbd"/><stop offset="0.3194" stop-color="#939393"/><stop offset="0.3472" stop-color="#b3b3b3"/><stop offset="0.3750" stop-color="#a2a2a2"/><stop offset="0.4028" stop-color="#c7c7c7"/><stop offset="0.4306" stop-color="#cccccc"/><stop offset="0.4583" stop-color="#a7a7a7"/><stop offset="0.4861" stop-color="#c7c7c7"/><stop offset="0.5139" stop-color="#dfdfdf"/><stop offset="0.5417" stop-color="#e6e6e6"/><stop offset="0.5694" stop-color="#dfdfdf"/><stop offset="0.5972" stop-color="#b8b8b8"/><stop offset="0.6250" stop-color="#a7a7a7"/><stop offset="0.6528" stop-color="#ababab"/><stop offset="0.6806" stop-color="#a7a7a7"/><stop offset="0.7083" stop-color="#afafaf"/><stop offset="0.7361" stop-color="#c7c7c7"/><stop offset="0.7639" stop-color="#aeaeae"/><stop offset="0.7917" stop-color="#a7a7a7"/><stop offset="0.8194" stop-color="#c7c7c7"/><stop offset="0.8472" stop-color="#c7c7c7"/><stop offset="0.8750" stop-color="#b9b9b9"/><stop offset="0.9028" stop-color="#c0c0c0"/><stop offset="0.9306" stop-color="#bdbdbd"/><stop offset="0.9583" stop-color="#a7a7a7"/><stop offset="0.9861" stop-color="#ababab"/></linearGradient><linearGradient id="r27" gradientUnits="userSpaceOnUse" x1="308.6" y1="0" x2="1817.8" y2="0"><stop offset="0.0139" stop-color="#d4d4d4"/><stop offset="0.0417" stop-color="#d4d4d4"/><stop offset="0.0694" stop-color="#c7c7c7"/><stop offset="0.0972" stop-color="#aeaeae"/><stop offset="0.1250" stop-color="#bdbdbd"/><stop offset="0.1528" stop-color="#b8b8b8"/><stop offset="0.1806" stop-color="#c0c0c0"/><stop offset="0.2083" stop-color="#999999"/><stop offset="0.2361" stop-color="#a7a7a7"/><stop offset="0.2639" stop-color="#c7c7c7"/><stop offset="0.2917" stop-color="#b3b3b3"/><stop offset="0.3194" stop-color="#9e9e9e"/><stop offset="0.3472" stop-color="#bdbdbd"/><stop offset="0.3750" stop-color="#ababab"/><stop offset="0.4028" stop-color="#cccccc"/><stop offset="0.4306" stop-color="#c0c0c0"/><stop offset="0.4583" stop-color="#a7a7a7"/><stop offset="0.4861" stop-color="#c7c7c7"/><stop offset="0.5139" stop-color="#c1c1c1"/><stop offset="0.5417" stop-color="#e6e6e6"/><stop offset="0.5694" stop-color="#e6e6e6"/><stop offset="0.5972" stop-color="#b8b8b8"/><stop offset="0.6250" stop-color="#a7a7a7"/><stop offset="0.6528" stop-color="#a7a7a7"/><stop offset="0.6806" stop-color="#a7a7a7"/><stop offset="0.7083" stop-color="#bdbdbd"/><stop offset="0.7361" stop-color="#c7c7c7"/><stop offset="0.7639" stop-color="#a7a7a7"/><stop offset="0.7917" stop-color="#aeaeae"/><stop offset="0.8194" stop-color="#c7c7c7"/><stop offset="0.8472" stop-color="#cccccc"/><stop offset="0.8750" stop-color="#cccccc"/><stop offset="0.9028" stop-color="#c7c7c7"/><stop offset="0.9306" stop-color="#b8b8b8"/><stop offset="0.9583" stop-color="#ababab"/><stop offset="0.9861" stop-color="#a7a7a7"/></linearGradient><linearGradient id="r28" gradientUnits="userSpaceOnUse" x1="308.6" y1="0" x2="1817.8" y2="0"><stop offset="0.0139" stop-color="#c0c0c0"/><stop offset="0.0417" stop-color="#c0c0c0"/><stop offset="0.0694" stop-color="#bdbdbd"/><stop offset="0.0972" stop-color="#c0c0c0"/><stop offset="0.1250" stop-color="#c7c7c7"/><stop offset="0.1528" stop-color="#b8b8b8"/><stop offset="0.1806" stop-color="#aeaeae"/><stop offset="0.2083" stop-color="#a2a2a2"/><stop offset="0.2361" stop-color="#a7a7a7"/><stop offset="0.2639" stop-color="#bdbdbd"/><stop offset="0.2917" stop-color="#ababab"/><stop offset="0.3194" stop-color="#afafaf"/><stop offset="0.3472" stop-color="#c7c7c7"/><stop offset="0.3750" stop-color="#b3b3b3"/><stop offset="0.4028" stop-color="#cccccc"/><stop offset="0.4306" stop-color="#aeaeae"/><stop offset="0.4583" stop-color="#a7a7a7"/><stop offset="0.4861" stop-color="#bdbdbd"/><stop offset="0.5139" stop-color="#a2a2a2"/><stop offset="0.5417" stop-color="#e6e6e6"/><stop offset="0.5694" stop-color="#e6e6e6"/><stop offset="0.5972" stop-color="#b8b8b8"/><stop offset="0.6250" stop-color="#a7a7a7"/><stop offset="0.6528" stop-color="#a7a7a7"/><stop offset="0.6806" stop-color="#a7a7a7"/><stop offset="0.7083" stop-color="#c7c7c7"/><stop offset="0.7361" stop-color="#bdbdbd"/><stop offset="0.7639" stop-color="#a7a7a7"/><stop offset="0.7917" stop-color="#c0c0c0"/><stop offset="0.8194" stop-color="#bdbdbd"/><stop offset="0.8472" stop-color="#cccccc"/><stop offset="0.8750" stop-color="#cccccc"/><stop offset="0.9028" stop-color="#bdbdbd"/><stop offset="0.9306" stop-color="#b8b8b8"/><stop offset="0.9583" stop-color="#b3b3b3"/><stop offset="0.9861" stop-color="#a7a7a7"/></linearGradient><linearGradient id="r29" gradientUnits="userSpaceOnUse" x1="308.6" y1="0" x2="1817.8" y2="0"><stop offset="0.0139" stop-color="#b3b3b3"/><stop offset="0.0417" stop-color="#b3b3b3"/><stop offset="0.0694" stop-color="#b3b3b3"/><stop offset="0.0972" stop-color="#c7c7c7"/><stop offset="0.1250" stop-color="#cccccc"/><stop offset="0.1528" stop-color="#b8b8b8"/><stop offset="0.1806" stop-color="#a7a7a7"/><stop offset="0.2083" stop-color="#a7a7a7"/><stop offset="0.2361" stop-color="#ababab"/><stop offset="0.2639" stop-color="#b3b3b3"/><stop offset="0.2917" stop-color="#a7a7a7"/><stop offset="0.3194" stop-color="#b8b8b8"/><stop offset="0.3472" stop-color="#d2d2d2"/><stop offset="0.3750" stop-color="#c0c0c0"/><stop offset="0.4028" stop-color="#cccccc"/><stop offset="0.4306" stop-color="#aeaeae"/><stop offset="0.4583" stop-color="#ababab"/><stop offset="0.4861" stop-color="#b3b3b3"/><stop offset="0.5139" stop-color="#999999"/><stop offset="0.5417" stop-color="#d4d4d4"/><stop offset="0.5694" stop-color="#dfdfdf"/><stop offset="0.5972" stop-color="#bdbdbd"/><stop offset="0.6250" stop-color="#a7a7a7"/><stop offset="0.6528" stop-color="#ababab"/><stop offset="0.6806" stop-color="#ababab"/><stop offset="0.7083" stop-color="#cccccc"/><stop offset="0.7361" stop-color="#bdbdbd"/><stop offset="0.7639" stop-color="#aeaeae"/><stop offset="0.7917" stop-color="#cccccc"/><stop offset="0.8194" stop-color="#bdbdbd"/><stop offset="0.8472" stop-color="#cccccc"/><stop offset="0.8750" stop-color="#cccccc"/><stop offset="0.9028" stop-color="#b8b8b8"/><stop offset="0.9306" stop-color="#b8b8b8"/><stop offset="0.9583" stop-color="#b8b8b8"/><stop offset="0.9861" stop-color="#ababab"/></linearGradient><linearGradient id="r30" gradientUnits="userSpaceOnUse" x1="308.6" y1="0" x2="1817.8" y2="0"><stop offset="0.0139" stop-color="#ababab"/><stop offset="0.0417" stop-color="#ababab"/><stop offset="0.0694" stop-color="#ababab"/><stop offset="0.0972" stop-color="#bdbdbd"/><stop offset="0.1250" stop-color="#cccccc"/><stop offset="0.1528" stop-color="#b8b8b8"/><stop offset="0.1806" stop-color="#a7a7a7"/><stop offset="0.2083" stop-color="#a7a7a7"/><stop offset="0.2361" stop-color="#b3b3b3"/><stop offset="0.2639" stop-color="#ababab"/><stop offset="0.2917" stop-color="#a7a7a7"/><stop offset="0.3194" stop-color="#b8b8b8"/><stop offset="0.3472" stop-color="#dfdfdf"/><stop offset="0.3750" stop-color="#d4d4d4"/><stop offset="0.4028" stop-color="#cccccc"/><stop offset="0.4306" stop-color="#c0c0c0"/><stop offset="0.4583" stop-color="#b3b3b3"/><stop offset="0.4861" stop-color="#ababab"/><stop offset="0.5139" stop-color="#a2a2a2"/><stop offset="0.5417" stop-color="#c0c0c0"/><stop offset="0.5694" stop-color="#d2d2d2"/><stop offset="0.5972" stop-color="#c7c7c7"/><stop offset="0.6250" stop-color="#a7a7a7"/><stop offset="0.6528" stop-color="#b3b3b3"/><stop offset="0.6806" stop-color="#b3b3b3"/><stop offset="0.7083" stop-color="#cccccc"/><stop offset="0.7361" stop-color="#c7c7c7"/><stop offset="0.7639" stop-color="#c0c0c0"/><stop offset="0.7917" stop-color="#cccccc"/><stop offset="0.8194" stop-color="#c7c7c7"/><stop offset="0.8472" stop-color="#cccccc"/><stop offset="0.8750" stop-color="#cccccc"/><stop offset="0.9028" stop-color="#b8b8b8"/><stop offset="0.9306" stop-color="#b8b8b8"/><stop offset="0.9583" stop-color="#b8b8b8"/><stop offset="0.9861" stop-color="#b3b3b3"/></linearGradient><linearGradient id="r31" gradientUnits="userSpaceOnUse" x1="308.6" y1="0" x2="1817.8" y2="0"><stop offset="0.0139" stop-color="#ababab"/><stop offset="0.0417" stop-color="#ababab"/><stop offset="0.0694" stop-color="#ababab"/><stop offset="0.0972" stop-color="#bdbdbd"/><stop offset="0.1250" stop-color="#cccccc"/><stop offset="0.1528" stop-color="#b8b8b8"/><stop offset="0.1806" stop-color="#a7a7a7"/><stop offset="0.2083" stop-color="#a7a7a7"/><stop offset="0.2361" stop-color="#b3b3b3"/><stop offset="0.2639" stop-color="#a7a7a7"/><stop offset="0.2917" stop-color="#a7a7a7"/><stop offset="0.3194" stop-color="#b8b8b8"/><stop offset="0.3472" stop-color="#dfdfdf"/><stop offset="0.3750" stop-color="#dfdfdf"/><stop offset="0.4028" stop-color="#c7c7c7"/><stop offset="0.4306" stop-color="#c0c0c0"/><stop offset="0.4583" stop-color="#b3b3b3"/><stop offset="0.4861" stop-color="#a7a7a7"/><stop offset="0.5139" stop-color="#a2a2a2"/><stop offset="0.5417" stop-color="#afafaf"/><stop offset="0.5694" stop-color="#c0c0c0"/><stop offset="0.5972" stop-color="#c0c0c0"/><stop offset="0.6250" stop-color="#a7a7a7"/><stop offset="0.6528" stop-color="#b3b3b3"/><stop offset="0.6806" stop-color="#b3b3b3"/><stop offset="0.7083" stop-color="#c0c0c0"/><stop offset="0.7361" stop-color="#c0c0c0"/><stop offset="0.7639" stop-color="#c0c0c0"/><stop offset="0.7917" stop-color="#c0c0c0"/><stop offset="0.8194" stop-color="#c0c0c0"/><stop offset="0.8472" stop-color="#c0c0c0"/><stop offset="0.8750" stop-color="#c0c0c0"/><stop offset="0.9028" stop-color="#b3b3b3"/><stop offset="0.9306" stop-color="#b3b3b3"/><stop offset="0.9583" stop-color="#bdbdbd"/><stop offset="0.9861" stop-color="#bdbdbd"/></linearGradient><linearGradient id="r32" gradientUnits="userSpaceOnUse" x1="308.6" y1="0" x2="1817.8" y2="0"><stop offset="0.0139" stop-color="#b3b3b3"/><stop offset="0.0417" stop-color="#b3b3b3"/><stop offset="0.0694" stop-color="#b3b3b3"/><stop offset="0.0972" stop-color="#c7c7c7"/><stop offset="0.1250" stop-color="#cccccc"/><stop offset="0.1528" stop-color="#b8b8b8"/><stop offset="0.1806" stop-color="#a7a7a7"/><stop offset="0.2083" stop-color="#a7a7a7"/><stop offset="0.2361" stop-color="#ababab"/><stop offset="0.2639" stop-color="#a7a7a7"/><stop offset="0.2917" stop-color="#a7a7a7"/><stop offset="0.3194" stop-color="#b8b8b8"/><stop offset="0.3472" stop-color="#d2d2d2"/><stop offset="0.3750" stop-color="#d2d2d2"/><stop offset="0.4028" stop-color="#bdbdbd"/><stop offset="0.4306" stop-color="#aeaeae"/><stop offset="0.4583" stop-color="#ababab"/><stop offset="0.4861" stop-color="#a7a7a7"/><stop offset="0.5139" stop-color="#999999"/><stop offset="0.5417" stop-color="#9e9e9e"/><stop offset="0.5694" stop-color="#aeaeae"/><stop offset="0.5972" stop-color="#aeaeae"/><stop offset="0.6250" stop-color="#a7a7a7"/><stop offset="0.6528" stop-color="#ababab"/><stop offset="0.6806" stop-color="#ababab"/><stop offset="0.7083" stop-color="#aeaeae"/><stop offset="0.7361" stop-color="#aeaeae"/><stop offset="0.7639" stop-color="#aeaeae"/><stop offset="0.7917" stop-color="#aeaeae"/><stop offset="0.8194" stop-color="#aeaeae"/><stop offset="0.8472" stop-color="#aeaeae"/><stop offset="0.8750" stop-color="#aeaeae"/><stop offset="0.9028" stop-color="#ababab"/><stop offset="0.9306" stop-color="#ababab"/><stop offset="0.9583" stop-color="#c7c7c7"/><stop offset="0.9861" stop-color="#c7c7c7"/></linearGradient><linearGradient id="r33" gradientUnits="userSpaceOnUse" x1="308.6" y1="0" x2="1817.8" y2="0"><stop offset="0.0139" stop-color="#b8b8b8"/><stop offset="0.0417" stop-color="#b8b8b8"/><stop offset="0.0694" stop-color="#b8b8b8"/><stop offset="0.0972" stop-color="#c7c7c7"/><stop offset="0.1250" stop-color="#c7c7c7"/><stop offset="0.1528" stop-color="#b3b3b3"/><stop offset="0.1806" stop-color="#a7a7a7"/><stop offset="0.2083" stop-color="#a7a7a7"/><stop offset="0.2361" stop-color="#a7a7a7"/><stop offset="0.2639" stop-color="#a7a7a7"/><stop offset="0.2917" stop-color="#a7a7a7"/><stop offset="0.3194" stop-color="#b3b3b3"/><stop offset="0.3472" stop-color="#c0c0c0"/><stop offset="0.3750" stop-color="#c0c0c0"/><stop offset="0.4028" stop-color="#b3b3b3"/><stop offset="0.4306" stop-color="#a7a7a7"/><stop offset="0.4583" stop-color="#a7a7a7"/><stop offset="0.4861" stop-color="#a7a7a7"/><stop offset="0.5139" stop-color="#999999"/><stop offset="0.5417" stop-color="#999999"/><stop offset="0.5694" stop-color="#a7a7a7"/><stop offset="0.5972" stop-color="#a7a7a7"/><stop offset="0.6250" stop-color="#a7a7a7"/><stop offset="0.6528" stop-color="#a7a7a7"/><stop offset="0.6806" stop-color="#a7a7a7"/><stop offset="0.7083" stop-color="#a7a7a7"/><stop offset="0.7361" stop-color="#a7a7a7"/><stop offset="0.7639" stop-color="#a7a7a7"/><stop offset="0.7917" stop-color="#a7a7a7"/><stop offset="0.8194" stop-color="#a7a7a7"/><stop offset="0.8472" stop-color="#a7a7a7"/><stop offset="0.8750" stop-color="#a7a7a7"/><stop offset="0.9028" stop-color="#a7a7a7"/><stop offset="0.9306" stop-color="#a7a7a7"/><stop offset="0.9583" stop-color="#c7c7c7"/><stop offset="0.9861" stop-color="#c7c7c7"/></linearGradient><linearGradient id="r34" gradientUnits="userSpaceOnUse" x1="308.6" y1="0" x2="1817.8" y2="0"><stop offset="0.0139" stop-color="#b8b8b8"/><stop offset="0.0417" stop-color="#b8b8b8"/><stop offset="0.0694" stop-color="#b8b8b8"/><stop offset="0.0972" stop-color="#bdbdbd"/><stop offset="0.1250" stop-color="#bdbdbd"/><stop offset="0.1528" stop-color="#ababab"/><stop offset="0.1806" stop-color="#a7a7a7"/><stop offset="0.2083" stop-color="#a7a7a7"/><stop offset="0.2361" stop-color="#a7a7a7"/><stop offset="0.2639" stop-color="#a7a7a7"/><stop offset="0.2917" stop-color="#a7a7a7"/><stop offset="0.3194" stop-color="#ababab"/><stop offset="0.3472" stop-color="#aeaeae"/><stop offset="0.3750" stop-color="#aeaeae"/><stop offset="0.4028" stop-color="#ababab"/><stop offset="0.4306" stop-color="#a7a7a7"/><stop offset="0.4583" stop-color="#a7a7a7"/><stop offset="0.4861" stop-color="#a7a7a7"/><stop offset="0.5139" stop-color="#a2a2a2"/><stop offset="0.5417" stop-color="#a2a2a2"/><stop offset="0.5694" stop-color="#a7a7a7"/><stop offset="0.5972" stop-color="#a7a7a7"/><stop offset="0.6250" stop-color="#a7a7a7"/><stop offset="0.6528" stop-color="#a7a7a7"/><stop offset="0.6806" stop-color="#a7a7a7"/><stop offset="0.7083" stop-color="#a7a7a7"/><stop offset="0.7361" stop-color="#a7a7a7"/><stop offset="0.7639" stop-color="#a7a7a7"/><stop offset="0.7917" stop-color="#a7a7a7"/><stop offset="0.8194" stop-color="#a7a7a7"/><stop offset="0.8472" stop-color="#a7a7a7"/><stop offset="0.8750" stop-color="#a7a7a7"/><stop offset="0.9028" stop-color="#a7a7a7"/><stop offset="0.9306" stop-color="#a7a7a7"/><stop offset="0.9583" stop-color="#bdbdbd"/><stop offset="0.9861" stop-color="#bdbdbd"/></linearGradient><linearGradient id="r35" gradientUnits="userSpaceOnUse" x1="308.6" y1="0" x2="1817.8" y2="0"><stop offset="0.0139" stop-color="#b8b8b8"/><stop offset="0.0417" stop-color="#b8b8b8"/><stop offset="0.0694" stop-color="#b8b8b8"/><stop offset="0.0972" stop-color="#b8b8b8"/><stop offset="0.1250" stop-color="#b8b8b8"/><stop offset="0.1528" stop-color="#a7a7a7"/><stop offset="0.1806" stop-color="#a7a7a7"/><stop offset="0.2083" stop-color="#a7a7a7"/><stop offset="0.2361" stop-color="#a7a7a7"/><stop offset="0.2639" stop-color="#a7a7a7"/><stop offset="0.2917" stop-color="#a7a7a7"/><stop offset="0.3194" stop-color="#a7a7a7"/><stop offset="0.3472" stop-color="#a7a7a7"/><stop offset="0.3750" stop-color="#a7a7a7"/><stop offset="0.4028" stop-color="#a7a7a7"/><stop offset="0.4306" stop-color="#a7a7a7"/><stop offset="0.4583" stop-color="#a7a7a7"/><stop offset="0.4861" stop-color="#a7a7a7"/><stop offset="0.5139" stop-color="#a7a7a7"/><stop offset="0.5417" stop-color="#a7a7a7"/><stop offset="0.5694" stop-color="#a7a7a7"/><stop offset="0.5972" stop-color="#a7a7a7"/><stop offset="0.6250" stop-color="#a7a7a7"/><stop offset="0.6528" stop-color="#a7a7a7"/><stop offset="0.6806" stop-color="#a7a7a7"/><stop offset="0.7083" stop-color="#a7a7a7"/><stop offset="0.7361" stop-color="#a7a7a7"/><stop offset="0.7639" stop-color="#a7a7a7"/><stop offset="0.7917" stop-color="#a7a7a7"/><stop offset="0.8194" stop-color="#a7a7a7"/><stop offset="0.8472" stop-color="#a7a7a7"/><stop offset="0.8750" stop-color="#a7a7a7"/><stop offset="0.9028" stop-color="#a7a7a7"/><stop offset="0.9306" stop-color="#a7a7a7"/><stop offset="0.9583" stop-color="#b8b8b8"/><stop offset="0.9861" stop-color="#b8b8b8"/></linearGradient><linearGradient id="n0" gradientUnits="userSpaceOnUse" x1="79.8" y1="0" x2="1006.2" y2="0"><stop offset="0.0312" stop-color="#a0a0a0"/><stop offset="0.0938" stop-color="#a0a0a0"/><stop offset="0.1562" stop-color="#a0a0a0"/><stop offset="0.2188" stop-color="#9e9e9e"/><stop offset="0.2812" stop-color="#acacac"/><stop offset="0.3438" stop-color="#adadad"/><stop offset="0.4062" stop-color="#bcbcbc"/><stop offset="0.4688" stop-color="#9d9d9d"/><stop offset="0.5312" stop-color="#acacac"/><stop offset="0.5938" stop-color="#aaaaaa"/><stop offset="0.6562" stop-color="#7b7b7b"/><stop offset="0.7188" stop-color="#a7a7a7"/><stop offset="0.7812" stop-color="#acacac"/><stop offset="0.8438" stop-color="#b1b1b1"/><stop offset="0.9062" stop-color="#b1b1b1"/><stop offset="0.9688" stop-color="#b1b1b1"/></linearGradient><linearGradient id="n1" gradientUnits="userSpaceOnUse" x1="79.8" y1="0" x2="1006.2" y2="0"><stop offset="0.0312" stop-color="#a0a0a0"/><stop offset="0.0938" stop-color="#a0a0a0"/><stop offset="0.1562" stop-color="#a0a0a0"/><stop offset="0.2188" stop-color="#9e9e9e"/><stop offset="0.2812" stop-color="#a4a4a4"/><stop offset="0.3438" stop-color="#adadad"/><stop offset="0.4062" stop-color="#bcbcbc"/><stop offset="0.4688" stop-color="#a1a1a1"/><stop offset="0.5312" stop-color="#acacac"/><stop offset="0.5938" stop-color="#aaaaaa"/><stop offset="0.6562" stop-color="#838383"/><stop offset="0.7188" stop-color="#ababab"/><stop offset="0.7812" stop-color="#a8a8a8"/><stop offset="0.8438" stop-color="#adadad"/><stop offset="0.9062" stop-color="#adadad"/><stop offset="0.9688" stop-color="#acacac"/></linearGradient><linearGradient id="n2" gradientUnits="userSpaceOnUse" x1="79.8" y1="0" x2="1006.2" y2="0"><stop offset="0.0312" stop-color="#a0a0a0"/><stop offset="0.0938" stop-color="#a0a0a0"/><stop offset="0.1562" stop-color="#9f9f9f"/><stop offset="0.2188" stop-color="#9d9d9d"/><stop offset="0.2812" stop-color="#8f8f8f"/><stop offset="0.3438" stop-color="#adadad"/><stop offset="0.4062" stop-color="#bdbdbd"/><stop offset="0.4688" stop-color="#aaaaaa"/><stop offset="0.5312" stop-color="#aeaeae"/><stop offset="0.5938" stop-color="#acacac"/><stop offset="0.6562" stop-color="#919191"/><stop offset="0.7188" stop-color="#b1b1b1"/><stop offset="0.7812" stop-color="#a1a1a1"/><stop offset="0.8438" stop-color="#a5a5a5"/><stop offset="0.9062" stop-color="#a5a5a5"/><stop offset="0.9688" stop-color="#a4a4a4"/></linearGradient><linearGradient id="n3" gradientUnits="userSpaceOnUse" x1="79.8" y1="0" x2="1006.2" y2="0"><stop offset="0.0312" stop-color="#a8a8a8"/><stop offset="0.0938" stop-color="#a7a7a7"/><stop offset="0.1562" stop-color="#a6a6a6"/><stop offset="0.2188" stop-color="#9d9d9d"/><stop offset="0.2812" stop-color="#828282"/><stop offset="0.3438" stop-color="#b0b0b0"/><stop offset="0.4062" stop-color="#b8b8b8"/><stop offset="0.4688" stop-color="#afafaf"/><stop offset="0.5312" stop-color="#ababab"/><stop offset="0.5938" stop-color="#a9a9a9"/><stop offset="0.6562" stop-color="#929292"/><stop offset="0.7188" stop-color="#b2b2b2"/><stop offset="0.7812" stop-color="#989898"/><stop offset="0.8438" stop-color="#a6a6a6"/><stop offset="0.9062" stop-color="#a5a5a5"/><stop offset="0.9688" stop-color="#a4a4a4"/></linearGradient><linearGradient id="n4" gradientUnits="userSpaceOnUse" x1="79.8" y1="0" x2="1006.2" y2="0"><stop offset="0.0312" stop-color="#b7b7b7"/><stop offset="0.0938" stop-color="#b5b5b5"/><stop offset="0.1562" stop-color="#b4b4b4"/><stop offset="0.2188" stop-color="#9c9c9c"/><stop offset="0.2812" stop-color="#828282"/><stop offset="0.3438" stop-color="#b6b6b6"/><stop offset="0.4062" stop-color="#b2b2b2"/><stop offset="0.4688" stop-color="#b0b0b0"/><stop offset="0.5312" stop-color="#a4a4a4"/><stop offset="0.5938" stop-color="#a3a3a3"/><stop offset="0.6562" stop-color="#878787"/><stop offset="0.7188" stop-color="#acacac"/><stop offset="0.7812" stop-color="#8c8c8c"/><stop offset="0.8438" stop-color="#afafaf"/><stop offset="0.9062" stop-color="#aeaeae"/><stop offset="0.9688" stop-color="#acacac"/></linearGradient><linearGradient id="n5" gradientUnits="userSpaceOnUse" x1="79.8" y1="0" x2="1006.2" y2="0"><stop offset="0.0312" stop-color="#c5c5c5"/><stop offset="0.0938" stop-color="#c3c3c3"/><stop offset="0.1562" stop-color="#bdbdbd"/><stop offset="0.2188" stop-color="#9d9d9d"/><stop offset="0.2812" stop-color="#8f8f8f"/><stop offset="0.3438" stop-color="#b6b6b6"/><stop offset="0.4062" stop-color="#aaaaaa"/><stop offset="0.4688" stop-color="#acacac"/><stop offset="0.5312" stop-color="#a0a0a0"/><stop offset="0.5938" stop-color="#9b9b9b"/><stop offset="0.6562" stop-color="#8e8e8e"/><stop offset="0.7188" stop-color="#a9a9a9"/><stop offset="0.7812" stop-color="#8d8d8d"/><stop offset="0.8438" stop-color="#b3b3b3"/><stop offset="0.9062" stop-color="#b5b5b5"/><stop offset="0.9688" stop-color="#b4b4b4"/></linearGradient><linearGradient id="n6" gradientUnits="userSpaceOnUse" x1="79.8" y1="0" x2="1006.2" y2="0"><stop offset="0.0312" stop-color="#cbcbcb"/><stop offset="0.0938" stop-color="#c8c8c8"/><stop offset="0.1562" stop-color="#bdbdbd"/><stop offset="0.2188" stop-color="#9d9d9d"/><stop offset="0.2812" stop-color="#a5a5a5"/><stop offset="0.3438" stop-color="#b1b1b1"/><stop offset="0.4062" stop-color="#a1a1a1"/><stop offset="0.4688" stop-color="#a1a1a1"/><stop offset="0.5312" stop-color="#9f9f9f"/><stop offset="0.5938" stop-color="#8e8e8e"/><stop offset="0.6562" stop-color="#a3a3a3"/><stop offset="0.7188" stop-color="#ababab"/><stop offset="0.7812" stop-color="#9a9a9a"/><stop offset="0.8438" stop-color="#b2b2b2"/><stop offset="0.9062" stop-color="#bcbcbc"/><stop offset="0.9688" stop-color="#bbbbbb"/></linearGradient><linearGradient id="n7" gradientUnits="userSpaceOnUse" x1="79.8" y1="0" x2="1006.2" y2="0"><stop offset="0.0312" stop-color="#bfbfbf"/><stop offset="0.0938" stop-color="#b6b6b6"/><stop offset="0.1562" stop-color="#aaaaaa"/><stop offset="0.2188" stop-color="#9e9e9e"/><stop offset="0.2812" stop-color="#acacac"/><stop offset="0.3438" stop-color="#a6a6a6"/><stop offset="0.4062" stop-color="#959595"/><stop offset="0.4688" stop-color="#9b9b9b"/><stop offset="0.5312" stop-color="#999999"/><stop offset="0.5938" stop-color="#8d8d8d"/><stop offset="0.6562" stop-color="#a8a8a8"/><stop offset="0.7188" stop-color="#a3a3a3"/><stop offset="0.7812" stop-color="#939393"/><stop offset="0.8438" stop-color="#b1b1b1"/><stop offset="0.9062" stop-color="#b6b6b6"/><stop offset="0.9688" stop-color="#b5b5b5"/></linearGradient><linearGradient id="n8" gradientUnits="userSpaceOnUse" x1="79.8" y1="0" x2="1006.2" y2="0"><stop offset="0.0312" stop-color="#aaaaaa"/><stop offset="0.0938" stop-color="#9b9b9b"/><stop offset="0.1562" stop-color="#828282"/><stop offset="0.2188" stop-color="#9f9f9f"/><stop offset="0.2812" stop-color="#a5a5a5"/><stop offset="0.3438" stop-color="#939393"/><stop offset="0.4062" stop-color="#868686"/><stop offset="0.4688" stop-color="#989898"/><stop offset="0.5312" stop-color="#898989"/><stop offset="0.5938" stop-color="#989898"/><stop offset="0.6562" stop-color="#a1a1a1"/><stop offset="0.7188" stop-color="#919191"/><stop offset="0.7812" stop-color="#757575"/><stop offset="0.8438" stop-color="#b0b0b0"/><stop offset="0.9062" stop-color="#a6a6a6"/><stop offset="0.9688" stop-color="#a6a6a6"/></linearGradient><linearGradient id="n9" gradientUnits="userSpaceOnUse" x1="79.8" y1="0" x2="1006.2" y2="0"><stop offset="0.0312" stop-color="#a5a5a5"/><stop offset="0.0938" stop-color="#8f8f8f"/><stop offset="0.1562" stop-color="#636363"/><stop offset="0.2188" stop-color="#a0a0a0"/><stop offset="0.2812" stop-color="#a2a2a2"/><stop offset="0.3438" stop-color="#818181"/><stop offset="0.4062" stop-color="#858585"/><stop offset="0.4688" stop-color="#979797"/><stop offset="0.5312" stop-color="#888888"/><stop offset="0.5938" stop-color="#9d9d9d"/><stop offset="0.6562" stop-color="#9d9d9d"/><stop offset="0.7188" stop-color="#868686"/><stop offset="0.7812" stop-color="#636363"/><stop offset="0.8438" stop-color="#afafaf"/><stop offset="0.9062" stop-color="#9e9e9e"/><stop offset="0.9688" stop-color="#9f9f9f"/></linearGradient><linearGradient id="n10" gradientUnits="userSpaceOnUse" x1="79.8" y1="0" x2="1006.2" y2="0"><stop offset="0.0312" stop-color="#acacac"/><stop offset="0.0938" stop-color="#9b9b9b"/><stop offset="0.1562" stop-color="#656565"/><stop offset="0.2188" stop-color="#a0a0a0"/><stop offset="0.2812" stop-color="#a2a2a2"/><stop offset="0.3438" stop-color="#6e6e6e"/><stop offset="0.4062" stop-color="#939393"/><stop offset="0.4688" stop-color="#999999"/><stop offset="0.5312" stop-color="#969696"/><stop offset="0.5938" stop-color="#9d9d9d"/><stop offset="0.6562" stop-color="#9e9e9e"/><stop offset="0.7188" stop-color="#878787"/><stop offset="0.7812" stop-color="#626262"/><stop offset="0.8438" stop-color="#aeaeae"/><stop offset="0.9062" stop-color="#9e9e9e"/><stop offset="0.9688" stop-color="#9f9f9f"/></linearGradient><linearGradient id="n11" gradientUnits="userSpaceOnUse" x1="79.8" y1="0" x2="1006.2" y2="0"><stop offset="0.0312" stop-color="#a6a6a6"/><stop offset="0.0938" stop-color="#9f9f9f"/><stop offset="0.1562" stop-color="#5f5f5f"/><stop offset="0.2188" stop-color="#969696"/><stop offset="0.2812" stop-color="#a1a1a1"/><stop offset="0.3438" stop-color="#777777"/><stop offset="0.4062" stop-color="#9b9b9b"/><stop offset="0.4688" stop-color="#9a9a9a"/><stop offset="0.5312" stop-color="#9c9c9c"/><stop offset="0.5938" stop-color="#9e9e9e"/><stop offset="0.6562" stop-color="#9a9a9a"/><stop offset="0.7188" stop-color="#818181"/><stop offset="0.7812" stop-color="#616161"/><stop offset="0.8438" stop-color="#a9a9a9"/><stop offset="0.9062" stop-color="#a2a2a2"/><stop offset="0.9688" stop-color="#a0a0a0"/></linearGradient><linearGradient id="n12" gradientUnits="userSpaceOnUse" x1="79.8" y1="0" x2="1006.2" y2="0"><stop offset="0.0312" stop-color="#909090"/><stop offset="0.0938" stop-color="#9f9f9f"/><stop offset="0.1562" stop-color="#525252"/><stop offset="0.2188" stop-color="#7b7b7b"/><stop offset="0.2812" stop-color="#a0a0a0"/><stop offset="0.3438" stop-color="#949494"/><stop offset="0.4062" stop-color="#9d9d9d"/><stop offset="0.4688" stop-color="#9d9d9d"/><stop offset="0.5312" stop-color="#9e9e9e"/><stop offset="0.5938" stop-color="#9f9f9f"/><stop offset="0.6562" stop-color="#8e8e8e"/><stop offset="0.7188" stop-color="#6e6e6e"/><stop offset="0.7812" stop-color="#616161"/><stop offset="0.8438" stop-color="#a0a0a0"/><stop offset="0.9062" stop-color="#aaaaaa"/><stop offset="0.9688" stop-color="#a0a0a0"/></linearGradient><linearGradient id="n13" gradientUnits="userSpaceOnUse" x1="79.8" y1="0" x2="1006.2" y2="0"><stop offset="0.0312" stop-color="#838383"/><stop offset="0.0938" stop-color="#a3a3a3"/><stop offset="0.1562" stop-color="#666666"/><stop offset="0.2188" stop-color="#727272"/><stop offset="0.2812" stop-color="#9a9a9a"/><stop offset="0.3438" stop-color="#9e9e9e"/><stop offset="0.4062" stop-color="#9e9e9e"/><stop offset="0.4688" stop-color="#9e9e9e"/><stop offset="0.5312" stop-color="#9f9f9f"/><stop offset="0.5938" stop-color="#9f9f9f"/><stop offset="0.6562" stop-color="#888888"/><stop offset="0.7188" stop-color="#656565"/><stop offset="0.7812" stop-color="#616161"/><stop offset="0.8438" stop-color="#a0a0a0"/><stop offset="0.9062" stop-color="#a6a6a6"/><stop offset="0.9688" stop-color="#9c9c9c"/></linearGradient><linearGradient id="n14" gradientUnits="userSpaceOnUse" x1="79.8" y1="0" x2="1006.2" y2="0"><stop offset="0.0312" stop-color="#848484"/><stop offset="0.0938" stop-color="#ababab"/><stop offset="0.1562" stop-color="#929292"/><stop offset="0.2188" stop-color="#828282"/><stop offset="0.2812" stop-color="#8d8d8d"/><stop offset="0.3438" stop-color="#9e9e9e"/><stop offset="0.4062" stop-color="#9f9f9f"/><stop offset="0.4688" stop-color="#9f9f9f"/><stop offset="0.5312" stop-color="#9f9f9f"/><stop offset="0.5938" stop-color="#a0a0a0"/><stop offset="0.6562" stop-color="#898989"/><stop offset="0.7188" stop-color="#656565"/><stop offset="0.7812" stop-color="#626262"/><stop offset="0.8438" stop-color="#a9a9a9"/><stop offset="0.9062" stop-color="#949494"/><stop offset="0.9688" stop-color="#919191"/></linearGradient><linearGradient id="n15" gradientUnits="userSpaceOnUse" x1="79.8" y1="0" x2="1006.2" y2="0"><stop offset="0.0312" stop-color="#858585"/><stop offset="0.0938" stop-color="#b0b0b0"/><stop offset="0.1562" stop-color="#9c9c9c"/><stop offset="0.2188" stop-color="#8e8e8e"/><stop offset="0.2812" stop-color="#858585"/><stop offset="0.3438" stop-color="#9d9d9d"/><stop offset="0.4062" stop-color="#9f9f9f"/><stop offset="0.4688" stop-color="#a0a0a0"/><stop offset="0.5312" stop-color="#a0a0a0"/><stop offset="0.5938" stop-color="#a0a0a0"/><stop offset="0.6562" stop-color="#8f8f8f"/><stop offset="0.7188" stop-color="#6e6e6e"/><stop offset="0.7812" stop-color="#6d6d6d"/><stop offset="0.8438" stop-color="#a6a6a6"/><stop offset="0.9062" stop-color="#8f8f8f"/><stop offset="0.9688" stop-color="#989898"/></linearGradient><linearGradient id="n16" gradientUnits="userSpaceOnUse" x1="79.8" y1="0" x2="1006.2" y2="0"><stop offset="0.0312" stop-color="#888888"/><stop offset="0.0938" stop-color="#b0b0b0"/><stop offset="0.1562" stop-color="#8f8f8f"/><stop offset="0.2188" stop-color="#999999"/><stop offset="0.2812" stop-color="#848484"/><stop offset="0.3438" stop-color="#9d9d9d"/><stop offset="0.4062" stop-color="#9f9f9f"/><stop offset="0.4688" stop-color="#a0a0a0"/><stop offset="0.5312" stop-color="#a0a0a0"/><stop offset="0.5938" stop-color="#a0a0a0"/><stop offset="0.6562" stop-color="#9a9a9a"/><stop offset="0.7188" stop-color="#808080"/><stop offset="0.7812" stop-color="#818181"/><stop offset="0.8438" stop-color="#959595"/><stop offset="0.9062" stop-color="#9c9c9c"/><stop offset="0.9688" stop-color="#aaaaaa"/></linearGradient><linearGradient id="n17" gradientUnits="userSpaceOnUse" x1="79.8" y1="0" x2="1006.2" y2="0"><stop offset="0.0312" stop-color="#8a8a8a"/><stop offset="0.0938" stop-color="#b0b0b0"/><stop offset="0.1562" stop-color="#888888"/><stop offset="0.2188" stop-color="#999999"/><stop offset="0.2812" stop-color="#8a8a8a"/><stop offset="0.3438" stop-color="#9d9d9d"/><stop offset="0.4062" stop-color="#9f9f9f"/><stop offset="0.4688" stop-color="#a0a0a0"/><stop offset="0.5312" stop-color="#a0a0a0"/><stop offset="0.5938" stop-color="#9f9f9f"/><stop offset="0.6562" stop-color="#9a9a9a"/><stop offset="0.7188" stop-color="#878787"/><stop offset="0.7812" stop-color="#909090"/><stop offset="0.8438" stop-color="#989898"/><stop offset="0.9062" stop-color="#a2a2a2"/><stop offset="0.9688" stop-color="#b3b3b3"/></linearGradient><linearGradient id="n18" gradientUnits="userSpaceOnUse" x1="79.8" y1="0" x2="1006.2" y2="0"><stop offset="0.0312" stop-color="#8c8c8c"/><stop offset="0.0938" stop-color="#b1b1b1"/><stop offset="0.1562" stop-color="#878787"/><stop offset="0.2188" stop-color="#8c8c8c"/><stop offset="0.2812" stop-color="#999999"/><stop offset="0.3438" stop-color="#9e9e9e"/><stop offset="0.4062" stop-color="#9f9f9f"/><stop offset="0.4688" stop-color="#9f9f9f"/><stop offset="0.5312" stop-color="#9f9f9f"/><stop offset="0.5938" stop-color="#9f9f9f"/><stop offset="0.6562" stop-color="#8d8d8d"/><stop offset="0.7188" stop-color="#868686"/><stop offset="0.7812" stop-color="#9c9c9c"/><stop offset="0.8438" stop-color="#aaaaaa"/><stop offset="0.9062" stop-color="#a3a3a3"/><stop offset="0.9688" stop-color="#b4b4b4"/></linearGradient><linearGradient id="n19" gradientUnits="userSpaceOnUse" x1="79.8" y1="0" x2="1006.2" y2="0"><stop offset="0.0312" stop-color="#939393"/><stop offset="0.0938" stop-color="#b1b1b1"/><stop offset="0.1562" stop-color="#7f7f7f"/><stop offset="0.2188" stop-color="#8e8e8e"/><stop offset="0.2812" stop-color="#a4a4a4"/><stop offset="0.3438" stop-color="#9c9c9c"/><stop offset="0.4062" stop-color="#9f9f9f"/><stop offset="0.4688" stop-color="#9f9f9f"/><stop offset="0.5312" stop-color="#9e9e9e"/><stop offset="0.5938" stop-color="#9e9e9e"/><stop offset="0.6562" stop-color="#8c8c8c"/><stop offset="0.7188" stop-color="#8c8c8c"/><stop offset="0.7812" stop-color="#a4a4a4"/><stop offset="0.8438" stop-color="#a6a6a6"/><stop offset="0.9062" stop-color="#a4a4a4"/><stop offset="0.9688" stop-color="#b9b9b9"/></linearGradient><linearGradient id="n20" gradientUnits="userSpaceOnUse" x1="79.8" y1="0" x2="1006.2" y2="0"><stop offset="0.0312" stop-color="#9e9e9e"/><stop offset="0.0938" stop-color="#b1b1b1"/><stop offset="0.1562" stop-color="#6c6c6c"/><stop offset="0.2188" stop-color="#9c9c9c"/><stop offset="0.2812" stop-color="#b1b1b1"/><stop offset="0.3438" stop-color="#949494"/><stop offset="0.4062" stop-color="#a0a0a0"/><stop offset="0.4688" stop-color="#9e9e9e"/><stop offset="0.5312" stop-color="#9d9d9d"/><stop offset="0.5938" stop-color="#9c9c9c"/><stop offset="0.6562" stop-color="#979797"/><stop offset="0.7188" stop-color="#989898"/><stop offset="0.7812" stop-color="#acacac"/><stop offset="0.8438" stop-color="#848484"/><stop offset="0.9062" stop-color="#a4a4a4"/><stop offset="0.9688" stop-color="#c6c6c6"/></linearGradient><linearGradient id="n21" gradientUnits="userSpaceOnUse" x1="79.8" y1="0" x2="1006.2" y2="0"><stop offset="0.0312" stop-color="#aaaaaa"/><stop offset="0.0938" stop-color="#b4b4b4"/><stop offset="0.1562" stop-color="#6c6c6c"/><stop offset="0.2188" stop-color="#a9a9a9"/><stop offset="0.2812" stop-color="#b4b4b4"/><stop offset="0.3438" stop-color="#929292"/><stop offset="0.4062" stop-color="#9c9c9c"/><stop offset="0.4688" stop-color="#999999"/><stop offset="0.5312" stop-color="#979797"/><stop offset="0.5938" stop-color="#969696"/><stop offset="0.6562" stop-color="#969696"/><stop offset="0.7188" stop-color="#9c9c9c"/><stop offset="0.7812" stop-color="#a2a2a2"/><stop offset="0.8438" stop-color="#848484"/><stop offset="0.9062" stop-color="#a0a0a0"/><stop offset="0.9688" stop-color="#d5d5d5"/></linearGradient><linearGradient id="n22" gradientUnits="userSpaceOnUse" x1="79.8" y1="0" x2="1006.2" y2="0"><stop offset="0.0312" stop-color="#b8b8b8"/><stop offset="0.0938" stop-color="#bababa"/><stop offset="0.1562" stop-color="#7d7d7d"/><stop offset="0.2188" stop-color="#bababa"/><stop offset="0.2812" stop-color="#afafaf"/><stop offset="0.3438" stop-color="#959595"/><stop offset="0.4062" stop-color="#929292"/><stop offset="0.4688" stop-color="#8c8c8c"/><stop offset="0.5312" stop-color="#8a8a8a"/><stop offset="0.5938" stop-color="#888888"/><stop offset="0.6562" stop-color="#898989"/><stop offset="0.7188" stop-color="#9c9c9c"/><stop offset="0.7812" stop-color="#808080"/><stop offset="0.8438" stop-color="#a5a5a5"/><stop offset="0.9062" stop-color="#989898"/><stop offset="0.9688" stop-color="#e7e7e7"/></linearGradient><linearGradient id="n23" gradientUnits="userSpaceOnUse" x1="79.8" y1="0" x2="1006.2" y2="0"><stop offset="0.0312" stop-color="#bbbbbb"/><stop offset="0.0938" stop-color="#b7b7b7"/><stop offset="0.1562" stop-color="#939393"/><stop offset="0.2188" stop-color="#c4c4c4"/><stop offset="0.2812" stop-color="#ababab"/><stop offset="0.3438" stop-color="#9f9f9f"/><stop offset="0.4062" stop-color="#8d8d8d"/><stop offset="0.4688" stop-color="#818181"/><stop offset="0.5312" stop-color="#848484"/><stop offset="0.5938" stop-color="#888888"/><stop offset="0.6562" stop-color="#888888"/><stop offset="0.7188" stop-color="#979797"/><stop offset="0.7812" stop-color="#878787"/><stop offset="0.8438" stop-color="#b4b4b4"/><stop offset="0.9062" stop-color="#a0a0a0"/><stop offset="0.9688" stop-color="#fefefe"/></linearGradient><linearGradient id="n24" gradientUnits="userSpaceOnUse" x1="79.8" y1="0" x2="1006.2" y2="0"><stop offset="0.0312" stop-color="#b0b0b0"/><stop offset="0.0938" stop-color="#aeaeae"/><stop offset="0.1562" stop-color="#aaaaaa"/><stop offset="0.2188" stop-color="#c1c1c1"/><stop offset="0.2812" stop-color="#a9a9a9"/><stop offset="0.3438" stop-color="#b0b0b0"/><stop offset="0.4062" stop-color="#8f8f8f"/><stop offset="0.4688" stop-color="#727272"/><stop offset="0.5312" stop-color="#868686"/><stop offset="0.5938" stop-color="#969696"/><stop offset="0.6562" stop-color="#959595"/><stop offset="0.7188" stop-color="#8a8a8a"/><stop offset="0.7812" stop-color="#b2b2b2"/><stop offset="0.8438" stop-color="#b5b5b5"/><stop offset="0.9062" stop-color="#b9b9b9"/><stop offset="0.9688" stop-color="#ffffff"/></linearGradient><linearGradient id="n25" gradientUnits="userSpaceOnUse" x1="79.8" y1="0" x2="1006.2" y2="0"><stop offset="0.0312" stop-color="#a9a9a9"/><stop offset="0.0938" stop-color="#9b9b9b"/><stop offset="0.1562" stop-color="#a3a3a3"/><stop offset="0.2188" stop-color="#afafaf"/><stop offset="0.2812" stop-color="#a7a7a7"/><stop offset="0.3438" stop-color="#ababab"/><stop offset="0.4062" stop-color="#8a8a8a"/><stop offset="0.4688" stop-color="#767676"/><stop offset="0.5312" stop-color="#949494"/><stop offset="0.5938" stop-color="#9c9c9c"/><stop offset="0.6562" stop-color="#959595"/><stop offset="0.7188" stop-color="#838383"/><stop offset="0.7812" stop-color="#cacaca"/><stop offset="0.8438" stop-color="#b6b6b6"/><stop offset="0.9062" stop-color="#c8c8c8"/><stop offset="0.9688" stop-color="#dfdfdf"/></linearGradient><linearGradient id="n26" gradientUnits="userSpaceOnUse" x1="79.8" y1="0" x2="1006.2" y2="0"><stop offset="0.0312" stop-color="#a7a7a7"/><stop offset="0.0938" stop-color="#6d6d6d"/><stop offset="0.1562" stop-color="#717171"/><stop offset="0.2188" stop-color="#949494"/><stop offset="0.2812" stop-color="#a5a5a5"/><stop offset="0.3438" stop-color="#8b8b8b"/><stop offset="0.4062" stop-color="#7e7e7e"/><stop offset="0.4688" stop-color="#888888"/><stop offset="0.5312" stop-color="#a8a8a8"/><stop offset="0.5938" stop-color="#9d9d9d"/><stop offset="0.6562" stop-color="#898989"/><stop offset="0.7188" stop-color="#838383"/><stop offset="0.7812" stop-color="#c5c5c5"/><stop offset="0.8438" stop-color="#b7b7b7"/><stop offset="0.9062" stop-color="#bebebe"/><stop offset="0.9688" stop-color="#c4c4c4"/></linearGradient><linearGradient id="n27" gradientUnits="userSpaceOnUse" x1="79.8" y1="0" x2="1006.2" y2="0"><stop offset="0.0312" stop-color="#9e9e9e"/><stop offset="0.0938" stop-color="#5c5c5c"/><stop offset="0.1562" stop-color="#5a5a5a"/><stop offset="0.2188" stop-color="#8f8f8f"/><stop offset="0.2812" stop-color="#9f9f9f"/><stop offset="0.3438" stop-color="#7c7c7c"/><stop offset="0.4062" stop-color="#848484"/><stop offset="0.4688" stop-color="#959595"/><stop offset="0.5312" stop-color="#b4b4b4"/><stop offset="0.5938" stop-color="#989898"/><stop offset="0.6562" stop-color="#8a8a8a"/><stop offset="0.7188" stop-color="#848484"/><stop offset="0.7812" stop-color="#bcbcbc"/><stop offset="0.8438" stop-color="#b5b5b5"/><stop offset="0.9062" stop-color="#b7b7b7"/><stop offset="0.9688" stop-color="#bababa"/></linearGradient><linearGradient id="n28" gradientUnits="userSpaceOnUse" x1="79.8" y1="0" x2="1006.2" y2="0"><stop offset="0.0312" stop-color="#8c8c8c"/><stop offset="0.0938" stop-color="#737373"/><stop offset="0.1562" stop-color="#717171"/><stop offset="0.2188" stop-color="#a4a4a4"/><stop offset="0.2812" stop-color="#929292"/><stop offset="0.3438" stop-color="#888888"/><stop offset="0.4062" stop-color="#9b9b9b"/><stop offset="0.4688" stop-color="#9e9e9e"/><stop offset="0.5312" stop-color="#bababa"/><stop offset="0.5938" stop-color="#8c8c8c"/><stop offset="0.6562" stop-color="#979797"/><stop offset="0.7188" stop-color="#858585"/><stop offset="0.7812" stop-color="#b3b3b3"/><stop offset="0.8438" stop-color="#b2b2b2"/><stop offset="0.9062" stop-color="#b4b4b4"/><stop offset="0.9688" stop-color="#b7b7b7"/></linearGradient><linearGradient id="n29" gradientUnits="userSpaceOnUse" x1="79.8" y1="0" x2="1006.2" y2="0"><stop offset="0.0312" stop-color="#909090"/><stop offset="0.0938" stop-color="#8d8d8d"/><stop offset="0.1562" stop-color="#8b8b8b"/><stop offset="0.2188" stop-color="#adadad"/><stop offset="0.2812" stop-color="#969696"/><stop offset="0.3438" stop-color="#989898"/><stop offset="0.4062" stop-color="#a9a9a9"/><stop offset="0.4688" stop-color="#a8a8a8"/><stop offset="0.5312" stop-color="#b9b9b9"/><stop offset="0.5938" stop-color="#929292"/><stop offset="0.6562" stop-color="#a1a1a1"/><stop offset="0.7188" stop-color="#858585"/><stop offset="0.7812" stop-color="#a5a5a5"/><stop offset="0.8438" stop-color="#a6a6a6"/><stop offset="0.9062" stop-color="#a9a9a9"/><stop offset="0.9688" stop-color="#acacac"/></linearGradient><linearGradient id="n30" gradientUnits="userSpaceOnUse" x1="79.8" y1="0" x2="1006.2" y2="0"><stop offset="0.0312" stop-color="#a6a6a6"/><stop offset="0.0938" stop-color="#a4a4a4"/><stop offset="0.1562" stop-color="#a2a2a2"/><stop offset="0.2188" stop-color="#adadad"/><stop offset="0.2812" stop-color="#a7a7a7"/><stop offset="0.3438" stop-color="#a8a8a8"/><stop offset="0.4062" stop-color="#b6b6b6"/><stop offset="0.4688" stop-color="#b5b5b5"/><stop offset="0.5312" stop-color="#b2b2b2"/><stop offset="0.5938" stop-color="#a6a6a6"/><stop offset="0.6562" stop-color="#aaaaaa"/><stop offset="0.7188" stop-color="#868686"/><stop offset="0.7812" stop-color="#909090"/><stop offset="0.8438" stop-color="#8e8e8e"/><stop offset="0.9062" stop-color="#939393"/><stop offset="0.9688" stop-color="#979797"/></linearGradient><linearGradient id="n31" gradientUnits="userSpaceOnUse" x1="79.8" y1="0" x2="1006.2" y2="0"><stop offset="0.0312" stop-color="#b1b1b1"/><stop offset="0.0938" stop-color="#aeaeae"/><stop offset="0.1562" stop-color="#acacac"/><stop offset="0.2188" stop-color="#adadad"/><stop offset="0.2812" stop-color="#afafaf"/><stop offset="0.3438" stop-color="#afafaf"/><stop offset="0.4062" stop-color="#bfbfbf"/><stop offset="0.4688" stop-color="#bebebe"/><stop offset="0.5312" stop-color="#aeaeae"/><stop offset="0.5938" stop-color="#aeaeae"/><stop offset="0.6562" stop-color="#afafaf"/><stop offset="0.7188" stop-color="#868686"/><stop offset="0.7812" stop-color="#828282"/><stop offset="0.8438" stop-color="#808080"/><stop offset="0.9062" stop-color="#848484"/><stop offset="0.9688" stop-color="#898989"/></linearGradient><linearGradient id="s0" gradientUnits="userSpaceOnUse" x1="1119.8" y1="0" x2="2046.2" y2="0"><stop offset="0.0312" stop-color="#c0c0c0"/><stop offset="0.0938" stop-color="#bdbdbd"/><stop offset="0.1562" stop-color="#b9b9b9"/><stop offset="0.2188" stop-color="#bbbbbb"/><stop offset="0.2812" stop-color="#bebebe"/><stop offset="0.3438" stop-color="#bfbfbf"/><stop offset="0.4062" stop-color="#bfbfbf"/><stop offset="0.4688" stop-color="#b0b0b0"/><stop offset="0.5312" stop-color="#c0c0c0"/><stop offset="0.5938" stop-color="#cecece"/><stop offset="0.6562" stop-color="#d4d4d4"/><stop offset="0.7188" stop-color="#c6c6c6"/><stop offset="0.7812" stop-color="#c7c7c7"/><stop offset="0.8438" stop-color="#c8c8c8"/><stop offset="0.9062" stop-color="#c6c6c6"/><stop offset="0.9688" stop-color="#c4c4c4"/></linearGradient><linearGradient id="s1" gradientUnits="userSpaceOnUse" x1="1119.8" y1="0" x2="2046.2" y2="0"><stop offset="0.0312" stop-color="#b4b4b4"/><stop offset="0.0938" stop-color="#b3b3b3"/><stop offset="0.1562" stop-color="#b2b2b2"/><stop offset="0.2188" stop-color="#b3b3b3"/><stop offset="0.2812" stop-color="#bfbfbf"/><stop offset="0.3438" stop-color="#c2c2c2"/><stop offset="0.4062" stop-color="#bebebe"/><stop offset="0.4688" stop-color="#ababab"/><stop offset="0.5312" stop-color="#c2c2c2"/><stop offset="0.5938" stop-color="#cdcdcd"/><stop offset="0.6562" stop-color="#d5d5d5"/><stop offset="0.7188" stop-color="#c7c7c7"/><stop offset="0.7812" stop-color="#c8c8c8"/><stop offset="0.8438" stop-color="#c8c8c8"/><stop offset="0.9062" stop-color="#c5c5c5"/><stop offset="0.9688" stop-color="#c3c3c3"/></linearGradient><linearGradient id="s2" gradientUnits="userSpaceOnUse" x1="1119.8" y1="0" x2="2046.2" y2="0"><stop offset="0.0312" stop-color="#a2a2a2"/><stop offset="0.0938" stop-color="#a3a3a3"/><stop offset="0.1562" stop-color="#a5a5a5"/><stop offset="0.2188" stop-color="#a6a6a6"/><stop offset="0.2812" stop-color="#c1c1c1"/><stop offset="0.3438" stop-color="#c8c8c8"/><stop offset="0.4062" stop-color="#bebebe"/><stop offset="0.4688" stop-color="#a2a2a2"/><stop offset="0.5312" stop-color="#c6c6c6"/><stop offset="0.5938" stop-color="#cbcbcb"/><stop offset="0.6562" stop-color="#d7d7d7"/><stop offset="0.7188" stop-color="#c9c9c9"/><stop offset="0.7812" stop-color="#c9c9c9"/><stop offset="0.8438" stop-color="#c8c8c8"/><stop offset="0.9062" stop-color="#c4c4c4"/><stop offset="0.9688" stop-color="#c0c0c0"/></linearGradient><linearGradient id="s3" gradientUnits="userSpaceOnUse" x1="1119.8" y1="0" x2="2046.2" y2="0"><stop offset="0.0312" stop-color="#979797"/><stop offset="0.0938" stop-color="#9b9b9b"/><stop offset="0.1562" stop-color="#9f9f9f"/><stop offset="0.2188" stop-color="#9c9c9c"/><stop offset="0.2812" stop-color="#bdbdbd"/><stop offset="0.3438" stop-color="#c9c9c9"/><stop offset="0.4062" stop-color="#bebebe"/><stop offset="0.4688" stop-color="#9d9d9d"/><stop offset="0.5312" stop-color="#b9b9b9"/><stop offset="0.5938" stop-color="#c8c8c8"/><stop offset="0.6562" stop-color="#d9d9d9"/><stop offset="0.7188" stop-color="#cbcbcb"/><stop offset="0.7812" stop-color="#bebebe"/><stop offset="0.8438" stop-color="#c3c3c3"/><stop offset="0.9062" stop-color="#bdbdbd"/><stop offset="0.9688" stop-color="#b7b7b7"/></linearGradient><linearGradient id="s4" gradientUnits="userSpaceOnUse" x1="1119.8" y1="0" x2="2046.2" y2="0"><stop offset="0.0312" stop-color="#929292"/><stop offset="0.0938" stop-color="#9a9a9a"/><stop offset="0.1562" stop-color="#a0a0a0"/><stop offset="0.2188" stop-color="#929292"/><stop offset="0.2812" stop-color="#b6b6b6"/><stop offset="0.3438" stop-color="#c4c4c4"/><stop offset="0.4062" stop-color="#bdbdbd"/><stop offset="0.4688" stop-color="#9d9d9d"/><stop offset="0.5312" stop-color="#a5a5a5"/><stop offset="0.5938" stop-color="#c1c1c1"/><stop offset="0.6562" stop-color="#dbdbdb"/><stop offset="0.7188" stop-color="#cfcfcf"/><stop offset="0.7812" stop-color="#aeaeae"/><stop offset="0.8438" stop-color="#b9b9b9"/><stop offset="0.9062" stop-color="#b4b4b4"/><stop offset="0.9688" stop-color="#afafaf"/></linearGradient><linearGradient id="s5" gradientUnits="userSpaceOnUse" x1="1119.8" y1="0" x2="2046.2" y2="0"><stop offset="0.0312" stop-color="#9b9b9b"/><stop offset="0.0938" stop-color="#a2a2a2"/><stop offset="0.1562" stop-color="#a8a8a8"/><stop offset="0.2188" stop-color="#9c9c9c"/><stop offset="0.2812" stop-color="#afafaf"/><stop offset="0.3438" stop-color="#bebebe"/><stop offset="0.4062" stop-color="#bfbfbf"/><stop offset="0.4688" stop-color="#a5a5a5"/><stop offset="0.5312" stop-color="#a4a4a4"/><stop offset="0.5938" stop-color="#c2c2c2"/><stop offset="0.6562" stop-color="#d6d6d6"/><stop offset="0.7188" stop-color="#c9c9c9"/><stop offset="0.7812" stop-color="#a6a6a6"/><stop offset="0.8438" stop-color="#b5b5b5"/><stop offset="0.9062" stop-color="#acacac"/><stop offset="0.9688" stop-color="#a8a8a8"/></linearGradient><linearGradient id="s6" gradientUnits="userSpaceOnUse" x1="1119.8" y1="0" x2="2046.2" y2="0"><stop offset="0.0312" stop-color="#adadad"/><stop offset="0.0938" stop-color="#b2b2b2"/><stop offset="0.1562" stop-color="#b7b7b7"/><stop offset="0.2188" stop-color="#b4b4b4"/><stop offset="0.2812" stop-color="#a7a7a7"/><stop offset="0.3438" stop-color="#b6b6b6"/><stop offset="0.4062" stop-color="#c2c2c2"/><stop offset="0.4688" stop-color="#b6b6b6"/><stop offset="0.5312" stop-color="#b5b5b5"/><stop offset="0.5938" stop-color="#cacaca"/><stop offset="0.6562" stop-color="#cbcbcb"/><stop offset="0.7188" stop-color="#bdbdbd"/><stop offset="0.7812" stop-color="#a5a5a5"/><stop offset="0.8438" stop-color="#b4b4b4"/><stop offset="0.9062" stop-color="#a4a4a4"/><stop offset="0.9688" stop-color="#a0a0a0"/></linearGradient><linearGradient id="s7" gradientUnits="userSpaceOnUse" x1="1119.8" y1="0" x2="2046.2" y2="0"><stop offset="0.0312" stop-color="#acacac"/><stop offset="0.0938" stop-color="#bdbdbd"/><stop offset="0.1562" stop-color="#b8b8b8"/><stop offset="0.2188" stop-color="#bfbfbf"/><stop offset="0.2812" stop-color="#a9a9a9"/><stop offset="0.3438" stop-color="#b6b6b6"/><stop offset="0.4062" stop-color="#c6c6c6"/><stop offset="0.4688" stop-color="#c0c0c0"/><stop offset="0.5312" stop-color="#bebebe"/><stop offset="0.5938" stop-color="#d2d2d2"/><stop offset="0.6562" stop-color="#bcbcbc"/><stop offset="0.7188" stop-color="#b6b6b6"/><stop offset="0.7812" stop-color="#ababab"/><stop offset="0.8438" stop-color="#b2b2b2"/><stop offset="0.9062" stop-color="#a4a4a4"/><stop offset="0.9688" stop-color="#a5a5a5"/></linearGradient><linearGradient id="s8" gradientUnits="userSpaceOnUse" x1="1119.8" y1="0" x2="2046.2" y2="0"><stop offset="0.0312" stop-color="#979797"/><stop offset="0.0938" stop-color="#c1c1c1"/><stop offset="0.1562" stop-color="#a9a9a9"/><stop offset="0.2188" stop-color="#b6b6b6"/><stop offset="0.2812" stop-color="#b8b8b8"/><stop offset="0.3438" stop-color="#c1c1c1"/><stop offset="0.4062" stop-color="#cacaca"/><stop offset="0.4688" stop-color="#bbbbbb"/><stop offset="0.5312" stop-color="#b8b8b8"/><stop offset="0.5938" stop-color="#d9d9d9"/><stop offset="0.6562" stop-color="#acacac"/><stop offset="0.7188" stop-color="#b5b5b5"/><stop offset="0.7812" stop-color="#b8b8b8"/><stop offset="0.8438" stop-color="#b1b1b1"/><stop offset="0.9062" stop-color="#acacac"/><stop offset="0.9688" stop-color="#b5b5b5"/></linearGradient><linearGradient id="s9" gradientUnits="userSpaceOnUse" x1="1119.8" y1="0" x2="2046.2" y2="0"><stop offset="0.0312" stop-color="#8b8b8b"/><stop offset="0.0938" stop-color="#b8b8b8"/><stop offset="0.1562" stop-color="#a2a2a2"/><stop offset="0.2188" stop-color="#b3b3b3"/><stop offset="0.2812" stop-color="#bebebe"/><stop offset="0.3438" stop-color="#cacaca"/><stop offset="0.4062" stop-color="#cecece"/><stop offset="0.4688" stop-color="#b9b9b9"/><stop offset="0.5312" stop-color="#b3b3b3"/><stop offset="0.5938" stop-color="#d8d8d8"/><stop offset="0.6562" stop-color="#a5a5a5"/><stop offset="0.7188" stop-color="#b7b7b7"/><stop offset="0.7812" stop-color="#b7b7b7"/><stop offset="0.8438" stop-color="#ababab"/><stop offset="0.9062" stop-color="#b0b0b0"/><stop offset="0.9688" stop-color="#b6b6b6"/></linearGradient><linearGradient id="s10" gradientUnits="userSpaceOnUse" x1="1119.8" y1="0" x2="2046.2" y2="0"><stop offset="0.0312" stop-color="#8d8d8d"/><stop offset="0.0938" stop-color="#aaaaaa"/><stop offset="0.1562" stop-color="#a3a3a3"/><stop offset="0.2188" stop-color="#b3b3b3"/><stop offset="0.2812" stop-color="#b5b5b5"/><stop offset="0.3438" stop-color="#d4d4d4"/><stop offset="0.4062" stop-color="#cfcfcf"/><stop offset="0.4688" stop-color="#bbbbbb"/><stop offset="0.5312" stop-color="#acacac"/><stop offset="0.5938" stop-color="#d2d2d2"/><stop offset="0.6562" stop-color="#a6a6a6"/><stop offset="0.7188" stop-color="#c2c2c2"/><stop offset="0.7812" stop-color="#a7a7a7"/><stop offset="0.8438" stop-color="#a0a0a0"/><stop offset="0.9062" stop-color="#afafaf"/><stop offset="0.9688" stop-color="#a8a8a8"/></linearGradient><linearGradient id="s11" gradientUnits="userSpaceOnUse" x1="1119.8" y1="0" x2="2046.2" y2="0"><stop offset="0.0312" stop-color="#9e9e9e"/><stop offset="0.0938" stop-color="#a8a8a8"/><stop offset="0.1562" stop-color="#a0a0a0"/><stop offset="0.2188" stop-color="#b0b0b0"/><stop offset="0.2812" stop-color="#aeaeae"/><stop offset="0.3438" stop-color="#cacaca"/><stop offset="0.4062" stop-color="#cfcfcf"/><stop offset="0.4688" stop-color="#b6b6b6"/><stop offset="0.5312" stop-color="#a9a9a9"/><stop offset="0.5938" stop-color="#c9c9c9"/><stop offset="0.6562" stop-color="#a7a7a7"/><stop offset="0.7188" stop-color="#c3c3c3"/><stop offset="0.7812" stop-color="#a6a6a6"/><stop offset="0.8438" stop-color="#a1a1a1"/><stop offset="0.9062" stop-color="#aeaeae"/><stop offset="0.9688" stop-color="#a9a9a9"/></linearGradient><linearGradient id="s12" gradientUnits="userSpaceOnUse" x1="1119.8" y1="0" x2="2046.2" y2="0"><stop offset="0.0312" stop-color="#b6b6b6"/><stop offset="0.0938" stop-color="#b1b1b1"/><stop offset="0.1562" stop-color="#979797"/><stop offset="0.2188" stop-color="#a8a8a8"/><stop offset="0.2812" stop-color="#a6a6a6"/><stop offset="0.3438" stop-color="#bababa"/><stop offset="0.4062" stop-color="#cdcdcd"/><stop offset="0.4688" stop-color="#adadad"/><stop offset="0.5312" stop-color="#aaaaaa"/><stop offset="0.5938" stop-color="#c2c2c2"/><stop offset="0.6562" stop-color="#a8a8a8"/><stop offset="0.7188" stop-color="#bababa"/><stop offset="0.7812" stop-color="#b3b3b3"/><stop offset="0.8438" stop-color="#adadad"/><stop offset="0.9062" stop-color="#adadad"/><stop offset="0.9688" stop-color="#b8b8b8"/></linearGradient><linearGradient id="s13" gradientUnits="userSpaceOnUse" x1="1119.8" y1="0" x2="2046.2" y2="0"><stop offset="0.0312" stop-color="#c8c8c8"/><stop offset="0.0938" stop-color="#bababa"/><stop offset="0.1562" stop-color="#9f9f9f"/><stop offset="0.2188" stop-color="#a8a8a8"/><stop offset="0.2812" stop-color="#a2a2a2"/><stop offset="0.3438" stop-color="#b0b0b0"/><stop offset="0.4062" stop-color="#c1c1c1"/><stop offset="0.4688" stop-color="#aaaaaa"/><stop offset="0.5312" stop-color="#ababab"/><stop offset="0.5938" stop-color="#b7b7b7"/><stop offset="0.6562" stop-color="#b0b0b0"/><stop offset="0.7188" stop-color="#bababa"/><stop offset="0.7812" stop-color="#bbbbbb"/><stop offset="0.8438" stop-color="#b0b0b0"/><stop offset="0.9062" stop-color="#b0b0b0"/><stop offset="0.9688" stop-color="#c4c4c4"/></linearGradient><linearGradient id="s14" gradientUnits="userSpaceOnUse" x1="1119.8" y1="0" x2="2046.2" y2="0"><stop offset="0.0312" stop-color="#c6c6c6"/><stop offset="0.0938" stop-color="#c2c2c2"/><stop offset="0.1562" stop-color="#b6b6b6"/><stop offset="0.2188" stop-color="#b0b0b0"/><stop offset="0.2812" stop-color="#a2a2a2"/><stop offset="0.3438" stop-color="#a8a8a8"/><stop offset="0.4062" stop-color="#afafaf"/><stop offset="0.4688" stop-color="#aaaaaa"/><stop offset="0.5312" stop-color="#ababab"/><stop offset="0.5938" stop-color="#afafaf"/><stop offset="0.6562" stop-color="#c4c4c4"/><stop offset="0.7188" stop-color="#c4c4c4"/><stop offset="0.7812" stop-color="#bcbcbc"/><stop offset="0.8438" stop-color="#aaaaaa"/><stop offset="0.9062" stop-color="#b6b6b6"/><stop offset="0.9688" stop-color="#c3c3c3"/></linearGradient><linearGradient id="s15" gradientUnits="userSpaceOnUse" x1="1119.8" y1="0" x2="2046.2" y2="0"><stop offset="0.0312" stop-color="#bebebe"/><stop offset="0.0938" stop-color="#b9b9b9"/><stop offset="0.1562" stop-color="#c7c7c7"/><stop offset="0.2188" stop-color="#afafaf"/><stop offset="0.2812" stop-color="#a6a6a6"/><stop offset="0.3438" stop-color="#a4a4a4"/><stop offset="0.4062" stop-color="#a8a8a8"/><stop offset="0.4688" stop-color="#aaaaaa"/><stop offset="0.5312" stop-color="#ababab"/><stop offset="0.5938" stop-color="#ababab"/><stop offset="0.6562" stop-color="#c3c3c3"/><stop offset="0.7188" stop-color="#c4c4c4"/><stop offset="0.7812" stop-color="#bcbcbc"/><stop offset="0.8438" stop-color="#a8a8a8"/><stop offset="0.9062" stop-color="#bbbbbb"/><stop offset="0.9688" stop-color="#c3c3c3"/></linearGradient><linearGradient id="s16" gradientUnits="userSpaceOnUse" x1="1119.8" y1="0" x2="2046.2" y2="0"><stop offset="0.0312" stop-color="#b3b3b3"/><stop offset="0.0938" stop-color="#a8a8a8"/><stop offset="0.1562" stop-color="#c3c3c3"/><stop offset="0.2188" stop-color="#a6a6a6"/><stop offset="0.2812" stop-color="#aeaeae"/><stop offset="0.3438" stop-color="#a4a4a4"/><stop offset="0.4062" stop-color="#a9a9a9"/><stop offset="0.4688" stop-color="#ababab"/><stop offset="0.5312" stop-color="#ababab"/><stop offset="0.5938" stop-color="#aaaaaa"/><stop offset="0.6562" stop-color="#afafaf"/><stop offset="0.7188" stop-color="#b8b8b8"/><stop offset="0.7812" stop-color="#bebebe"/><stop offset="0.8438" stop-color="#ababab"/><stop offset="0.9062" stop-color="#bcbcbc"/><stop offset="0.9688" stop-color="#c2c2c2"/></linearGradient><linearGradient id="s17" gradientUnits="userSpaceOnUse" x1="1119.8" y1="0" x2="2046.2" y2="0"><stop offset="0.0312" stop-color="#aaaaaa"/><stop offset="0.0938" stop-color="#9a9a9a"/><stop offset="0.1562" stop-color="#c1c1c1"/><stop offset="0.2188" stop-color="#a5a5a5"/><stop offset="0.2812" stop-color="#b1b1b1"/><stop offset="0.3438" stop-color="#a0a0a0"/><stop offset="0.4062" stop-color="#a9a9a9"/><stop offset="0.4688" stop-color="#afafaf"/><stop offset="0.5312" stop-color="#ababab"/><stop offset="0.5938" stop-color="#a9a9a9"/><stop offset="0.6562" stop-color="#a6a6a6"/><stop offset="0.7188" stop-color="#b7b7b7"/><stop offset="0.7812" stop-color="#b5b5b5"/><stop offset="0.8438" stop-color="#b0b0b0"/><stop offset="0.9062" stop-color="#b4b4b4"/><stop offset="0.9688" stop-color="#b6b6b6"/></linearGradient><linearGradient id="s18" gradientUnits="userSpaceOnUse" x1="1119.8" y1="0" x2="2046.2" y2="0"><stop offset="0.0312" stop-color="#a1a1a1"/><stop offset="0.0938" stop-color="#8d8d8d"/><stop offset="0.1562" stop-color="#bfbfbf"/><stop offset="0.2188" stop-color="#acacac"/><stop offset="0.2812" stop-color="#b1b1b1"/><stop offset="0.3438" stop-color="#959595"/><stop offset="0.4062" stop-color="#a8a8a8"/><stop offset="0.4688" stop-color="#b7b7b7"/><stop offset="0.5312" stop-color="#aaaaaa"/><stop offset="0.5938" stop-color="#a8a8a8"/><stop offset="0.6562" stop-color="#a5a5a5"/><stop offset="0.7188" stop-color="#bfbfbf"/><stop offset="0.7812" stop-color="#a7a7a7"/><stop offset="0.8438" stop-color="#b7b7b7"/><stop offset="0.9062" stop-color="#a6a6a6"/><stop offset="0.9688" stop-color="#a7a7a7"/></linearGradient><linearGradient id="s19" gradientUnits="userSpaceOnUse" x1="1119.8" y1="0" x2="2046.2" y2="0"><stop offset="0.0312" stop-color="#989898"/><stop offset="0.0938" stop-color="#979797"/><stop offset="0.1562" stop-color="#bfbfbf"/><stop offset="0.2188" stop-color="#b0b0b0"/><stop offset="0.2812" stop-color="#adadad"/><stop offset="0.3438" stop-color="#9a9a9a"/><stop offset="0.4062" stop-color="#a7a7a7"/><stop offset="0.4688" stop-color="#b5b5b5"/><stop offset="0.5312" stop-color="#a8a8a8"/><stop offset="0.5938" stop-color="#a6a6a6"/><stop offset="0.6562" stop-color="#a8a8a8"/><stop offset="0.7188" stop-color="#c3c3c3"/><stop offset="0.7812" stop-color="#a7a7a7"/><stop offset="0.8438" stop-color="#bebebe"/><stop offset="0.9062" stop-color="#9f9f9f"/><stop offset="0.9688" stop-color="#a3a3a3"/></linearGradient><linearGradient id="s20" gradientUnits="userSpaceOnUse" x1="1119.8" y1="0" x2="2046.2" y2="0"><stop offset="0.0312" stop-color="#8c8c8c"/><stop offset="0.0938" stop-color="#b0b0b0"/><stop offset="0.1562" stop-color="#bfbfbf"/><stop offset="0.2188" stop-color="#b0b0b0"/><stop offset="0.2812" stop-color="#a4a4a4"/><stop offset="0.3438" stop-color="#a9a9a9"/><stop offset="0.4062" stop-color="#a4a4a4"/><stop offset="0.4688" stop-color="#a9a9a9"/><stop offset="0.5312" stop-color="#a5a5a5"/><stop offset="0.5938" stop-color="#a4a4a4"/><stop offset="0.6562" stop-color="#afafaf"/><stop offset="0.7188" stop-color="#c2c2c2"/><stop offset="0.7812" stop-color="#b6b6b6"/><stop offset="0.8438" stop-color="#c0c0c0"/><stop offset="0.9062" stop-color="#9f9f9f"/><stop offset="0.9688" stop-color="#aaaaaa"/></linearGradient><linearGradient id="s21" gradientUnits="userSpaceOnUse" x1="1119.8" y1="0" x2="2046.2" y2="0"><stop offset="0.0312" stop-color="#989898"/><stop offset="0.0938" stop-color="#b0b0b0"/><stop offset="0.1562" stop-color="#bababa"/><stop offset="0.2188" stop-color="#b0b0b0"/><stop offset="0.2812" stop-color="#a3a3a3"/><stop offset="0.3438" stop-color="#b4b4b4"/><stop offset="0.4062" stop-color="#a1a1a1"/><stop offset="0.4688" stop-color="#a7a7a7"/><stop offset="0.5312" stop-color="#a7a7a7"/><stop offset="0.5938" stop-color="#a7a7a7"/><stop offset="0.6562" stop-color="#b2b2b2"/><stop offset="0.7188" stop-color="#c0c0c0"/><stop offset="0.7812" stop-color="#c1c1c1"/><stop offset="0.8438" stop-color="#c1c1c1"/><stop offset="0.9062" stop-color="#a3a3a3"/><stop offset="0.9688" stop-color="#b1b1b1"/></linearGradient><linearGradient id="s22" gradientUnits="userSpaceOnUse" x1="1119.8" y1="0" x2="2046.2" y2="0"><stop offset="0.0312" stop-color="#b1b1b1"/><stop offset="0.0938" stop-color="#999999"/><stop offset="0.1562" stop-color="#b3b3b3"/><stop offset="0.2188" stop-color="#afafaf"/><stop offset="0.2812" stop-color="#ababab"/><stop offset="0.3438" stop-color="#bababa"/><stop offset="0.4062" stop-color="#9f9f9f"/><stop offset="0.4688" stop-color="#adadad"/><stop offset="0.5312" stop-color="#aeaeae"/><stop offset="0.5938" stop-color="#aeaeae"/><stop offset="0.6562" stop-color="#b0b0b0"/><stop offset="0.7188" stop-color="#bfbfbf"/><stop offset="0.7812" stop-color="#c0c0c0"/><stop offset="0.8438" stop-color="#c1c1c1"/><stop offset="0.9062" stop-color="#ababab"/><stop offset="0.9688" stop-color="#b7b7b7"/></linearGradient><linearGradient id="s23" gradientUnits="userSpaceOnUse" x1="1119.8" y1="0" x2="2046.2" y2="0"><stop offset="0.0312" stop-color="#b2b2b2"/><stop offset="0.0938" stop-color="#898989"/><stop offset="0.1562" stop-color="#b2b2b2"/><stop offset="0.2188" stop-color="#afafaf"/><stop offset="0.2812" stop-color="#b2b2b2"/><stop offset="0.3438" stop-color="#bdbdbd"/><stop offset="0.4062" stop-color="#9e9e9e"/><stop offset="0.4688" stop-color="#afafaf"/><stop offset="0.5312" stop-color="#b1b1b1"/><stop offset="0.5938" stop-color="#b1b1b1"/><stop offset="0.6562" stop-color="#afafaf"/><stop offset="0.7188" stop-color="#bdbdbd"/><stop offset="0.7812" stop-color="#bbbbbb"/><stop offset="0.8438" stop-color="#c2c2c2"/><stop offset="0.9062" stop-color="#afafaf"/><stop offset="0.9688" stop-color="#b6b6b6"/></linearGradient><linearGradient id="s24" gradientUnits="userSpaceOnUse" x1="1119.8" y1="0" x2="2046.2" y2="0"><stop offset="0.0312" stop-color="#9c9c9c"/><stop offset="0.0938" stop-color="#888888"/><stop offset="0.1562" stop-color="#b6b6b6"/><stop offset="0.2188" stop-color="#adadad"/><stop offset="0.2812" stop-color="#b7b7b7"/><stop offset="0.3438" stop-color="#bcbcbc"/><stop offset="0.4062" stop-color="#9d9d9d"/><stop offset="0.4688" stop-color="#afafaf"/><stop offset="0.5312" stop-color="#b1b1b1"/><stop offset="0.5938" stop-color="#b1b1b1"/><stop offset="0.6562" stop-color="#aeaeae"/><stop offset="0.7188" stop-color="#bababa"/><stop offset="0.7812" stop-color="#b3b3b3"/><stop offset="0.8438" stop-color="#c2c2c2"/><stop offset="0.9062" stop-color="#afafaf"/><stop offset="0.9688" stop-color="#b0b0b0"/></linearGradient><linearGradient id="s25" gradientUnits="userSpaceOnUse" x1="1119.8" y1="0" x2="2046.2" y2="0"><stop offset="0.0312" stop-color="#9d9d9d"/><stop offset="0.0938" stop-color="#989898"/><stop offset="0.1562" stop-color="#b8b8b8"/><stop offset="0.2188" stop-color="#afafaf"/><stop offset="0.2812" stop-color="#b3b3b3"/><stop offset="0.3438" stop-color="#b3b3b3"/><stop offset="0.4062" stop-color="#a4a4a4"/><stop offset="0.4688" stop-color="#aaaaaa"/><stop offset="0.5312" stop-color="#b4b4b4"/><stop offset="0.5938" stop-color="#b4b4b4"/><stop offset="0.6562" stop-color="#b0b0b0"/><stop offset="0.7188" stop-color="#b8b8b8"/><stop offset="0.7812" stop-color="#b2b2b2"/><stop offset="0.8438" stop-color="#b7b7b7"/><stop offset="0.9062" stop-color="#ababab"/><stop offset="0.9688" stop-color="#a9a9a9"/></linearGradient><linearGradient id="s26" gradientUnits="userSpaceOnUse" x1="1119.8" y1="0" x2="2046.2" y2="0"><stop offset="0.0312" stop-color="#b5b5b5"/><stop offset="0.0938" stop-color="#b0b0b0"/><stop offset="0.1562" stop-color="#b7b7b7"/><stop offset="0.2188" stop-color="#b4b4b4"/><stop offset="0.2812" stop-color="#a3a3a3"/><stop offset="0.3438" stop-color="#a4a4a4"/><stop offset="0.4062" stop-color="#b2b2b2"/><stop offset="0.4688" stop-color="#a1a1a1"/><stop offset="0.5312" stop-color="#bcbcbc"/><stop offset="0.5938" stop-color="#bbbbbb"/><stop offset="0.6562" stop-color="#b6b6b6"/><stop offset="0.7188" stop-color="#b7b7b7"/><stop offset="0.7812" stop-color="#b8b8b8"/><stop offset="0.8438" stop-color="#a8a8a8"/><stop offset="0.9062" stop-color="#a3a3a3"/><stop offset="0.9688" stop-color="#a1a1a1"/></linearGradient><linearGradient id="s27" gradientUnits="userSpaceOnUse" x1="1119.8" y1="0" x2="2046.2" y2="0"><stop offset="0.0312" stop-color="#c7c7c7"/><stop offset="0.0938" stop-color="#bebebe"/><stop offset="0.1562" stop-color="#b7b7b7"/><stop offset="0.2188" stop-color="#b8b8b8"/><stop offset="0.2812" stop-color="#a4a4a4"/><stop offset="0.3438" stop-color="#a4a4a4"/><stop offset="0.4062" stop-color="#bdbdbd"/><stop offset="0.4688" stop-color="#a5a5a5"/><stop offset="0.5312" stop-color="#b1b1b1"/><stop offset="0.5938" stop-color="#bfbfbf"/><stop offset="0.6562" stop-color="#b9b9b9"/><stop offset="0.7188" stop-color="#b6b6b6"/><stop offset="0.7812" stop-color="#bcbcbc"/><stop offset="0.8438" stop-color="#a7a7a7"/><stop offset="0.9062" stop-color="#a6a6a6"/><stop offset="0.9688" stop-color="#a4a4a4"/></linearGradient><linearGradient id="s28" gradientUnits="userSpaceOnUse" x1="1119.8" y1="0" x2="2046.2" y2="0"><stop offset="0.0312" stop-color="#c5c5c5"/><stop offset="0.0938" stop-color="#bebebe"/><stop offset="0.1562" stop-color="#b8b8b8"/><stop offset="0.2188" stop-color="#bababa"/><stop offset="0.2812" stop-color="#b4b4b4"/><stop offset="0.3438" stop-color="#b4b4b4"/><stop offset="0.4062" stop-color="#c5c5c5"/><stop offset="0.4688" stop-color="#b3b3b3"/><stop offset="0.5312" stop-color="#989898"/><stop offset="0.5938" stop-color="#bdbdbd"/><stop offset="0.6562" stop-color="#b8b8b8"/><stop offset="0.7188" stop-color="#b7b7b7"/><stop offset="0.7812" stop-color="#bbbbbb"/><stop offset="0.8438" stop-color="#b5b5b5"/><stop offset="0.9062" stop-color="#b4b4b4"/><stop offset="0.9688" stop-color="#b4b4b4"/></linearGradient><linearGradient id="s29" gradientUnits="userSpaceOnUse" x1="1119.8" y1="0" x2="2046.2" y2="0"><stop offset="0.0312" stop-color="#c3c3c3"/><stop offset="0.0938" stop-color="#bfbfbf"/><stop offset="0.1562" stop-color="#bababa"/><stop offset="0.2188" stop-color="#bcbcbc"/><stop offset="0.2812" stop-color="#bfbfbf"/><stop offset="0.3438" stop-color="#c2c2c2"/><stop offset="0.4062" stop-color="#c9c9c9"/><stop offset="0.4688" stop-color="#bdbdbd"/><stop offset="0.5312" stop-color="#858585"/><stop offset="0.5938" stop-color="#aeaeae"/><stop offset="0.6562" stop-color="#b5b5b5"/><stop offset="0.7188" stop-color="#b4b4b4"/><stop offset="0.7812" stop-color="#b6b6b6"/><stop offset="0.8438" stop-color="#b8b8b8"/><stop offset="0.9062" stop-color="#b9b9b9"/><stop offset="0.9688" stop-color="#b9b9b9"/></linearGradient><linearGradient id="s30" gradientUnits="userSpaceOnUse" x1="1119.8" y1="0" x2="2046.2" y2="0"><stop offset="0.0312" stop-color="#c1c1c1"/><stop offset="0.0938" stop-color="#bfbfbf"/><stop offset="0.1562" stop-color="#bcbcbc"/><stop offset="0.2188" stop-color="#bebebe"/><stop offset="0.2812" stop-color="#c1c1c1"/><stop offset="0.3438" stop-color="#c9c9c9"/><stop offset="0.4062" stop-color="#cbcbcb"/><stop offset="0.4688" stop-color="#bebebe"/><stop offset="0.5312" stop-color="#848484"/><stop offset="0.5938" stop-color="#939393"/><stop offset="0.6562" stop-color="#afafaf"/><stop offset="0.7188" stop-color="#afafaf"/><stop offset="0.7812" stop-color="#b0b0b0"/><stop offset="0.8438" stop-color="#b1b1b1"/><stop offset="0.9062" stop-color="#b2b2b2"/><stop offset="0.9688" stop-color="#b3b3b3"/></linearGradient><linearGradient id="s31" gradientUnits="userSpaceOnUse" x1="1119.8" y1="0" x2="2046.2" y2="0"><stop offset="0.0312" stop-color="#c0c0c0"/><stop offset="0.0938" stop-color="#bfbfbf"/><stop offset="0.1562" stop-color="#bdbdbd"/><stop offset="0.2188" stop-color="#bfbfbf"/><stop offset="0.2812" stop-color="#c2c2c2"/><stop offset="0.3438" stop-color="#cecece"/><stop offset="0.4062" stop-color="#cccccc"/><stop offset="0.4688" stop-color="#bebebe"/><stop offset="0.5312" stop-color="#838383"/><stop offset="0.5938" stop-color="#818181"/><stop offset="0.6562" stop-color="#ababab"/><stop offset="0.7188" stop-color="#acacac"/><stop offset="0.7812" stop-color="#acacac"/><stop offset="0.8438" stop-color="#adadad"/><stop offset="0.9062" stop-color="#afafaf"/><stop offset="0.9688" stop-color="#b1b1b1"/></linearGradient><linearGradient id="antg" gradientUnits="userSpaceOnUse" x1="0" y1="769.9" x2="0" y2="861.9"><stop offset="0" stop-color="#1f9f88"/><stop offset="0.35" stop-color="#1f958b"/><stop offset="1" stop-color="#218e8d"/></linearGradient><radialGradient id="antr" gradientUnits="userSpaceOnUse" cx="1583.0" cy="1777.5" r="215"><stop offset="0" stop-color="#228b8d"/><stop offset="0.6" stop-color="#20928c"/><stop offset="1" stop-color="#1fa188"/></radialGradient></defs>
</svg></body></html>
